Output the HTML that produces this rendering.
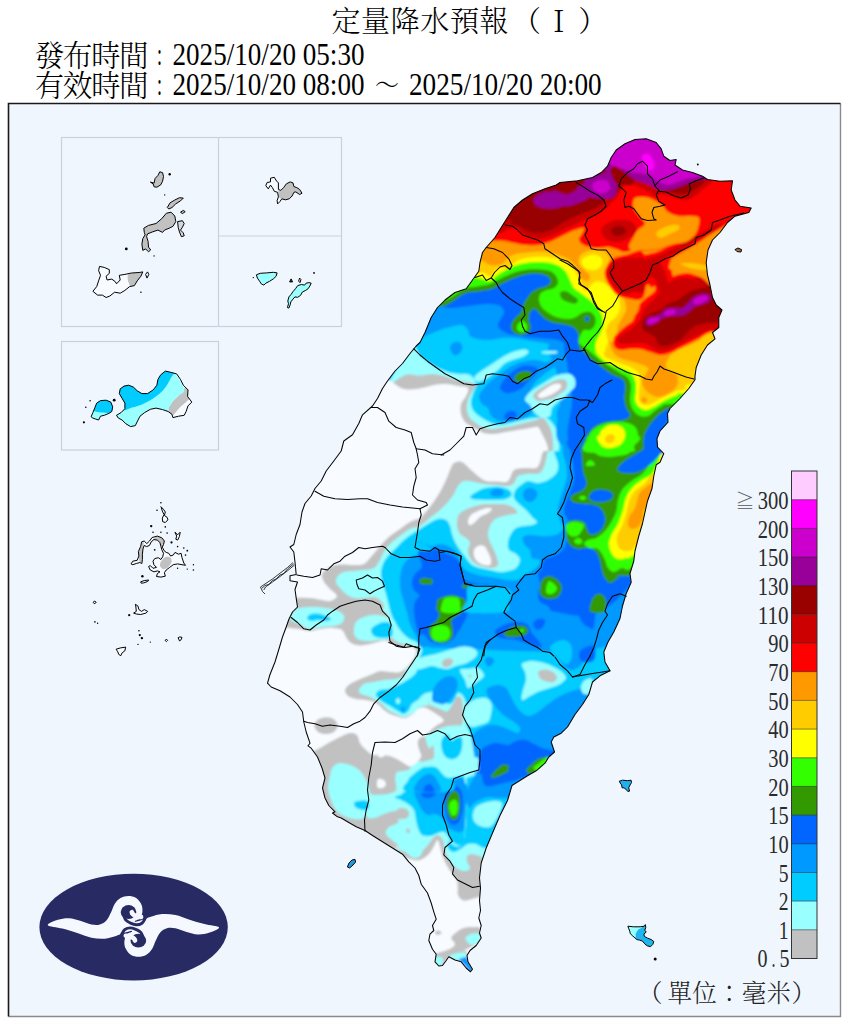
<!DOCTYPE html>
<html lang="zh-Hant"><head><meta charset="utf-8"><title>定量降水預報</title>
<style>html,body{margin:0;padding:0;background:#fff;overflow:hidden}svg{display:block}text{font-family:"Liberation Serif","Noto Serif CJK SC",serif;fill:#000}.cj{font-family:"Noto Serif CJK SC","Liberation Serif",serif;font-weight:300}</style></head><body>
<svg width="850" height="1024" viewBox="0 0 850 1024">
<rect width="850" height="1024" fill="#ffffff"/>
<rect x="8.5" y="103.5" width="832" height="913" fill="#f0f6fe"/>
<defs>
<clipPath id="tw"><path d="M420,342.5 425,332.5 431.2,317.5 437.5,307.5 445,300 455,292.5 466.2,288.8 472.5,280 478.8,271.2 480,262.5 482.5,252.5 486.2,247.5 495,237.5 501.2,227.5 507.5,217.5 513.8,207.5 522.5,200 532.5,193.8 545,188.8 556.2,185 560,182.5 577.5,180.8 592.5,177.5 601.2,172.5 607.5,166.2 611.2,157.5 616.2,150 625,143.8 635,139.5 646.2,138.8 656.2,142.5 661.2,148.8 663.8,156.2 670,160.5 676.2,159.5 675,165 682.5,170 692.5,172.5 702.5,176.2 707.5,179.5 720,181.2 732.5,180.8 731.2,190 735,200 740,206.2 751.2,208 748.8,212.5 735,216.2 727.5,222.5 720,232.5 712.5,240 708,250 706.2,262.5 707.5,275 710,285 712.5,297.5 716.2,305 722,310 718.8,317.5 718.8,327.5 712.5,332.5 715,338.8 707.5,345 701.2,355 696.2,367.5 695,376 695,379.8 688.8,388.5 680,398.5 670,408.5 667.5,413.5 668,422.2 660,431 657,438.5 657.5,447.2 663.8,453.5 660,462.2 656.2,464.8 653.8,476 652,488.5 647.5,501 645,512.2 642.5,523.5 638.8,536 635,551 633.8,561 630,573.5 631.2,582.2 626.2,593.5 622.5,606 620,618.5 613.8,632 608,642 603.8,652 605,662 610,670.8 600,675.8 592.5,682 588.8,694.5 582.5,704.5 575,714.5 567.5,727 561.2,733.2 553.8,737 551.2,742 554.5,752 548.8,757 545,763.2 536.2,770.8 527.5,775.8 517.5,782 512,785.5 507.5,800.5 500,815.5 492.5,833 486.2,848 481.2,863 479.5,878 480.5,888 479.5,900.5 480.5,910.5 478.8,918 481.2,925.5 479.5,933 481.2,938 476.2,945.5 470,950.5 467,955.5 468,961.8 472.5,969.2 470.5,971.8 466.2,968 461.2,961.8 455,960 448.8,956.8 446.2,960.5 442.5,965.5 438.8,966 435,961.8 436.2,954.2 432.5,949.2 428.8,940.5 430,934.2 433.8,930.5 432.5,925.5 436.2,919.2 433.8,911.8 431.2,903 427.5,893 421.2,884.2 418.8,875.5 415,868 408.8,861.8 402.5,854.2 392.5,848 382.5,841.8 372.5,835.5 365,830.5 356.2,826.8 347.5,821.8 341.2,818 337.5,816.8 332.5,813 335,811.8 328.8,805.5 325,798 322.5,788 325,778 322,768 317.5,757 311.2,748.2 308,745.8 310,743.2 306.2,732 303.8,722 302.5,712 297.5,704.5 290,697 280,690.8 271.2,687 267.5,683.2 270,674.5 275,662 278.8,649.5 282.5,637 286.2,627 288.8,619.5 292.5,612 297.5,607 296.2,598.2 295,589.5 297.5,582 290,580.8 290,575.8 296.2,574.5 295,562 293.8,552 290,547 293.8,544.5 296.2,534.5 300,524.5 302,512 305,503.5 311.2,496 315,488.5 321.2,481 326.2,471 333.8,461 341.2,451 343.8,441 352.5,434.8 358.8,423.5 362.5,414.8 372.5,406 377.5,398.5 382.5,388.5 387.5,381 395,371 402.5,363.5 410,353.5 416.2,346Z"/></clipPath>
<clipPath id="c_m1"><path d="M150.4,182.1 154.1,183.1 155.1,178.4 157.9,175.5 159.8,171.8 162.6,172.7 163.5,176.5 162.6,181.2 160.7,184.9 156.9,187.2 154.1,186.8 153.2,184Z"/></clipPath>
<clipPath id="c_m2"><path d="M167.3,207.5 170.1,202.8 174.8,200 179.5,197.7 183.3,198.1 180.5,200.9 175.8,203.8 172,207.5 168.8,209Z"/></clipPath>
<clipPath id="c_m3"><path d="M143.8,228.2 148.5,225.4 156,223.5 161.6,218.8 166.4,213.2 171.1,212.2 174.8,216 175.8,221.6 172.9,226.4 169.2,228.2 164.5,230.1 162.6,232.4 157.9,230.1 152.2,232 147.5,233.9 146.6,236.7 148.1,241.4 148.5,247.1 150.7,249.9 148.5,251.8 145.6,248.9 142.8,250.4 141.9,244.2 142.8,238.6 145.1,234.8 144.3,232.4Z"/></clipPath>
<clipPath id="c_m4"><path d="M177.6,221.6 182.4,220.7 184.2,223.5 182.4,227.3 180.5,230.1 183.3,232.9 184.2,235.8 181.4,236.7 179.5,232 178.2,227.3Z"/></clipPath>
<clipPath id="c_m5"><path d="M180.5,212.2 183.3,210.4 185.2,211.7 182.4,213.6Z"/></clipPath>
<clipPath id="c_m6"><path d="M92.9,291.3 96.7,286.6 98.6,280.9 100.5,275.3 98.6,270.6 99.5,266.4 104.2,267.4 109.3,269.6 109.3,273.4 106.1,276.2 107.1,280 111.8,279.1 115.5,281.9 116.5,283.8 120.2,280 119.3,275.3 124.9,274.4 131.5,273 139.1,272.5 142.8,271.9 140.9,276.2 137.2,280.9 134.4,285.6 129.6,286.6 124.9,290.4 120.2,293.2 114.6,292.2 109.9,296 106.1,297.5 102.4,295.1 97.6,295.1Z"/></clipPath>
<clipPath id="c_m7"><path d="M145.6,274.4 147.5,271.9 148.8,274.4 147,278.1Z"/></clipPath>
<clipPath id="c_w1"><path d="M265.8,185.7 267.1,182.5 270.5,181.9 270.5,178.2 274.3,177.3 276.5,181 278.4,182.9 278.4,189.4 280.8,190.4 283.6,187.6 286.4,183.8 290.2,181.9 293,182.9 293.9,186.6 296.8,187.6 299.6,189.4 302,193.2 299.6,194.5 295.8,191.9 293.9,192.3 292.1,196 289.3,198.8 285.5,199.8 281.8,198.8 279.9,201.6 277.6,203.9 277.1,200.7 278.4,196.9 277.6,192.3 274.3,191.3 272.4,187.6 270.5,185.1 268.3,188.9Z"/></clipPath>
<clipPath id="c_d1"><path d="M256.4,274.8 260.2,273.3 266.8,272.9 273.3,272.3 277.1,272.9 276.1,276.3 273.3,278.9 269.6,281.3 265.8,283.2 263.9,285.1 261.5,284.1 259.6,281.3 257.4,278.1Z"/></clipPath>
<clipPath id="c_d2"><path d="M287.8,301 288.9,296.9 291.1,294.4 293,291.6 295.8,288.3 297.7,285.6 301.4,284.5 304.6,285.1 306.1,283.2 308.9,282.6 311.2,283.2 309.9,286 308,288.8 305.2,290.7 302.4,292 300.5,295.4 297.7,297.3 294.9,296.9 293,299.1 290.8,301.9 290.2,304.8 288.9,308.1 287.4,307.6 288.5,303.8Z"/></clipPath>
<clipPath id="c_d3"><path d="M289.6,281.9 291.1,278.9 292.6,281.9Z"/></clipPath>
<clipPath id="c_d4"><path d="M298.6,281.3 299.6,278.1 300.9,279.4 300.1,282.6Z"/></clipPath>
<clipPath id="c_k1"><path d="M116.5,415.3 121.2,412.5 124.9,408.7 124.9,403.1 122.1,398.4 119.3,393.6 120.2,388.9 124,386.1 128.7,385.2 133.4,387.1 137.2,390.8 141.9,393.6 147.5,393.6 153.2,389.9 156.9,385.2 157.9,379.5 160.7,374.8 165.4,371.1 171.1,372.4 176.7,373.9 180.5,379.5 183.3,385.2 188,389.9 187.6,396.5 191.8,402.1 188,405.9 186.1,411.5 184.2,415.3 178.6,416.2 172.9,417.6 172,414.4 168.2,411.5 162.6,409.6 156,408.1 150.4,409.3 144.7,412.5 140,416.2 137.6,420.9 135.3,425.6 130.6,426.6 125.9,423.8 122.1,420 118.4,418.1Z"/></clipPath>
<clipPath id="c_k2"><path d="M91.1,416.8 92.9,412.5 94.8,407.8 96.7,403.1 100.5,400.6 106.1,400.2 110.8,402.1 112.7,406.8 111.8,411.5 108.9,413.4 104.2,415.3 100.5,416.2 98.6,420 95.8,419.1 92.9,418.1Z"/></clipPath>
<clipPath id="c_p1"><path d="M131,563.9 132.8,561.2 137.2,560.3 138.9,556 138.4,551.6 140.7,546.3 141.6,541.9 144.2,541 146.8,543.6 149.5,541 152.1,537.5 157.4,536.1 161.8,537.8 164.4,541 163.5,544.5 162.3,547.2 164.1,550.7 166.2,552.4 168.8,553.3 170.6,556 173.2,555.1 175,552.4 178.5,554.2 181.1,553.3 182,557.7 183.8,563 185.5,565.3 182,564.7 177.6,563.9 173.2,564.7 169.7,567.4 166.2,570 164.4,572.7 165.3,576.2 160.9,577.1 156.5,576.5 157.4,573.5 160,571.8 157.4,570.9 153.9,571.8 150.3,570 148.6,566.5 150.3,565.6 153,568.3 156.5,567.4 153.9,564.7 153,561.2 154.7,558.6 158.3,557.7 160.9,559.5 162.7,556.8 163.5,553.3 161.8,549.8 160.9,546.3 160,542.8 157.4,540.1 153.9,539.6 151.2,541.9 149.5,545.4 146.5,546.6 144.2,545.4 143,548.9 142.4,554.2 142.4,559.5 141.9,563.5 139.8,562.5 136.3,563.5 132.8,564.7Z"/></clipPath>
<clipPath id="c_p2"><path d="M160.9,506.7 163.5,509.3 165.3,512 164.4,515.5 167.1,517.3 167.9,519.9 165.3,522.5 162.7,521.7 162.3,518.1 164.1,514.6 162.3,511.1 161.3,507.6Z"/></clipPath>
<clipPath id="c_p3"><path d="M175,532.2 177.6,534.8 180.2,532.2 179.4,536.6 177.6,540.1 175.8,539.2 176.7,536.1Z"/></clipPath>
<clipPath id="c_p4"><path d="M140.7,581.8 144.2,580.6 148.6,580 147.7,581.5 143.7,582.9 141.2,583.2Z"/></clipPath>
<clipPath id="c_p5"><path d="M135.4,604.3 138,606.1 138.9,609.6 141.6,611.4 144.2,609.6 147.7,611.4 146,613.1 140.7,614.5 136.3,614 133.6,613.1 136.3,611.4 135.9,607Z"/></clipPath>
<clipPath id="c_p6"><path d="M116.1,649.2 120.5,647.9 125.7,647.1 124.8,650.9 122.2,652.7 120.8,655.7 118.7,654.4 117.8,651.8Z"/></clipPath>
<clipPath id="c_p7"><path d="M93.2,602.6 94.4,601 96.2,602.2 94.8,603.8Z"/></clipPath>
<clipPath id="c_p8"><path d="M165.1,640.4 166.4,639.1 167.6,640.4 166.4,641.6Z"/></clipPath>
<clipPath id="c_p9"><path d="M178.1,637.7 179.9,636.9 182,637.4 181.1,639.8 179.5,640.9Z"/></clipPath>
<clipPath id="c_ld"><path d="M619.3,781.2 622.6,780.2 627.3,780.7 631.1,780.2 631.5,782.6 630.1,784.9 628.7,787.8 629.6,791.1 627.8,791.5 625.9,789.2 624,787.8 622.1,787.8 621.6,784.9 620.2,783.1Z"/></clipPath>
<clipPath id="c_ly"><path d="M627.9,926.2 633.5,926.8 640.1,926.8 644.4,926.2 645.3,924.6 645.8,927.4 644.8,930.2 646.2,932.1 643.9,934 644.4,936.4 647.6,938.2 651.4,939.6 653.8,941.5 652.8,944.4 650.5,946.7 647.2,945.8 644.8,943.9 642.5,941.1 639.6,940.1 636.8,939.6 634.9,937.8 632.6,935.9 630.2,933.5 629.8,931.2 628.8,928.8Z"/></clipPath>
<clipPath id="c_lq"><path d="M347.4,867 349,863 352,860 355,859.4 355.6,862 353,865 349.6,868Z"/></clipPath>
<clipPath id="c_gs"><path d="M735,249.6 738,248 741.6,249.6 741,252 737,251.6Z"/></clipPath>
<filter id="bl" x="-5%" y="-5%" width="110%" height="110%"><feGaussianBlur stdDeviation="0.9"/></filter>
</defs>
<g fill="none" stroke="#c9d1dd" stroke-width="1.2">
<rect x="61.5" y="137.5" width="280" height="189"/>
<line x1="218.5" y1="137.5" x2="218.5" y2="326.5"/>
<line x1="218.5" y1="236" x2="341.5" y2="236"/>
<rect x="61.5" y="341.5" width="157" height="108.5"/>
</g>
<g clip-path="url(#tw)">
<rect x="250" y="120" width="520" height="880" fill="#f8fbff"/>
<g filter="url(#bl)">
<path d="M250,120C340,-26.7 700,-26.7 790,120C880,266.7 880,853.3 790,1000C700,1146.7 340,1146.7 250,1000C160,853.3 160,266.7 250,120Z" fill="#00ccff"/>
<path d="M411,349C416.8,342.5 417.2,353.8 420,356C422.8,358.2 425,360 428,362C431,364 434.7,366.3 438,368C441.3,369.7 444.7,371 448,372C451.3,373 454.3,373.5 458,374C461.7,374.5 467,373.3 470,375C473,376.7 475.5,380.8 476,384C476.5,387.2 473.8,391 473,394C472.2,397 471,399.3 471,402C471,404.7 471.7,407.7 473,410C474.3,412.3 476.7,414.2 479,416C481.3,417.8 483.8,419.5 487,421C490.2,422.5 494.2,424.7 498,425C501.8,425.3 506,423.8 510,423C514,422.2 518,420.8 522,420C526,419.2 530,418.3 534,418C538,417.7 542.8,417 546,418C549.2,419 551,421.3 553,424C555,426.7 557,429.7 558,434C559,438.3 559.6,447 559,450C558.4,453 554.6,449.7 554.4,452C554.2,454.3 557.7,460.5 558,464C558.3,467.5 558.1,470.3 556.4,473C554.7,475.7 551.1,478.3 548,480C544.9,481.7 541.3,482.8 538,483C534.7,483.2 530.8,480.7 528,481C525.2,481.3 523.2,483.3 521,485C518.8,486.7 516.2,488.8 515,491C513.8,493.2 513.3,495.8 514,498C514.7,500.2 517,502 519,504C521,506 523.8,507.8 526,510C528.2,512.2 530.2,515 532,517C533.8,519 537,520.7 537,522C537,523.3 534.2,524.3 532,525C529.8,525.7 526.7,525.5 524,526C521.3,526.5 518.2,526.7 516,528C513.8,529.3 512.3,531.7 511,534C509.7,536.3 508.3,539.3 508,542C507.7,544.7 507.7,548 509,550C510.3,552 514.2,552.3 516,554C517.8,555.7 520,557.7 520,560C520,562.3 518,566.2 516,568C514,569.8 510.7,570.3 508,571C505.3,571.7 503,572.2 500,572C497,571.8 493.3,570.7 490,570C486.7,569.3 483,568.8 480,568C477,567.2 474.3,566.7 472,565C469.7,563.3 468,560.5 466,558C464,555.5 461.8,552.7 460,550C458.2,547.3 456.3,544.7 455,542C453.7,539.3 452.8,536.7 452,534C451.2,531.3 451,528.3 450,526C449,523.7 448,521.2 446,520C444,518.8 441,518.3 438,519C435,519.7 431,522.3 428,524C425,525.7 422.7,527.3 420,529C417.3,530.7 414.7,532.2 412,534C409.3,535.8 406.7,537.7 404,540C401.3,542.3 398.7,545.3 396,548C393.3,550.7 390.2,553.3 388,556C385.8,558.7 384.2,561 383,564C381.8,567 381,570.7 381,574C381,577.3 382.2,580.7 383,584C383.8,587.3 385.2,591 386,594C386.8,597 387.3,599.3 388,602C388.7,604.7 389.7,608.7 390,610C390.3,611.3 389.7,609 390,610C390.3,611 391.3,614.3 392,616C392.7,617.7 392.7,617.7 394,620C395.3,622.3 397.7,627 400,630C402.3,633 405,635.8 408,638C411,640.2 415.7,641 418,643C420.3,645 421.8,647.2 422,650C422.2,652.8 419.7,657 419,660C418.3,663 418.8,665.5 418,668C417.2,670.5 416.3,672.7 414,675C411.7,677.3 407,680.2 404,682C401,683.8 398.7,684.8 396,686C393.3,687.2 390.7,688.3 388,689C385.3,689.7 382,689.2 380,690C378,690.8 376.3,692.7 376,694C375.7,695.3 376.8,696.7 378,698C379.2,699.3 381,700.7 383,702C385,703.3 387.5,704.5 390,706C392.5,707.5 395.7,709.7 398,711C400.3,712.3 402.2,714.2 404,714C405.8,713.8 407.7,711.7 409,710C410.3,708.3 410.5,705.7 412,704C413.5,702.3 416,701.7 418,700C420,698.3 421.7,695.3 424,694C426.3,692.7 430.7,692.3 432,692C433.3,691.7 430.7,690.7 432,692C433.3,693.3 437,698 440,700C443,702 447.5,704.2 450,704C452.5,703.8 453.7,700.8 455,699C456.3,697.2 456.7,693.5 458,693C459.3,692.5 461.7,694.2 463,696C464.3,697.8 465.7,701.3 466,704C466.3,706.7 465.2,709 465,712C464.8,715 464.2,718.3 465,722C465.8,725.7 468.8,730.3 470,734C471.2,737.7 471.7,740.3 472.4,744C473.1,747.7 473.4,751.7 474,756C474.6,760.3 478.3,766.8 476,770C473.7,773.2 466,783 460,775C454,767 448.3,730.3 440,722C431.7,713.7 425.8,727.8 410,725C394.2,722.2 360,714.2 345,705C330,695.8 330.8,679.2 320,670C309.2,660.8 288.7,658.3 280,650C271.3,641.7 268.8,630 268,620C267.2,610 269.7,600 275,590C280.3,580 290.8,571.7 300,560C309.2,548.3 320,533.3 330,520C340,506.7 348.3,495 360,480C371.7,465 395.8,444.2 400,430C404.2,415.8 383.2,408.5 385,395C386.8,381.5 405.2,355.5 411,349Z" fill="#99ffff"/>
<path d="M476,770C478.5,779 462.7,775.7 455,776C447.3,776.3 439.5,769 430,772C420.5,775 402,789.3 398,794C394,798.7 403.7,798 406,800C408.3,802 410.5,803.7 412,806C413.5,808.3 414.3,811 415,814C415.7,817 415.2,821 416,824C416.8,827 418.3,830.2 420,832C421.7,833.8 423.8,835.3 426,835C428.2,834.7 430.8,831.5 433,830C435.2,828.5 437,826 439,826C441,826 443.5,827.7 445,830C446.5,832.3 447.5,837 448,840C448.5,843 447,846 448,848C449,850 451.7,852 454,852C456.3,852 459.7,849.3 462,848C464.3,846.7 465.7,844.7 468,844C470.3,843.3 473.3,843.3 476,844C478.7,844.7 481,847.7 484,848C487,848.3 488,846.3 494,846C500,845.7 515.7,818.7 520,846C524.3,873.3 543.3,982.7 520,1010C496.7,1037.3 411.7,1028.3 380,1010C348.3,991.7 346.7,935 330,900C313.3,865 288.3,828.3 280,800C271.7,771.7 253.3,743 280,730C306.7,717 407.3,715.3 440,722C472.7,728.7 473.5,761 476,770Z" fill="#99ffff"/>
<path d="M404,375.6C409.8,372.4 415.3,375.9 420,375.6C424.7,375.3 428,373.9 432,374C436,374.1 440,375 444,376C448,377 452,379 456,380C460,381 464.7,381.2 468,382C471.3,382.8 475.3,383.3 476,385C476.7,386.7 473.3,389.5 472,392C470.7,394.5 468.8,397 468,400C467.2,403 466.7,407 467,410C467.3,413 468.5,415.8 470,418C471.5,420.2 474,421.5 476,423C478,424.5 479.7,426 482,427C484.3,428 487,428.8 490,429C493,429.2 496.3,428.5 500,428C503.7,427.5 508,426.8 512,426C516,425.2 520,424 524,423C528,422 532.8,420.8 536,420C539.2,419.2 541,417.3 543,418C545,418.7 546.5,421.3 548,424C549.5,426.7 551.2,429.7 552,434C552.8,438.3 553.7,447 553,450C552.3,453 549.3,449.7 548,452C546.7,454.3 546.3,460.5 545,464C543.7,467.5 542.8,471.3 540,473C537.2,474.7 531.7,473.5 528,474C524.3,474.5 520.3,474.5 518,476C515.7,477.5 515.7,481.3 514,483C512.3,484.7 511,485.7 508,486C505,486.3 500,485.3 496,485C492,484.7 487.7,484.5 484,484C480.3,483.5 477.3,482.5 474,482C470.7,481.5 466.7,480.3 464,481C461.3,481.7 459.7,483.8 458,486C456.3,488.2 455.7,491.3 454,494C452.3,496.7 450.3,499.3 448,502C445.7,504.7 443,507.3 440,510C437,512.7 433.3,515.3 430,518C426.7,520.7 423.3,524.2 420,526C416.7,527.8 413.3,527.3 410,529C406.7,530.7 403.3,533.5 400,536C396.7,538.5 392.7,541.3 390,544C387.3,546.7 385.7,549.3 384,552C382.3,554.7 381.7,557.3 380,560C378.3,562.7 376.7,566.3 374,568C371.3,569.7 367.3,569.5 364,570C360.7,570.5 357.3,570.7 354,571C350.7,571.3 346.7,571.2 344,572C341.3,572.8 339.3,574.3 338,576C336.7,577.7 335.7,580 336,582C336.3,584 338.3,586 340,588C341.7,590 343.7,592.3 346,594C348.3,595.7 351,597.3 354,598C357,598.7 360.7,598.2 364,598C367.3,597.8 371.3,596.7 374,597C376.7,597.3 378.3,598.5 380,600C381.7,601.5 383.7,604.3 384,606C384.3,607.7 382.3,609.3 382,610C381.7,610.7 381,609.2 382,610C383,610.8 386.6,613 388,615C389.4,617 389.9,618.5 390.4,622C390.9,625.5 389.4,632.5 391,636C392.6,639.5 396.8,641.5 400,643C403.2,644.5 407,644.2 410,645C413,645.8 417,646.2 418,648C419,649.8 417,653.3 416,656C415,658.7 413.7,661.8 412,664C410.3,666.2 407.3,667 406,669C404.7,671 405.7,674.3 404,676C402.3,677.7 399.3,678.3 396,679C392.7,679.7 387.7,679.5 384,680C380.3,680.5 377.3,681.3 374,682C370.7,682.7 366.5,682.7 364,684C361.5,685.3 359.5,688.3 359,690C358.5,691.7 359.5,693 361,694C362.5,695 365.5,695 368,696C370.5,697 373.7,698.7 376,700C378.3,701.3 380,702.3 382,704C384,705.7 385.7,708.3 388,710C390.3,711.7 393.3,712.8 396,714C398.7,715.2 401.3,717 404,717C406.7,717 409.3,715.3 412,714C414.7,712.7 416.7,710 420,709C423.3,708 430.3,708.7 432,708C433.7,707.3 428.7,704.8 430,705C431.3,705.2 436.7,707.8 440,709C443.3,710.2 447.5,712.8 450,712C452.5,711.2 453.7,706.5 455,704C456.3,701.5 457,697.7 458,697C459,696.3 460.5,697.5 461,700C461.5,702.5 461.2,708.3 461,712C460.8,715.7 459.8,719.3 460,722C460.2,724.7 463,726.8 462,728C461,729.2 457,728.7 454,729C451,729.3 447.3,729.3 444,730C440.7,730.7 437,731.7 434,733C431,734.3 426.3,736.2 426,738C425.7,739.8 430.7,741.7 432,744C433.3,746.3 434.3,749.7 434,752C433.7,754.3 432,756.7 430,758C428,759.3 420.3,766 422,760C423.7,754 442,727.8 440,722C438,716.2 425.8,727.8 410,725C394.2,722.2 360,714.2 345,705C330,695.8 330.8,679.2 320,670C309.2,660.8 288.7,658.3 280,650C271.3,641.7 268.8,630 268,620C267.2,610 269.7,600 275,590C280.3,580 290.8,571.7 300,560C309.2,548.3 320,533.3 330,520C340,506.7 348.3,495 360,480C371.7,465 395.8,444.2 400,430C404.2,415.8 384.3,404.1 385,395C385.7,385.9 398.2,378.8 404,375.6Z" fill="#c1c1c1"/>
<path d="M285,735C295,723.3 320.8,731.7 340,730C359.2,728.3 383.3,726.3 400,725C416.7,723.7 430.8,720.3 440,722C449.2,723.7 453,728.7 455,735C457,741.3 454.5,753.8 452,760C449.5,766.2 447,768.7 440,772C433,775.3 416.7,777 410,780C403.3,783 402,778.3 400,790C398,801.7 398.3,840 398,850C397.7,860 396.3,849.7 398,850C399.7,850.3 405,851.5 408,852C411,852.5 413.3,853.5 416,853C418.7,852.5 421.7,850.8 424,849C426.3,847.2 428.3,844 430,842C431.7,840 432.7,838.2 434,837C435.3,835.8 436.5,834.5 438,835C439.5,835.5 441.8,837.5 443,840C444.2,842.5 444.2,847 445,850C445.8,853 446.5,855.3 448,858C449.5,860.7 452,864 454,866C456,868 458,869.2 460,870C462,870.8 464.3,871.3 466,871C467.7,870.7 469.8,869.5 470,868C470.2,866.5 467.5,864 467,862C466.5,860 466.2,857.3 467,856C467.8,854.7 469.8,854 472,854C474.2,854 477.3,855 480,856C482.7,857 481.3,859.3 488,860C494.7,860.7 514.7,835 520,860C525.3,885 543.3,985 520,1010C496.7,1035 411.7,1028.3 380,1010C348.3,991.7 346.7,935 330,900C313.3,865 287.5,827.5 280,800C272.5,772.5 275,746.7 285,735Z" fill="#c1c1c1"/>
<path d="M404,389C412.7,390.3 417,388.7 422,388C427,387.3 430,385.7 434,385C438,384.3 442,383.8 446,384C450,384.2 454.3,385.3 458,386C461.7,386.7 466.7,386.3 468,388C469.3,389.7 467.2,393.3 466,396C464.8,398.7 461.8,401 461,404C460.2,407 460.3,411 461,414C461.7,417 463.2,419.8 465,422C466.8,424.2 469.8,425.7 472,427C474.2,428.3 476,429 478,430C480,431 481.3,432.3 484,433C486.7,433.7 490.3,434.2 494,434C497.7,433.8 502,432.7 506,432C510,431.3 514,430.7 518,430C522,429.3 526.7,428.5 530,428C533.3,427.5 536,426 538,427C540,428 540.7,431.5 542,434C543.3,436.5 545,439.3 546,442C547,444.7 548.5,448.3 548,450C547.5,451.7 544.3,450 543,452C541.7,454 541.2,459.3 540,462C538.8,464.7 538.7,467 536,468C533.3,469 527.7,467.7 524,468C520.3,468.3 516.3,468.3 514,470C511.7,471.7 511.3,476 510,478C508.7,480 508.3,481.4 506,482C503.7,482.6 499.3,481.8 496,481.6C492.7,481.4 489,481.9 486,481C483,480.1 480.7,478 478,476C475.3,474 472.7,471.3 470,469C467.3,466.7 464.7,463 462,462C459.3,461 456,461.7 454,463C452,464.3 451.3,467.2 450,470C448.7,472.8 447.7,476.3 446,480C444.3,483.7 442.3,488 440,492C437.7,496 434.7,500.3 432,504C429.3,507.7 426,511.7 424,514C422,516.3 422.3,516.7 420,518C417.7,519.3 413.3,520.2 410,522C406.7,523.8 403.3,526.7 400,529C396.7,531.3 393,533.5 390,536C387,538.5 384.3,541.5 382,544C379.7,546.5 378,548.7 376,551C374,553.3 372,555.8 370,558C368,560.2 366.7,562.8 364,564C361.3,565.2 357.3,564.9 354,565C350.7,565.1 347,564.4 344,564.4C341,564.4 338.7,564.4 336,565C333.3,565.6 330.3,566.5 328,568C325.7,569.5 322.7,571.7 322,574C321.3,576.3 322.7,579.5 324,582C325.3,584.5 327.8,586.7 330,589C332.2,591.3 337,594 337,596C337,598 332.8,600.4 330,601C327.2,601.6 323.3,600.1 320,599.6C316.7,599.1 315,598.3 310,598C305,597.7 296.7,597.7 290,598C283.3,598.3 278.3,613 270,600C261.7,587 235,546.7 240,520C245,493.3 278.3,463.3 300,440C321.7,416.7 352.7,388.5 370,380C387.3,371.5 395.3,387.7 404,389Z" fill="#f8fbff"/>
<path d="M280,627C284.7,627.3 293,628.3 298,629C303,629.7 306.3,631 310,631C313.7,631 316.3,629.5 320,629C323.7,628.5 328.3,627.8 332,628C335.7,628.2 339.7,628.5 342,630C344.3,631.5 344.5,634.8 346,637C347.5,639.2 348.7,641.6 351,643C353.3,644.4 356.5,645.5 360,645.6C363.5,645.7 368,644.4 372,643.6C376,642.8 381,640.8 384,640.6C387,640.4 387.3,641.4 390,642.4C392.7,643.4 396.7,645.6 400,646.4C403.3,647.2 407.3,646.4 410,647C412.7,647.6 415.3,648.2 416,650C416.7,651.8 415.3,655.3 414,658C412.7,660.7 410.3,663.7 408,666C405.7,668.3 403,671 400,672C397,673 393.3,672.2 390,672C386.7,671.8 383.3,670.5 380,671C376.7,671.5 373.3,673.7 370,675C366.7,676.3 363.3,677.5 360,679C356.7,680.5 352.5,682.2 350,684C347.5,685.8 345.3,688 345,690C344.7,692 346.2,694.5 348,696C349.8,697.5 353,698.3 356,699C359,699.7 363,699.5 366,700C369,700.5 371.7,701 374,702C376.3,703 378,704.3 380,706C382,707.7 383.3,710.3 386,712C388.7,713.7 392.7,715 396,716C399.3,717 402.7,718.7 406,718C409.3,717.3 412.7,713.7 416,712C419.3,710.3 423.3,708.7 426,708C428.7,707.3 431.7,707.8 432,708C432.3,708.2 427,707.8 428,709C429,710.2 435,713.2 438,715C441,716.8 446,718.3 446,720C446,721.7 440.7,723.3 438,725C435.3,726.7 432.3,728.5 430,730C427.7,731.5 423.3,734 424,734C424.7,734 433.9,730.1 434,730C434.1,729.9 427,732.3 424.4,733.6C421.8,734.9 419.5,735.9 418.4,738C417.3,740.1 417.7,743 418,746C418.3,749 420.4,753.2 420.4,756C420.4,758.8 419.6,761.3 418,763C416.4,764.7 413.3,766.5 411,766.4C408.7,766.3 406.8,764 404,762.4C401.2,760.8 397.7,757.7 394,756.6C390.3,755.5 385.7,756 382,755.6C378.3,755.2 374.8,755.5 372,754.4C369.2,753.3 367,750.9 365,749C363,747.1 361.3,745.3 360,743C358.7,740.7 358.7,736.7 357,735C355.3,733.3 352.8,732.7 350,733C347.2,733.3 343.3,735.5 340,737C336.7,738.5 333.3,740.2 330,742C326.7,743.8 323.7,746.2 320,748C316.3,749.8 311.3,752.3 308,753C304.7,753.7 306.3,760.8 300,752C293.7,743.2 275,720.8 270,700C265,679.2 268.3,639.2 270,627C271.7,614.8 275.3,626.7 280,627Z" fill="#f8fbff"/>
<path d="M398,854C400.5,854.5 406.3,858 410,859C413.7,860 416.8,860.8 420,860C423.2,859.2 426.7,856.3 429,854C431.3,851.7 432.6,848.3 434,846C435.4,843.7 436.6,840 437.6,840C438.6,840 439.2,843.3 440,846C440.8,848.7 441.4,853 442.4,856C443.4,859 444.6,861.3 446,864C447.4,866.7 449.2,869.2 451,872C452.8,874.8 455.8,877.7 457,881C458.2,884.3 457.5,889.2 458,892C458.5,894.8 458.7,896.6 460,898C461.3,899.4 463.7,900.3 466,900.4C468.3,900.5 470.7,899.1 474,898.4C477.3,897.7 478.3,896.6 486,896C493.7,895.4 514.3,876 520,895C525.7,914 543.3,990.8 520,1010C496.7,1029.2 400.8,1035.7 380,1010C359.2,984.3 392,882 395,856C398,830 395.5,853.5 398,854Z" fill="#f8fbff"/>
<path d="M314.4,725.6C314.4,723.5 316.1,721 318,719.6C319.9,718.2 323.3,717.3 326,717.2C328.7,717.1 332.1,717.8 334,719.2C335.9,720.6 337.6,723.5 337.6,725.6C337.6,727.7 335.9,730.6 334,732C332.1,733.4 328.7,734 326,734C323.3,734 319.9,733.4 318,732C316.1,730.6 314.4,727.7 314.4,725.6Z" fill="#c1c1c1"/>
<path d="M318,754C319,749.8 323,750.8 326,749C329,747.2 333.3,744.8 336,743C338.7,741.2 339.7,739.5 342,738C344.3,736.5 347.7,734 350,734C352.3,734 354.5,736 356,738C357.5,740 357.7,743.7 359,746C360.3,748.3 361.8,750.5 364,752C366.2,753.5 369.3,754 372,755C374.7,756 375.3,757.5 380,758C384.7,758.5 393.7,758.3 400,758C406.3,757.7 414.7,759 418,756C421.3,753 418.7,743.3 420,740C421.3,736.7 423.7,736.7 426,736C428.3,735.3 432.7,729.7 434,736C435.3,742.3 453,767.7 434,774C415,780.3 339.3,777.3 320,774C300.7,770.7 317,758.2 318,754Z" fill="#c1c1c1"/>
<path d="M290,618C289.8,616.3 291.3,613.7 293,612C294.7,610.3 296.8,608.8 300,608C303.2,607.2 307.7,607 312,607C316.3,607 321.7,607.3 326,608C330.3,608.7 335,609.7 338,611C341,612.3 343.3,614 344,616C344.7,618 343.7,621.3 342,623C340.3,624.7 337.3,625.3 334,626C330.7,626.7 325.3,626.5 322,627C318.7,627.5 316.7,628.8 314,629C311.3,629.2 308.3,628.8 306,628C303.7,627.2 302,625 300,624C298,623 295.7,623 294,622C292.3,621 290.2,619.7 290,618Z" fill="#99ffff"/>
<path d="M354,630C354.2,627.7 354.3,624.2 356,622C357.7,619.8 361,618.2 364,617C367,615.8 370.7,615.2 374,615C377.3,614.8 381,615.2 384,616C387,616.8 390.5,617.7 392,620C393.5,622.3 393.2,627 393,630C392.8,633 393.2,636.3 391,638C388.8,639.7 383.5,639.5 380,640C376.5,640.5 373.3,641 370,641C366.7,641 362.5,640.8 360,640C357.5,639.2 356,637.7 355,636C354,634.3 353.8,632.3 354,630Z" fill="#99ffff"/>
<path d="M332,774C328.8,772.8 332.3,768.6 334,767C335.7,765.4 339.3,764.6 342,764.4C344.7,764.2 348.2,764.4 350,766C351.8,767.6 356,772.7 353,774C350,775.3 335.2,775.2 332,774Z" fill="#99ffff"/>
<path d="M420,752C418,750 420.7,744.3 422,742C423.3,739.7 426,738.7 428,738C430,737.3 433,735.3 434,738C435,740.7 436.3,751.7 434,754C431.7,756.3 422,754 420,752Z" fill="#99ffff"/>
<path d="M328,788C327.8,784 329.2,779.5 330,776C330.8,772.5 331.3,769.2 333,767C334.7,764.8 337.2,763.3 340,763C342.8,762.7 346.8,763.8 350,765C353.2,766.2 356.5,767.8 359,770C361.5,772.2 363.3,775 365,778C366.7,781 368.2,784.3 369,788C369.8,791.7 370.2,796.3 370,800C369.8,803.7 369,807 368,810C367,813 366.3,816.5 364,818C361.7,819.5 357.3,819.3 354,819C350.7,818.7 347,817.5 344,816C341,814.5 338.2,812.7 336,810C333.8,807.3 332.3,803.7 331,800C329.7,796.3 328.2,792 328,788Z" fill="#99ffff"/>
<path d="M367,794C368.2,790.5 371.2,795 374,795C376.8,795 381,794.8 384,794C387,793.2 390.2,792 392,790C393.8,788 394.7,784.7 395,782C395.3,779.3 393.2,775.8 394,774C394.8,772.2 397.3,772 400,771C402.7,770 407,769 410,768C413,767 415.7,766.7 418,765C420.3,763.3 423.3,760.8 424,758C424.7,755.2 422.2,751 422,748C421.8,745 421.7,742.2 423,740C424.3,737.8 427.2,736.3 430,735C432.8,733.7 436.7,733 440,732C443.3,731 446,729.8 450,729C454,728.2 461.7,708.5 464,727C466.3,745.5 468.2,822.2 464,840C459.8,857.8 444,834.7 439,834C434,833.3 435.8,835 434,836C432.2,837 429.7,838 428,840C426.3,842 425.3,845.3 424,848C422.7,850.7 421.7,854.3 420,856C418.3,857.7 416,858.3 414,858C412,857.7 410.3,856 408,854C405.7,852 402.7,848.3 400,846C397.3,843.7 394.3,842 392,840C389.7,838 386.7,836 386,834C385.3,832 386.3,829.7 388,828C389.7,826.3 393,825.3 396,824C399,822.7 403.8,821.7 406,820C408.2,818.3 409.3,815.7 409,814C408.7,812.3 406.5,810.5 404,810C401.5,809.5 397.3,810.3 394,811C390.7,811.7 387.3,812.8 384,814C380.7,815.2 376.8,817.7 374,818C371.2,818.3 368.2,820 367,816C365.8,812 365.8,797.5 367,794Z" fill="#99ffff"/>
<path d="M307,618C307,616.8 309.2,614.7 311,614C312.8,613.3 315.5,613.3 318,613.6C320.5,613.9 323.8,615.1 326,616C328.2,616.9 331,618.2 331,619C331,619.8 328.2,620.8 326,621C323.8,621.2 320.5,620 318,620C315.5,620 312.8,621.3 311,621C309.2,620.7 307,619.2 307,618Z" fill="#00ccff"/>
<path d="M371,630C371.3,628.2 373.8,626.3 376,625C378.2,623.7 381.5,622.2 384,622C386.5,621.8 389.7,621.7 391,624C392.3,626.3 393.5,633.7 392,636C390.5,638.3 385,638 382,638C379,638 375.8,637.3 374,636C372.2,634.7 370.7,631.8 371,630Z" fill="#00ccff"/>
<path d="M354,803C354.5,802.1 355.8,801.3 358,801C360.2,800.7 365.2,800.2 367,801C368.8,801.8 369.2,804.5 369,806C368.8,807.5 367.7,809.5 366,810C364.3,810.5 360.8,809.6 359,809C357.2,808.4 355.8,807.4 355,806.4C354.2,805.4 353.5,803.9 354,803Z" fill="#00ccff"/>
<path d="M395,797C395.2,796 400,795.8 402,794C404,792.2 405.7,789 407,786C408.3,783 408.2,778.8 410,776C411.8,773.2 414.7,770.7 418,769C421.3,767.3 426.7,765.8 430,766C433.3,766.2 436,768 438,770C440,772 440,776.7 442,778C444,779.3 446.3,778.3 450,778C453.7,777.7 461.7,765.7 464,776C466.3,786.3 466,829 464,840C462,851 454.7,842.7 452,842C449.3,841.3 449.3,837.7 448,836C446.7,834.3 445.7,832.5 444,832C442.3,831.5 440.3,832.3 438,833C435.7,833.7 432.7,835.7 430,836C427.3,836.3 424,836.3 422,835C420,833.7 419,830.5 418,828C417,825.5 416.7,823 416,820C415.3,817 415.3,812.7 414,810C412.7,807.3 410.2,805.7 408,804C405.8,802.3 403.2,801.2 401,800C398.8,798.8 394.8,798 395,797Z" fill="#00ccff"/>
<path d="M441,746C440.8,743 442.2,739.8 444,738C445.8,736.2 448.7,735.7 452,735C455.3,734.3 462,730.2 464,734C466,737.8 466,753.8 464,758C462,762.2 455.2,759.3 452,759C448.8,758.7 446.8,758.2 445,756C443.2,753.8 441.2,749 441,746Z" fill="#00ccff"/>
<path d="M479,396C479.3,393.3 481.8,390.7 484,388C486.2,385.3 489.3,382.3 492,380C494.7,377.7 497.3,376 500,374C502.7,372 505.3,369.7 508,368C510.7,366.3 513,365.2 516,364C519,362.8 522.7,361.7 526,361C529.3,360.3 532.7,359.8 536,360C539.3,360.2 543,362 546,362C549,362 552,359.7 554,360C556,360.3 558.7,362.3 558,364C557.3,365.7 552.7,368 550,370C547.3,372 544.7,373.7 542,376C539.3,378.3 536,381.3 534,384C532,386.7 531.3,389.7 530,392C528.7,394.3 526,396 526,398C526,400 528.7,402 530,404C531.3,406 534.3,408 534,410C533.7,412 530.7,414.3 528,416C525.3,417.7 521.7,419 518,420C514.3,421 509.7,422 506,422C502.3,422 498.7,421.3 496,420C493.3,418.7 491.3,416 490,414C488.7,412 489.3,409.7 488,408C486.7,406.3 483.5,406 482,404C480.5,402 478.7,398.7 479,396Z" fill="#0099ff"/>
<path d="M450,348C449.8,346 451.5,344 453,343C454.5,342 457.4,341.3 459,342C460.6,342.7 462.2,345.2 462.4,347C462.6,348.8 461.4,351.7 460,353C458.6,354.3 455.7,355.8 454,355C452.3,354.2 450.2,350 450,348Z" fill="#0099ff"/>
<path d="M558,408C559.5,405.3 563,403.3 566,402C569,400.7 573,400.3 576,400C579,399.7 582.7,391 584,400C585.3,409 586.3,445 584,454C581.7,463 573.3,456.3 570,454C566.7,451.7 565.7,444.3 564,440C562.3,435.7 561.2,431.7 560,428C558.8,424.3 557.3,421.3 557,418C556.7,414.7 556.5,410.7 558,408Z" fill="#0099ff"/>
<path d="M523,494C523.2,492.2 524.5,490 526,489C527.5,488 530.2,487.5 532,488C533.8,488.5 536.3,490.3 537,492C537.7,493.7 537,496.3 536,498C535,499.7 532.8,501.7 531,502C529.2,502.3 526.3,501.3 525,500C523.7,498.7 522.8,495.8 523,494Z" fill="#0099ff"/>
<path d="M418,598C428.3,590.5 470,596 480,598C490,600 479,606.3 478,610C477,613.7 475.3,616.7 474,620C472.7,623.3 471.7,626.7 470,630C468.3,633.3 466.7,637.2 464,640C461.3,642.8 457.7,645.7 454,647C450.3,648.3 446,648.2 442,648C438,647.8 434,646.8 430,646C426,645.2 420,651 418,643C416,635 407.7,605.5 418,598Z" fill="#0099ff"/>
<path d="M432,696C432.3,693.3 433.3,688.8 435,686C436.7,683.2 439.5,680.7 442,679C444.5,677.3 447.5,675.8 450,676C452.5,676.2 455.8,678 457,680C458.2,682 457.7,685.3 457,688C456.3,690.7 454.8,693.5 453,696C451.2,698.5 448.5,701.5 446,703C443.5,704.5 440.2,705.2 438,705C435.8,704.8 434,703.5 433,702C432,700.5 431.7,698.7 432,696Z" fill="#0099ff"/>
<path d="M485,659C485.5,657.5 488.5,656.8 490,657C491.5,657.2 493.7,658.7 494,660C494.3,661.3 493.2,664 492,665C490.8,666 488.2,667 487,666C485.8,665 484.5,660.5 485,659Z" fill="#0099ff"/>
<path d="M487,689C488.5,687.2 493.8,685.2 497,685C500.2,684.8 503.7,686 506,688C508.3,690 509.3,694 511,697C512.7,700 514.2,703.3 516,706C517.8,708.7 519.8,711.3 522,713C524.2,714.7 526.3,716.2 529,716C531.7,715.8 534.8,714 538,712C541.2,710 544.3,706.7 548,704C551.7,701.3 556,698.2 560,696C564,693.8 568.7,692.2 572,691C575.3,689.8 576.3,689.8 580,689C583.7,688.2 591.7,671.8 594,686C596.3,700.2 613.3,759.3 594,774C574.7,788.7 497.8,776.7 478,774C458.2,771.3 475.9,763 475,758C474.1,753 472.8,747.7 472.4,744C472,740.3 471.1,738.5 472.4,736C473.7,733.5 477.1,730.8 480,729C482.9,727.2 486.7,725.5 490,725C493.3,724.5 496.7,725.2 500,726C503.3,726.8 507,728.8 510,730C513,731.2 516.3,733.3 518,733C519.7,732.7 520.7,729.8 520,728C519.3,726.2 516.3,723.8 514,722C511.7,720.2 508.5,718.8 506,717C503.5,715.2 501.2,713.3 499,711C496.8,708.7 494.8,705.5 493,703C491.2,700.5 489,698.3 488,696C487,693.7 485.5,690.8 487,689Z" fill="#0099ff"/>
<path d="M492,632C492.7,629.8 497,626.8 500,625C503,623.2 507.7,625.5 510,621C512.3,616.5 500,601.8 514,598C528,594.2 580.7,588.7 594,598C607.3,607.3 595.3,644 594,654C592.7,664 588.3,656 586,658C583.7,660 582.3,664 580,666C577.7,668 574.7,670 572,670C569.3,670 566.3,668 564,666C561.7,664 560.3,660.7 558,658C555.7,655.3 553,652 550,650C547,648 543,647.7 540,646C537,644.3 534.7,641 532,640C529.3,639 527,639.8 524,640C521,640.2 517.3,641 514,641C510.7,641 507,640.5 504,640C501,639.5 498,639.3 496,638C494,636.7 491.3,634.2 492,632Z" fill="#0099ff"/>
<path d="M414,790C414.3,787.2 416,782.7 418,780C420,777.3 423.3,775.2 426,774C428.7,772.8 431.7,772 434,773C436.3,774 438.5,777.2 440,780C441.5,782.8 442,789 443,790C444,791 444.5,787.3 446,786C447.5,784.7 449.7,783 452,782C454.3,781 457.7,779.7 460,780C462.3,780.3 464.7,782 466,784C467.3,786 467.8,789 468,792C468.2,795 467.7,798.7 467,802C466.3,805.3 465.2,808.7 464,812C462.8,815.3 461.7,819.5 460,822C458.3,824.5 456,826.7 454,827C452,827.3 449.8,825.5 448,824C446.2,822.5 444.3,820.3 443,818C441.7,815.7 441.2,812 440,810C438.8,808 437.7,806 436,806C434.3,806 432,809.7 430,810C428,810.3 425.7,809.3 424,808C422.3,806.7 421.3,803.8 420,802C418.7,800.2 417,799 416,797C415,795 413.7,792.8 414,790Z" fill="#0099ff"/>
<path d="M480,758C492.2,756.7 542,756.3 552,758C562,759.7 544,765.2 540,768C536,770.8 531.7,772.8 528,775C524.3,777.2 520.3,778.8 518,781C515.7,783.2 515.2,785.3 514,788C512.8,790.7 513.3,795.3 511,797C508.7,798.7 503.5,798 500,798C496.5,798 493,796.8 490,797C487,797.2 484.7,798 482,799C479.3,800 476.2,801.5 474,803C471.8,804.5 470.2,809.2 469,808C467.8,806.8 466.8,800 467,796C467.2,792 468.5,787.7 470,784C471.5,780.3 474.5,777 476,774C477.5,771 478.3,768.7 479,766C479.7,763.3 467.8,759.3 480,758Z" fill="#0099ff"/>
<path d="M414,788C414.5,785.5 416,782.3 418,780C420,777.7 423.3,775.2 426,774C428.7,772.8 431.8,772.3 434,773C436.2,773.7 437.8,775.8 439,778C440.2,780.2 439.5,785 441,786C442.5,787 444.2,785 448,784C451.8,783 461.3,772.7 464,780C466.7,787.3 466.3,819.8 464,828C461.7,836.2 453,830 450,829C447,828 447.7,824.2 446,822C444.3,819.8 442,817.3 440,816C438,814.7 436,814.2 434,814C432,813.8 430,815.7 428,815C426,814.3 423.7,812.2 422,810C420.3,807.8 419.2,804.5 418,802C416.8,799.5 415.7,797.3 415,795C414.3,792.7 413.5,790.5 414,788Z" fill="#0099ff"/>
<path d="M421,336.4C426,337.1 426.8,335.1 430,334C433.2,332.9 436.7,331.2 440,330C443.3,328.8 446.3,327.8 450,327C453.7,326.2 459,324.5 462,325C465,325.5 466.7,328.2 468,330C469.3,331.8 468.3,334.5 470,336C471.7,337.5 474.7,338.3 478,339C481.3,339.7 486,340.2 490,340C494,339.8 498,338.3 502,338C506,337.7 510,337.7 514,338C518,338.3 522,339.3 526,340C530,340.7 534,341.3 538,342C542,342.7 546.3,343.3 550,344C553.7,344.7 556.7,345.2 560,346C563.3,346.8 566.7,348.3 570,349C573.3,349.7 575,349.5 580,350C585,350.5 596.7,368.7 600,352C603.3,335.3 620,267 600,250C580,233 513.3,236.7 480,250C446.7,263.3 409.8,315.6 400,330C390.2,344.4 416,335.7 421,336.4Z" fill="#0099ff"/>
<path d="M550,344C556.5,339.7 582.5,338.8 595,344C607.5,349.2 618.5,365.7 625,375C631.5,384.3 632.5,388.3 634,400C635.5,411.7 646,437.5 634,445C622,452.5 574.3,452.5 562,445C549.7,437.5 561,412.5 560,400C559,387.5 557.7,379.3 556,370C554.3,360.7 543.5,348.3 550,344Z" fill="#0099ff"/>
<path d="M564,438C563.8,441.7 562.7,447.7 563,452C563.3,456.3 565.3,460 566,464C566.7,468 567.3,472 567,476C566.7,480 565.2,484 564,488C562.8,492 561,496.3 560,500C559,503.7 558,506.7 558,510C558,513.3 559.2,517 560,520C560.8,523 563.3,525.7 563,528C562.7,530.3 560.2,532.7 558,534C555.8,535.3 553,535.7 550,536C547,536.3 543.3,536.2 540,536C536.7,535.8 532.8,534.8 530,535C527.2,535.2 524,535.5 523,537C522,538.5 522.8,541.8 524,544C525.2,546.2 528.7,547.7 530,550C531.3,552.3 530.3,556.3 532,558C533.7,559.7 539,558.7 540,560C541,561.3 539.3,564.2 538,566C536.7,567.8 534.3,569.5 532,571C529.7,572.5 526.3,573.5 524,575C521.7,576.5 520.7,579.2 518,580C515.3,580.8 511.7,580.3 508,580C504.3,579.7 500,578.7 496,578C492,577.3 488,576.8 484,576C480,575.2 475.5,574.3 472,573C468.5,571.7 465,570.2 463,568C461,565.8 461.2,562.7 460,560C458.8,557.3 458,554.3 456,552C454,549.7 450.7,547.3 448,546C445.3,544.7 442.7,544 440,544C437.3,544 434.7,546 432,546C429.3,546 426.3,544.7 424,544C421.7,543.3 416.3,541 418,542C419.7,543 433.7,548 434,550C434.3,552 424,552.7 420,554C416,555.3 412.7,556.3 410,558C407.3,559.7 405.5,561.7 404,564C402.5,566.3 401.7,569 401,572C400.3,575 400,578.7 400,582C400,585.3 400.3,588.7 401,592C401.7,595.3 403.2,599 404,602C404.8,605 405.7,608.7 406,610C406.3,611.3 405.8,609.7 406,610C406.2,610.3 406.3,609.7 407,612C407.7,614.3 408.7,620.3 410,624C411.3,627.7 413.3,631.3 415,634C416.7,636.7 418.2,638 420,640C421.8,642 424,644.7 426,646C428,647.3 429.7,647.7 432,648C434.3,648.3 412,648 440,648C468,648 566.7,656 600,648C633.3,640 633.3,636.3 640,600C646.7,563.7 652.7,458.3 640,430C627.3,401.7 576.7,428.7 564,430C551.3,431.3 564.2,434.3 564,438Z" fill="#0099ff"/>
<path d="M500,388C499.7,385.8 502,382.7 504,380C506,377.3 509,374.3 512,372C515,369.7 518.7,367 522,366C525.3,365 529.3,365.5 532,366C534.7,366.5 537.7,367.3 538,369C538.3,370.7 535.7,373.8 534,376C532.3,378.2 530,380 528,382C526,384 524.3,386.3 522,388C519.7,389.7 516.7,391.2 514,392C511.3,392.8 508.3,393.7 506,393C503.7,392.3 500.3,390.2 500,388Z" fill="#0066ff"/>
<path d="M504,418C503.7,416.8 504.7,414.2 506,413C507.3,411.8 510.2,410.8 512,411C513.8,411.2 516.7,412.7 517,414C517.3,415.3 515.5,418 514,419C512.5,420 509.7,420.2 508,420C506.3,419.8 504.3,419.2 504,418Z" fill="#0066ff"/>
<path d="M418,598C426.7,592.2 461.7,595.7 470,598C478.3,600.3 469,608 468,612C467,616 465.7,618.7 464,622C462.3,625.3 460,629 458,632C456,635 454.7,638 452,640C449.3,642 445.7,643.8 442,644C438.3,644.2 433,642.7 430,641C427,639.3 426,635.3 424,634C422,632.7 419,639 418,633C417,627 409.3,603.8 418,598Z" fill="#0066ff"/>
<path d="M576,598C573.3,600.3 577,608 578,612C579,616 580.3,619.5 582,622C583.7,624.5 586,626.2 588,627C590,627.8 593,631.8 594,627C595,622.2 597,602.8 594,598C591,593.2 578.7,595.7 576,598Z" fill="#0066ff"/>
<path d="M579,656C578.8,653.8 579.5,650.7 582,649C584.5,647.3 592,644.2 594,646C596,647.8 595.8,657.3 594,660C592.2,662.7 585.5,662.7 583,662C580.5,661.3 579.2,658.2 579,656Z" fill="#0066ff"/>
<path d="M533,624C533.2,622.2 536,619.7 538,619C540,618.3 544.2,618.7 545,620C545.8,621.3 544.3,625.3 543,627C541.7,628.7 538.7,630.5 537,630C535.3,629.5 532.8,625.8 533,624Z" fill="#0066ff"/>
<path d="M495,631C495.7,629.2 499.5,627.3 502,626C504.5,624.7 507,623.7 510,623C513,622.3 517,621.7 520,622C523,622.3 526,623.2 528,625C530,626.8 530.3,630.5 532,633C533.7,635.5 536.3,637.7 538,640C539.7,642.3 542.7,646 542,647C541.3,648 536.7,646.7 534,646C531.3,645.3 529,644 526,643C523,642 519.3,640.7 516,640C512.7,639.3 509,639.5 506,639C503,638.5 499.8,638.3 498,637C496.2,635.7 494.3,632.8 495,631Z" fill="#0066ff"/>
<path d="M481,752C482,747.3 483.5,747.5 486,746C488.5,744.5 492.3,743.2 496,743C499.7,742.8 504.7,745.3 508,745C511.3,744.7 513,741.8 516,741C519,740.2 523,739.5 526,740C529,740.5 531.3,742.7 534,744C536.7,745.3 539.3,747 542,748C544.7,749 547.3,749.3 550,750C552.7,750.7 558,750 558,752C558,754 553,758.3 550,762C547,765.7 551.7,772 540,774C528.3,776 489.8,777.7 480,774C470.2,770.3 480,756.7 481,752Z" fill="#0066ff"/>
<path d="M421,791C421.5,789.2 423.2,786.2 425,785C426.8,783.8 430.2,783.3 432,784C433.8,784.7 435.7,787 436,789C436.3,791 435.5,794.5 434,796C432.5,797.5 429,798 427,798C425,798 423,797.2 422,796C421,794.8 420.5,792.8 421,791Z" fill="#0066ff"/>
<path d="M482,778C481.7,775 483,771.3 484,768C485,764.7 476.7,759.7 488,758C499.3,756.3 543.3,756.3 552,758C560.7,759.7 544,765.2 540,768C536,770.8 531.7,773 528,775C524.3,777 521.3,778.8 518,780C514.7,781.2 511.7,781.2 508,782C504.3,782.8 499.7,784.3 496,785C492.3,785.7 488.3,787.2 486,786C483.7,784.8 482.3,781 482,778Z" fill="#0066ff"/>
<path d="M445,800C445.4,796.7 446.3,792.3 448,790C449.7,787.7 452.8,786 455,786C457.2,786 459.7,787.7 461,790C462.3,792.3 462.8,796.3 463,800C463.2,803.7 462.7,808.3 462,812C461.3,815.7 460.5,819.8 459,822C457.5,824.2 454.8,825.3 453,825C451.2,824.7 449.2,822.5 448,820C446.8,817.5 446.1,813.3 445.6,810C445.1,806.7 444.6,803.3 445,800Z" fill="#0066ff"/>
<path d="M421,790C420.8,788 422.5,786.2 424,785C425.5,783.8 428.2,782.8 430,783C431.8,783.2 434,784.3 435,786C436,787.7 436.5,791.2 436,793C435.5,794.8 433.8,796.3 432,797C430.2,797.7 426.8,798.2 425,797C423.2,795.8 421.2,792 421,790Z" fill="#0066ff"/>
<path d="M440,305.4C443.3,306.7 446.3,307.7 450,308C453.7,308.3 457.7,307.5 462,307C466.3,306.5 471.3,305.5 476,305C480.7,304.5 486,303.8 490,304C494,304.2 497.7,304.7 500,306C502.3,307.3 504,309.7 504,312C504,314.3 501,317.7 500,320C499,322.3 497.3,324 498,326C498.7,328 501.3,330.5 504,332C506.7,333.5 510.3,334.2 514,335C517.7,335.8 522,336.5 526,337C530,337.5 534,337.7 538,338C542,338.3 546.3,338.5 550,339C553.7,339.5 556.7,339.8 560,341C563.3,342.2 566.7,344.8 570,346C573.3,347.2 575,347.7 580,348C585,348.3 596.7,364.3 600,348C603.3,331.7 620,266.3 600,250C580,233.7 508.3,241.7 480,250C451.7,258.3 436.7,290.8 430,300C423.3,309.2 436.7,304.1 440,305.4Z" fill="#0066ff"/>
<path d="M566,340C570.5,335 585.2,334.2 595,340C604.8,345.8 618.5,365 625,375C631.5,385 632.5,388.3 634,400C635.5,411.7 644.3,437.5 634,445C623.7,452.5 582.3,452.5 572,445C561.7,437.5 572.7,412.5 572,400C571.3,387.5 569,380 568,370C567,360 561.5,345 566,340Z" fill="#0066ff"/>
<path d="M572,438C560.5,441.7 570.8,447.7 571,452C571.2,456.3 572.5,459.3 573,464C573.5,468.7 574.5,475.3 574,480C573.5,484.7 571.3,488.3 570,492C568.7,495.7 567,498.7 566,502C565,505.3 563.7,509 564,512C564.3,515 567.2,517 568,520C568.8,523 569.2,526.7 569,530C568.8,533.3 567.8,537 567,540C566.2,543 565.5,545.7 564,548C562.5,550.3 560.3,552.5 558,554C555.7,555.5 552.3,556 550,557C547.7,558 545.3,558.2 544,560C542.7,561.8 543,565.7 542,568C541,570.3 538.3,571.3 538,574C537.7,576.7 540,580.7 540,584C540,587.3 538,591 538,594C538,597 538.3,600 540,602C541.7,604 545.3,604.3 548,606C550.7,607.7 547.3,611 556,612C564.7,613 586,620.7 600,612C614,603.3 633.3,590.3 640,560C646.7,529.7 651.3,450.3 640,430C628.7,409.7 583.5,434.3 572,438Z" fill="#0066ff"/>
<path d="M418,552C419,549.5 425,551.5 428,551C431,550.5 433.7,548.8 436,549C438.3,549.2 439.7,551 442,552C444.3,553 447.3,553.7 450,555C452.7,556.3 456,557.8 458,560C460,562.2 461.2,565 462,568C462.8,571 461.7,575.7 463,578C464.3,580.3 467.2,581 470,582C472.8,583 476.7,583.5 480,584C483.3,584.5 489.3,584.3 490,585C490.7,585.7 486.3,586.8 484,588C481.7,589.2 478.3,590.3 476,592C473.7,593.7 471.7,595.7 470,598C468.3,600.3 467,603.7 466,606C465,608.3 463.7,611 464,612C464.3,613 468,610.3 468,612C468,613.7 465.7,618.7 464,622C462.3,625.3 460,629 458,632C456,635 454.7,638 452,640C449.3,642 445.7,643.8 442,644C438.3,644.2 433,642.7 430,641C427,639.3 426,635.3 424,634C422,632.7 416.7,633.7 418,633C419.3,632.3 430.7,630.8 432,630C433.3,629.2 427.7,629.3 426,628C424.3,626.7 423,624.7 422,622C421,619.3 420.7,616 420,612C419.3,608 418,600.7 418,598C418,595.3 420.7,597.3 420,596C419.3,594.7 415.3,592.3 414,590C412.7,587.7 411.8,584.7 412,582C412.2,579.3 413.3,576.7 415,574C416.7,571.3 421.5,569.7 422,566C422.5,562.3 417,554.5 418,552Z" fill="#0066ff"/>
<path d="M540,594C539,590.8 540.5,583 542,580C543.5,577 546.3,576 549,576C551.7,576 555.8,578 558,580C560.2,582 562,585.2 562,588C562,590.8 560.3,595.2 558,597C555.7,598.8 551,599.5 548,599C545,598.5 541,597.2 540,594Z" fill="#339900"/>
<path d="M590,606C590.5,603.3 592.2,598 594,596C595.8,594 599,593.3 601,594C603,594.7 605.5,597 606,600C606.5,603 606.5,610 604,612C601.5,614 593.3,613 591,612C588.7,611 589.5,608.7 590,606Z" fill="#339900"/>
<path d="M468,292.4C476.7,292.2 478,291.6 482,291C486,290.4 489,290 492,289C495,288 497.3,286.3 500,285C502.7,283.7 505,282.3 508,281C511,279.7 514.3,278.2 518,277C521.7,275.8 526.3,274.5 530,274C533.7,273.5 537,273.5 540,274C543,274.5 546.3,275.7 548,277C549.7,278.3 550.7,280.5 550.4,282C550.1,283.5 548.1,284.9 546,286C543.9,287.1 540.3,287.4 538,288.4C535.7,289.4 533.8,290.4 532,292C530.2,293.6 528.4,296 527,298C525.6,300 524.6,301.7 523.6,304C522.6,306.3 522.4,309.7 521,312C519.6,314.3 516.7,315.8 515,318C513.3,320.2 511.3,322.7 511,325C510.7,327.3 511.5,330.3 513,332C514.5,333.7 517.5,334.8 520,335C522.5,335.2 526.2,334.3 528,333C529.8,331.7 530.8,329.2 531,327C531.2,324.8 529.2,322.3 529,320C528.8,317.7 529.2,314.8 530,313C530.8,311.2 532.5,309 534,309C535.5,309 537.2,311.3 539,313C540.8,314.7 542.5,317.3 545,319C547.5,320.7 550.5,322 554,323C557.5,324 562.7,324.2 566,325C569.3,325.8 572,326.5 574,328C576,329.5 577.3,331.7 578,334C578.7,336.3 577.7,339.5 578,342C578.3,344.5 578.7,347 580,349C581.3,351 584,352.2 586,354C588,355.8 589.7,358 592,360C594.3,362 597.3,364 600,366C602.7,368 605.5,370.3 608,372C610.5,373.7 612.5,374.7 615,376C617.5,377.3 621.3,378 623,380C624.7,382 624.8,385 625,388C625.2,391 623.8,394.7 624,398C624.2,401.3 625,405 626,408C627,411 630.7,414 630,416C629.3,418 625,419.2 622,420C619,420.8 615.3,420.5 612,421C608.7,421.5 605,422 602,423C599,424 596.3,425.2 594,427C591.7,428.8 589.7,431.5 588,434C586.3,436.5 584.8,439.3 584,442C583.2,444.7 583.7,450.3 583,450C582.3,449.7 580.2,439 580,440C579.8,441 581.1,450.7 581.6,456C582.1,461.3 582.2,467.5 583,472C583.8,476.5 586.5,480 586.4,483C586.3,486 584.6,488.1 582.4,490C580.2,491.9 575.1,492.9 573,494.4C570.9,495.9 569.7,497.6 570,499C570.3,500.4 572.5,502.2 575,503C577.5,503.8 581.8,503.7 585,504C588.2,504.3 591.3,504.2 594,505C596.7,505.8 599.2,506.8 601,509C602.8,511.2 604.7,515 605,518C605.3,521 604.3,524.5 603,527C601.7,529.5 599.2,531.8 597,533C594.8,534.2 591.7,534.8 590,534C588.3,533.2 588,530 587,528C586,526 586,523.3 584,522C582,520.7 577.8,519.8 575,520C572.2,520.2 568.6,520.8 567,523C565.4,525.2 565.3,529.5 565.6,533C565.9,536.5 567.1,541.3 569,544C570.9,546.7 573.8,548.3 577,549C580.2,549.7 584.8,547.5 588,548C591.2,548.5 594,549.7 596,552C598,554.3 599,558.7 600,562C601,565.3 601,569 602,572C603,575 604.5,578.2 606,580C607.5,581.8 608.8,583.3 611,583C613.2,582.7 615.5,579.2 619,578C622.5,576.8 603.5,575.7 632,576C660.5,576.3 763.7,659.3 790,580C816.3,500.7 850,180 790,100C730,20 490,68 430,100C370,132 423.7,259.9 430,292C436.3,324.1 459.3,292.6 468,292.4Z" fill="#339900"/>
<path d="M514,378C514.2,376.5 516,374.2 518,373C520,371.8 523.7,371 526,371C528.3,371 531.3,371.8 532,373C532.7,374.2 531.3,376.7 530,378C528.7,379.3 526.2,380.3 524,381C521.8,381.7 518.7,382.5 517,382C515.3,381.5 513.8,379.5 514,378Z" fill="#339900"/>
<path d="M438,612C434,610 437,602.8 439,600C441,597.2 446.5,595.3 450,595C453.5,594.7 457.8,595.2 460,598C462.2,600.8 466.7,609.7 463,612C459.3,614.3 442,614 438,612Z" fill="#339900"/>
<path d="M420,579C421,578.1 424.2,577.7 426,578C427.8,578.3 431,580 431,581C431,582 427.8,583.6 426,584C424.2,584.4 421,584.4 420,583.6C419,582.8 419,579.9 420,579Z" fill="#339900"/>
<path d="M462.4,584.4C463.3,583.7 467.1,583.4 468,584C468.9,584.6 468.9,587.3 468,588C467.1,588.7 463.3,588.6 462.4,588C461.5,587.4 461.5,585.1 462.4,584.4Z" fill="#339900"/>
<path d="M420,581C420.2,580.2 423,579.3 425,579C427,578.7 430.8,578.2 432,579C433.2,579.8 433.3,583.2 432,584C430.7,584.8 426,584.5 424,584C422,583.5 419.8,581.8 420,581Z" fill="#339900"/>
<path d="M437,606C437.2,603.3 435.7,599.3 440,598C444.3,596.7 458.8,596.3 463,598C467.2,599.7 465.5,605.3 465,608C464.5,610.7 462.2,612 460,614C457.8,616 453.2,617.3 452,620C450.8,622.7 453,627 453,630C453,633 453.5,635.8 452,638C450.5,640.2 447,642.5 444,643C441,643.5 436.5,642.5 434,641C431.5,639.5 429.7,636.5 429,634C428.3,631.5 428.8,628.2 430,626C431.2,623.8 434.5,623 436,621C437.5,619 438.8,616.5 439,614C439.2,611.5 436.8,608.7 437,606Z" fill="#339900"/>
<path d="M504,633C504.7,631.6 507.7,629.2 510,628C512.3,626.8 515.3,625.8 518,625.6C520.7,625.4 524.3,625.9 526,627C527.7,628.1 528.7,630.5 528,632C527.3,633.5 524.7,635.2 522,636C519.3,636.8 514.7,636.9 512,637C509.3,637.1 507.3,637.1 506,636.4C504.7,635.7 503.3,634.4 504,633Z" fill="#339900"/>
<path d="M497,772C495.7,771 498.5,767.2 500,766C501.5,764.8 504.7,764 506,765C507.3,766 509.5,770.8 508,772C506.5,773.2 498.3,773 497,772Z" fill="#339900"/>
<path d="M529,772C528.3,770.7 531.8,766 534,764C536.2,762 539.3,761 542,760C544.7,759 549,757.2 550,758C551,758.8 550,762.7 548,765C546,767.3 541.2,770.8 538,772C534.8,773.2 529.7,773.3 529,772Z" fill="#339900"/>
<path d="M446.4,804C446.4,800.5 447.6,797.2 449,795C450.4,792.8 453.3,791 455,791C456.7,791 458.2,792.5 459,795C459.8,797.5 460.2,802.3 460,806C459.8,809.7 459.2,814.7 458,817C456.8,819.3 454.5,820.2 453,820C451.5,819.8 450.1,818.7 449,816C447.9,813.3 446.4,807.5 446.4,804Z" fill="#339900"/>
<path d="M491,776C491.5,774.7 493.8,771.8 496,770C498.2,768.2 501.8,765.7 504,765C506.2,764.3 508.7,764.8 509,766C509.3,767.2 507.7,770.3 506,772C504.3,773.7 501.2,775 499,776C496.8,777 494.3,778 493,778C491.7,778 490.5,777.3 491,776Z" fill="#339900"/>
<path d="M526,770C526.3,768.3 529.7,766 532,764C534.3,762 536.7,759 540,758C543.3,757 552,756.2 552,758C552,759.8 543.7,766.3 540,769C536.3,771.7 532.3,773.8 530,774C527.7,774.2 525.7,771.7 526,770Z" fill="#339900"/>
<path d="M586,452C578.8,449.7 586.7,441.8 588,438C589.3,434.2 591.3,431.3 594,429C596.7,426.7 600.3,425.2 604,424C607.7,422.8 612,422.2 616,422C620,421.8 624.7,422 628,423C631.3,424 634.3,425.5 636,428C637.7,430.5 638.3,435 638,438C637.7,441 635.2,443.7 634,446C632.8,448.3 639,451 631,452C623,453 593.2,454.3 586,452Z" fill="#33ff00"/>
<path d="M590,436C582.3,438 590.7,444.8 592,448C593.3,451.2 595.3,453.5 598,455C600.7,456.5 604.7,456.8 608,457C611.3,457.2 614.7,456.5 618,456C621.3,455.5 625.7,455.3 628,454C630.3,452.7 630.3,451 632,448C633.7,445 645,438 638,436C631,434 597.7,434 590,436Z" fill="#33ff00"/>
<path d="M585.6,465C585.6,464 588.4,460.1 590,460C591.6,459.9 595,463.4 595,464.4C595,465.4 591.6,465.9 590,466C588.4,466.1 585.6,466 585.6,465Z" fill="#33ff00"/>
<path d="M666,451C663.3,439.7 660.7,449.8 658,452C655.3,454.2 652.7,460.3 650,464C647.3,467.7 645.3,471 642,474C638.7,477 633.3,479.3 630,482C626.7,484.7 624,487 622,490C620,493 619,496.3 618,500C617,503.7 617.3,508 616,512C614.7,516 612,520.7 610,524C608,527.3 606.3,529.7 604,532C601.7,534.3 598.7,536.7 596,538C593.3,539.3 590,539 588,540C586,541 583.7,542.7 584,544C584.3,545.3 587.7,547.2 590,548C592.3,548.8 595.7,547.3 598,549C600.3,550.7 602.3,554.8 604,558C605.7,561.2 606.3,565.7 608,568C609.7,570.3 611.7,572 614,572C616.3,572 618.7,569 622,568C625.3,567 625.3,574 634,566C642.7,558 668.7,539.2 674,520C679.3,500.8 668.7,462.3 666,451Z" fill="#33ff00"/>
<path d="M579,497C579.3,496.3 582.8,495.8 584,496C585.2,496.2 586.3,497.7 586,498.4C585.7,499.1 583.2,500.2 582,500C580.8,499.8 578.7,497.7 579,497Z" fill="#33ff00"/>
<path d="M566,526C566.5,524.4 568,523.1 570,522.4C572,521.7 575.7,521.6 578,522C580.3,522.4 583.5,523.3 584,525C584.5,526.7 582.2,530.2 581,532C579.8,533.8 578.7,535.3 577,536C575.3,536.7 572.7,536.7 571,536C569.3,535.3 567.8,533.7 567,532C566.2,530.3 565.5,527.6 566,526Z" fill="#33ff00"/>
<path d="M574,541C574.2,539.9 577.6,537.8 579,538C580.4,538.2 582.6,540.9 582.4,542C582.2,543.1 579.4,544.6 578,544.4C576.6,544.2 573.8,542.1 574,541Z" fill="#33ff00"/>
<path d="M546,592C545.5,589.8 547.2,581.7 549,581C550.8,580.3 556.5,585.8 557,588C557.5,590.2 553.8,593.3 552,594C550.2,594.7 546.5,594.2 546,592Z" fill="#33ff00"/>
<path d="M518,324C519,322.7 521.5,320.8 523,321C524.5,321.2 526.5,323.3 527,325C527.5,326.7 527.2,329.8 526,331C524.8,332.2 521.5,332.3 520,332C518.5,331.7 517.3,330.3 517,329C516.7,327.7 517,325.3 518,324Z" fill="#33ff00"/>
<path d="M468,287.4C476.3,287.2 476.3,286.6 480,286C483.7,285.4 487,285 490,284C493,283 495.3,281.3 498,280C500.7,278.7 503,277.3 506,276C509,274.7 512.3,273.1 516,272C519.7,270.9 524,269.8 528,269.4C532,269 536.3,269.1 540,269.4C543.7,269.7 547.3,269.9 550,271C552.7,272.1 554.7,274 556,276C557.3,278 558.3,281 558,283C557.7,285 555.8,286.8 554,288C552.2,289.2 549.2,289.2 547,290C544.8,290.8 542.3,291.5 541,293C539.7,294.5 539,296.8 539,299C539,301.2 539.7,303.8 541,306C542.3,308.2 544.5,310.2 547,312C549.5,313.8 552.5,315.8 556,317C559.5,318.2 564.7,319 568,319C571.3,319 573.7,318 576,317C578.3,316 579.7,313.8 582,313C584.3,312.2 587.8,311.3 590,312C592.2,312.7 594.2,314.8 595,317C595.8,319.2 595.8,322.8 595,325C594.2,327.2 591.8,329.2 590,330C588.2,330.8 585.7,329 584,330C582.3,331 580.8,334 580,336C579.2,338 579,340.7 579,342C579,343.3 578.5,342.7 580,344C581.5,345.3 585.3,347.8 588,350C590.7,352.2 593.3,354.8 596,357C598.7,359.2 601.3,361.2 604,363C606.7,364.8 609.3,366.3 612,368C614.7,369.7 617.3,371.3 620,373C622.7,374.7 626.2,375.8 628,378C629.8,380.2 630.7,382.3 631,386C631.3,389.7 629.7,396 630,400C630.3,404 631.3,407.3 633,410C634.7,412.7 637.5,415 640,416C642.5,417 645.3,417 648,416C650.7,415 653.3,411.8 656,410C658.7,408.2 661.3,406 664,405C666.7,404 651,404.8 672,404C693,403.2 770.3,450.7 790,400C809.7,349.3 850,150 790,100C730,50 490,68.8 430,100C370,131.2 423.7,255.8 430,287C436.3,318.2 459.7,287.6 468,287.4Z" fill="#33ff00"/>
<path d="M442,612C439.2,610.3 441.7,604.3 443,602C444.3,599.7 447.7,598.6 450,598.4C452.3,598.2 455.3,598.7 457,601C458.7,603.3 462.5,610.2 460,612C457.5,613.8 444.8,613.7 442,612Z" fill="#33ff00"/>
<path d="M442,606C442.3,604 442.3,599.3 445,598C447.7,596.7 455.5,596.5 458,598C460.5,599.5 460.3,604.7 460,607C459.7,609.3 458,611 456,612C454,613 450.2,613.3 448,613C445.8,612.7 444,611.2 443,610C442,608.8 441.7,608 442,606Z" fill="#33ff00"/>
<path d="M431,633C431,631 431.5,628.3 433,627C434.5,625.7 437.5,625 440,625C442.5,625 446.3,625.5 448,627C449.7,628.5 450.6,631.8 450.4,634C450.2,636.2 448.9,638.7 447,640C445.1,641.3 441.3,641.8 439,641.6C436.7,641.4 434.3,640.4 433,639C431.7,637.6 431,635 431,633Z" fill="#33ff00"/>
<path d="M520,630.4C520,629.7 521.3,628.4 522,628.4C522.7,628.4 524,629.7 524,630.4C524,631.1 522.7,632.4 522,632.4C521.3,632.4 520,631.1 520,630.4Z" fill="#33ff00"/>
<path d="M535,772C534.7,771 536.3,767.7 538,766C539.7,764.3 543,762.6 545,761.6C547,760.6 549.8,759.3 550,760C550.2,760.7 547.7,764 546,766C544.3,768 541.8,771 540,772C538.2,773 535.3,773 535,772Z" fill="#33ff00"/>
<path d="M449,806C449.2,804.2 449.8,802 451,801C452.2,800 454.8,799.2 456,800C457.2,800.8 457.9,803.7 458,806C458.1,808.3 457.5,812.3 456.6,814C455.7,815.7 453.5,816.3 452.4,816C451.3,815.7 450.6,813.7 450,812C449.4,810.3 448.8,807.8 449,806Z" fill="#33ff00"/>
<path d="M533,768C532.8,767.1 536.8,764.7 539,763C541.2,761.3 543.8,758.8 546,758C548.2,757.2 553,756.3 552,758C551,759.7 543.2,766.7 540,768.4C536.8,770.1 533.2,768.9 533,768Z" fill="#33ff00"/>
<path d="M599,438C599.2,435.5 600.2,432.2 602,430C603.8,427.8 607,425.7 610,425C613,424.3 617.5,424.8 620,426C622.5,427.2 624.3,429.7 625,432C625.7,434.3 625.2,437.7 624,440C622.8,442.3 620.7,444.7 618,446C615.3,447.3 610.8,448.2 608,448C605.2,447.8 602.5,446.7 601,445C599.5,443.3 598.8,440.5 599,438Z" fill="#ffff00"/>
<path d="M598,436C594.7,437.5 600,443.2 602,445C604,446.8 607.3,447.2 610,447C612.7,446.8 616,445.8 618,444C620,442.2 625.3,437.3 622,436C618.7,434.7 601.3,434.5 598,436Z" fill="#ffff00"/>
<path d="M665,452C662.3,442.3 660.2,458.3 658,462C655.8,465.7 654.7,471 652,474C649.3,477 645.3,477.7 642,480C638.7,482.3 634.7,485 632,488C629.3,491 627.5,494.3 626,498C624.5,501.7 624.3,505.7 623,510C621.7,514.3 619.8,520 618,524C616.2,528 613.5,530.7 612,534C610.5,537.3 609,540.7 609,544C609,547.3 610.5,551.5 612,554C613.5,556.5 615.7,558.3 618,559C620.3,559.7 623.2,558.8 626,558C628.8,557.2 627,560.3 635,554C643,547.7 669,537 674,520C679,503 667.7,461.7 665,452Z" fill="#ffff00"/>
<path d="M472,277.6C480.7,277.9 479,278.4 482,279C485,279.6 487.7,281.5 490,281C492.3,280.5 493.7,277.7 496,276C498.3,274.3 501,272.7 504,271C507,269.3 510.3,267.3 514,266C517.7,264.7 522,263.7 526,263C530,262.3 534,262 538,262C542,262 546.5,262.3 550,263C553.5,263.7 556.3,264.5 559,266C561.7,267.5 564.2,269.7 566,272C567.8,274.3 568.7,277.3 570,280C571.3,282.7 572,285.7 574,288C576,290.3 579.3,292 582,294C584.7,296 587.3,297.7 590,300C592.7,302.3 596,305.3 598,308C600,310.7 601.2,313 602,316C602.8,319 603.3,323 603,326C602.7,329 601.2,331.3 600,334C598.8,336.7 596.7,339 596,342C595.3,345 595,349.2 596,352C597,354.8 599.7,357 602,359C604.3,361 607,362.5 610,364C613,365.5 616.7,366.7 620,368C623.3,369.3 627.5,370 630,372C632.5,374 634,377 635,380C636,383 636,386.7 636,390C636,393.3 634.5,397.2 635,400C635.5,402.8 637.2,405.3 639,407C640.8,408.7 643.5,410 646,410C648.5,410 651.3,408.3 654,407C656.7,405.7 659.3,403.5 662,402C664.7,400.5 667.3,399.2 670,398C672.7,396.8 675,395.8 678,395C681,394.2 669.3,393.8 688,393C706.7,392.2 773,438.8 790,390C807,341.2 850,148.3 790,100C730,51.7 490,70.5 430,100C370,129.5 423,247.4 430,277C437,306.6 463.3,277.3 472,277.6Z" fill="#ffff00"/>
<path d="M605,438C605.5,436.5 608.3,434.2 610,434C611.7,433.8 614.5,435.7 615,437C615.5,438.3 614.3,441 613,442C611.7,443 608.3,443.7 607,443C605.7,442.3 604.5,439.5 605,438Z" fill="#ffcc00"/>
<path d="M656,476C651,470 647.7,481.3 644,484C640.3,486.7 636.5,489 634,492C631.5,495 630.3,498.3 629,502C627.7,505.7 627.2,510 626,514C624.8,518 623.5,522.3 622,526C620.5,529.7 617.7,532.7 617,536C616.3,539.3 616.8,543.5 618,546C619.2,548.5 621.7,550.3 624,551C626.3,551.7 629.7,551.2 632,550C634.3,548.8 631,549 638,544C645,539 671,531.3 674,520C677,508.7 661,482 656,476Z" fill="#ffcc00"/>
<path d="M478,272.4C487.3,272.7 483.8,273.2 486,274C488.2,274.8 489.7,277.3 491,277C492.3,276.7 492.5,273.5 494,272C495.5,270.5 497.5,268.5 500,268C502.5,267.5 506.8,269.7 509,269C511.2,268.3 510.8,265.7 513,264C515.2,262.3 518.5,260.2 522,259C525.5,257.8 530,257.3 534,257C538,256.7 542,256.7 546,257C550,257.3 554.3,257.8 558,259C561.7,260.2 565.2,262 568,264C570.8,266 573.2,268.5 575,271C576.8,273.5 577.9,276.3 579,279C580.1,281.7 580.3,285 581.6,287C582.9,289 585.4,291.3 587,291C588.6,290.7 589.2,286.7 591,285C592.8,283.3 595.3,281 598,281C600.7,281 604.5,283.3 607,285C609.5,286.7 611,288.7 613,291C615,293.3 617.9,295.8 619,299C620.1,302.2 620.3,306.8 619.6,310C618.9,313.2 616.8,315.8 615,318C613.2,320.2 610.5,320.7 609,323C607.5,325.3 606.2,328.8 606,332C605.8,335.2 608.3,338.2 608,342C607.7,345.8 603.3,352 604,355C604.7,358 609,358.5 612,360C615,361.5 618.7,362.7 622,364C625.3,365.3 629.2,366.3 632,368C634.8,369.7 637.7,371.3 639,374C640.3,376.7 640,380.7 640,384C640,387.3 639,391 639,394C639,397 638.8,400.2 640,402C641.2,403.8 643.8,404.8 646,405C648.2,405.2 650.7,404 653,403C655.3,402 657.5,400.3 660,399C662.5,397.7 665.3,396.3 668,395C670.7,393.7 673,392 676,391C679,390 683,390.2 686,389C689,387.8 676.7,385.5 694,384C711.3,382.5 774,427.3 790,380C806,332.7 850,146.7 790,100C730,53.3 490,71.3 430,100C370,128.7 422,243.3 430,272C438,300.7 468.7,272.1 478,272.4Z" fill="#ffcc00"/>
<path d="M641,400C640.9,398.9 642.9,397 644,397C645.1,397 647.3,398.9 647.4,400C647.5,401.1 645.5,403.4 644.4,403.4C643.3,403.4 641.1,401.1 641,400Z" fill="#ff9900"/>
<path d="M654,484.4C649.2,482.4 647.5,486.4 645,488C642.5,489.6 640.3,491.7 639,494C637.7,496.3 637.8,499.3 637,502C636.2,504.7 635.3,507.5 634,510C632.7,512.5 630,514.5 629,517C628,519.5 627.5,523 628,525C628.5,527 630.2,528.8 632,529C633.8,529.2 637.2,527.8 639,526C640.8,524.2 641.8,521 643,518C644.2,515 641.2,511 646.4,508C651.6,505 672.7,503.9 674,500C675.3,496.1 658.8,486.4 654,484.4Z" fill="#ff9900"/>
<path d="M480,261C489.5,261.7 484.7,263.2 487,264C489.3,264.8 491.5,265.6 494,265.6C496.5,265.6 499.8,265.1 502,264C504.2,262.9 505.2,260.5 507,259C508.8,257.5 510.5,256 513,255C515.5,254 518.5,253.5 522,253C525.5,252.5 530,252.2 534,252C538,251.8 542.3,251.7 546,252C549.7,252.3 552.7,253 556,254C559.3,255 563.3,256.7 566,258C568.7,259.3 570.2,260.3 572,262C573.8,263.7 575.8,266 577,268C578.2,270 578.2,272.2 579,274C579.8,275.8 580.5,277.8 582,279C583.5,280.2 586.7,281.5 588,281C589.3,280.5 590.7,277.8 590,276C589.3,274.2 585.8,272 584,270C582.2,268 579.8,266 579,264C578.2,262 578.5,259.7 579,258C579.5,256.3 580.5,255.2 582,254C583.5,252.8 585.3,251.7 588,251C590.7,250.3 595,249.7 598,250C601,250.3 604,251.3 606,253C608,254.7 609.5,257.5 610,260C610.5,262.5 609.7,265.7 609,268C608.3,270.3 606.2,271.7 606,274C605.8,276.3 606.7,279.7 608,282C609.3,284.3 611.8,286 614,288C616.2,290 619.2,291.7 621,294C622.8,296.3 624.2,299.3 625,302C625.8,304.7 626.5,307.3 626,310C625.5,312.7 623.3,315.3 622,318C620.7,320.7 618.8,323.3 618,326C617.2,328.7 617,331.3 617,334C617,336.7 619.2,340.7 618,342C616.8,343.3 610.8,340.3 610,342C609.2,343.7 611.3,349.3 613,352C614.7,354.7 617.2,356.5 620,358C622.8,359.5 626.7,360 630,361C633.3,362 637,362.8 640,364C643,365.2 647,366.3 648,368C649,369.7 647,372 646,374C645,376 642.3,377.7 642,380C641.7,382.3 642.7,385.7 644,388C645.3,390.3 647.7,392.5 650,394C652.3,395.5 655.3,396.8 658,397C660.7,397.2 663.3,396.2 666,395C668.7,393.8 672,392.2 674,390C676,387.8 677.7,384.7 678,382C678.3,379.3 677.7,376 676,374C674.3,372 669.7,371.7 668,370C666.3,368.3 665.7,366.3 666,364C666.3,361.7 668,358.3 670,356C672,353.7 675,351.7 678,350C681,348.3 684.3,347.7 688,346C691.7,344.3 696,342.2 700,340C704,337.8 697,334.7 712,333C727,331.3 777,368.8 790,330C803,291.2 850,138.3 790,100C730,61.7 490,73.3 430,100C370,126.7 421.7,233.2 430,260C438.3,286.8 470.5,260.3 480,261Z" fill="#ff9900"/>
<path d="M724,327C723.3,336 714,330.2 710,332C706,333.8 703.3,336.2 700,338C696.7,339.8 693.3,341.3 690,343C686.7,344.7 683.3,346.3 680,348C676.7,349.7 673.3,351.8 670,353C666.7,354.2 663.3,355.2 660,355C656.7,354.8 653.3,353 650,352C646.7,351 643.3,349.5 640,349C636.7,348.5 633.3,348.8 630,349C626.7,349.2 622.7,350.5 620,350C617.3,349.5 615,348 614,346C613,344 613.2,340.3 614,338C614.8,335.7 617,334 619,332C621,330 623.5,328 626,326C628.5,324 632,322.3 634,320C636,317.7 637,314.7 638,312C639,309.3 638.7,306.3 640,304C641.3,301.7 643.7,300 646,298C648.3,296 652.3,294 654,292C655.7,290 656.3,288 656,286C655.7,284 651.5,279.3 652,280C652.5,280.7 656.3,290 659,290C661.7,290 664.8,282.6 668,280C671.2,277.4 673.7,275.5 678,274.4C682.3,273.3 688,272.8 694,273.4C700,274 709,269.1 714,278C719,286.9 724.7,318 724,327Z" fill="#ff0000"/>
<path d="M606,268C607.5,265.2 610.7,261.2 614,259C617.3,256.8 621,255.8 626,255C631,254.2 641,247.2 644,254C647,260.8 647,288.7 644,296C641,303.3 630.7,298.3 626,298C621.3,297.7 618.8,296.2 616,294C613.2,291.8 610.8,288 609,285C607.2,282 605.5,278.8 605,276C604.5,273.2 604.5,270.8 606,268Z" fill="#ff0000"/>
<path d="M644,308C642.7,303 638,311.3 636,314C634,316.7 633.3,320.7 632,324C630.7,327.3 629,330.7 628,334C627,337.3 623.3,342.3 626,344C628.7,345.7 641,350 644,344C647,338 645.3,313 644,308Z" fill="#ff0000"/>
<path d="M493,240.4C505.3,240.6 500.5,240.6 504,241C507.5,241.4 510.3,242.3 514,243C517.7,243.7 522,244.7 526,245C530,245.3 534.7,245.3 538,245C541.3,244.7 543.3,243.8 546,243C548.7,242.2 551.3,241.2 554,240C556.7,238.8 559.3,237.3 562,236C564.7,234.7 567.3,233.2 570,232C572.7,230.8 575.7,229.7 578,229C580.3,228.3 583.3,227.2 584,228C584.7,228.8 582.8,232.2 582,234C581.2,235.8 579,237.3 579,239C579,240.7 580.2,242.7 582,244C583.8,245.3 587.3,246.3 590,247C592.7,247.7 595,248 598,248C601,248 605,246.8 608,247C611,247.2 613.3,248.2 616,249C618.7,249.8 621.3,251.8 624,252C626.7,252.2 629.3,250.6 632,250.4C634.7,250.2 637,250.8 640,250.8C643,250.8 646.3,250.8 650,250.4C653.7,250 658,249.4 662,248.4C666,247.4 670,245.4 674,244.4C678,243.4 682.7,243.7 686,242.4C689.3,241.1 691.3,238.4 694,236.4C696.7,234.4 698.7,232.1 702,230.4C705.3,228.7 709.3,227.5 714,226.4C718.7,225.3 724,226.1 730,224C736,221.9 740,234.7 750,214C760,193.3 843.3,119 790,100C736.7,81 490,76.7 430,100C370,123.3 419.5,216.6 430,240C440.5,263.4 480.7,240.2 493,240.4Z" fill="#ff0000"/>
<path d="M606,270C606.7,267.2 608,262.4 611,260C614,257.6 619.5,256.3 624,255.6C628.5,254.9 633.7,255.9 638,255.6C642.3,255.3 646.3,254.5 650,253.6C653.7,252.7 656.7,251.7 660,250.4C663.3,249.1 666.7,247.3 670,245.6C673.3,243.9 676.7,242.3 680,240.4C683.3,238.5 686.3,236.4 690,234.4C693.7,232.4 698.3,230.5 702,228.4C705.7,226.3 708,223.3 712,221.6C716,219.9 722.3,218.6 726,218C729.7,217.4 733.7,217 734,218C734.3,219 730.7,222 728,224C725.3,226 721.3,228 718,230C714.7,232 711.3,233.8 708,236C704.7,238.2 701.7,240.7 698,243C694.3,245.3 690,247.7 686,250C682,252.3 677.3,254.8 674,257C670.7,259.2 668.3,260.8 666,263C663.7,265.2 662,267.2 660,270C658,272.8 656.7,277.2 654,280C651.3,282.8 648,285.2 644,287C640,288.8 634.3,290.2 630,291C625.7,291.8 621.2,293 618,292C614.8,291 612.8,287.5 611,285C609.2,282.5 607.8,279.5 607,277C606.2,274.5 605.3,272.8 606,270Z" fill="#ff0000"/>
<path d="M647.1,258.8C649,255.1 654.9,256.4 658.8,256.5C662.7,256.6 668.9,257.6 670.6,259.4C672.3,261.2 668.5,264.6 668.8,267.1C669.1,269.5 671.8,268.4 672.4,274.1C672.9,279.8 675.2,296.7 672.4,301.2C669.5,305.7 658.1,303.5 655.3,301.2C652.5,298.8 656.1,289.4 655.3,287.1C654.5,284.7 652,288.4 650.6,287.1C649.2,285.7 647.6,283.5 647.1,278.8C646.5,274.1 645.1,262.5 647.1,258.8Z" fill="#ff0000"/>
<path d="M601,230C601.3,227.3 605.2,224.7 608,223C610.8,221.3 614.7,220.2 618,220C621.3,219.8 625.5,220.7 628,222C630.5,223.3 632.7,225.7 633,228C633.3,230.3 631.5,233.8 630,236C628.5,238.2 626.7,240 624,241C621.3,242 617,242.3 614,242C611,241.7 608.2,241 606,239C603.8,237 600.7,232.7 601,230Z" fill="#cc0000"/>
<path d="M602,170C605.7,168 605.7,164.5 608,164C610.3,163.5 613.7,166 616,167C618.3,168 620,169 622,170C624,171 625.7,172.2 628,173C630.3,173.8 633.3,174 636,175C638.7,176 641.3,177.7 644,179C646.7,180.3 649.7,181.5 652,183C654.3,184.5 655.7,186.8 658,188C660.3,189.2 663.3,190 666,190C668.7,190 671,189 674,188C677,187 680.7,185.2 684,184C687.3,182.8 690.3,182.2 694,181C697.7,179.8 703,176.8 706,177C709,177.2 712.7,180.2 712,182C711.3,183.8 705,186 702,188C699,190 696.7,192.3 694,194C691.3,195.7 688.7,197.5 686,198C683.3,198.5 680.7,197.7 678,197C675.3,196.3 672.7,194.8 670,194C667.3,193.2 664.3,192 662,192C659.7,192 658,194.3 656,194C654,193.7 652,191.3 650,190C648,188.7 646.3,187.3 644,186C641.7,184.7 638.7,183 636,182C633.3,181 630.7,179.7 628,180C625.3,180.3 622,182 620,184C618,186 617.7,189.3 616,192C614.3,194.7 612.3,197.7 610,200C607.7,202.3 604.3,203.7 602,206C599.7,208.3 598.7,212.3 596,214C593.3,215.7 587.7,222.3 586,216C584.3,209.7 583.3,183.7 586,176C588.7,168.3 598.3,172 602,170Z" fill="#cc0000"/>
<path d="M610,268C611,265.7 613.3,263.3 616,262C618.7,260.7 622.3,260.3 626,260C629.7,259.7 634,260.3 638,260C642,259.7 646.3,258.8 650,258C653.7,257.2 656.7,256.3 660,255C663.3,253.7 666.7,251.7 670,250C673.3,248.3 676.7,246.8 680,245C683.3,243.2 686.3,241 690,239C693.7,237 698.3,235.2 702,233C705.7,230.8 708.8,227.7 712,226C715.2,224.3 720,222.7 721,223C722,223.3 720.2,226.2 718,228C715.8,229.8 711.3,232 708,234C704.7,236 701.7,237.8 698,240C694.3,242.2 690,244.7 686,247C682,249.3 678,251.8 674,254C670,256.2 665,257.7 662,260C659,262.3 658,265 656,268C654,271 652.7,275.3 650,278C647.3,280.7 643.3,282.3 640,284C636.7,285.7 633.3,287 630,288C626.7,289 622.7,290.7 620,290C617.3,289.3 615.7,286.3 614,284C612.3,281.7 610.7,278.7 610,276C609.3,273.3 609,270.3 610,268Z" fill="#cc0000"/>
<path d="M658,302C649.7,300 660,293.3 662,290C664,286.7 667,284 670,282C673,280 676,278.5 680,278C684,277.5 688.7,278 694,279C699.3,280 709,280.2 712,284C715,287.8 721,299 712,302C703,305 666.3,304 658,302Z" fill="#cc0000"/>
<path d="M724,325C721.3,334 712.3,328.3 708,330C703.7,331.7 701.3,333.3 698,335C694.7,336.7 691.3,338.3 688,340C684.7,341.7 681.3,343.3 678,345C674.7,346.7 671,349 668,350C665,351 662.7,351.3 660,351C657.3,350.7 654.3,349.2 652,348C649.7,346.8 648.3,344.8 646,344C643.7,343.2 641,343 638,343C635,343 631,343.8 628,344C625,344.2 621.7,344.8 620,344C618.3,343.2 617.5,340.7 618,339C618.5,337.3 620.7,335.8 623,334C625.3,332.2 629.5,330 632,328C634.5,326 636.3,324.3 638,322C639.7,319.7 640.7,316.7 642,314C643.3,311.3 644,308.3 646,306C648,303.7 651,302 654,300C657,298 660.7,295.7 664,294C667.3,292.3 670.7,291.3 674,290C677.3,288.7 681,287.3 684,286C687,284.7 689.3,283.7 692,282C694.7,280.3 694.7,277 700,276C705.3,275 720,267.8 724,276C728,284.2 726.7,316 724,325Z" fill="#cc0000"/>
<path d="M601,230C601.3,227.7 605.2,224.7 608,223C610.8,221.3 614.3,220.3 618,220C621.7,219.7 627,219.8 630,221C633,222.2 635.3,224.8 636,227C636.7,229.2 635.7,232 634,234C632.3,236 629.3,238 626,239C622.7,240 617.3,240.3 614,240C610.7,239.7 608.2,238.7 606,237C603.8,235.3 600.7,232.3 601,230Z" fill="#cc0000"/>
<path d="M610,266C611.3,263.8 613.3,262.3 616,261C618.7,259.7 622.7,258.5 626,258C629.3,257.5 633,257.7 636,258C639,258.3 642.7,254.7 644,260C645.3,265.3 645.7,284.7 644,290C642.3,295.3 637,291.3 634,292C631,292.7 628.7,294.3 626,294C623.3,293.7 620.3,292 618,290C615.7,288 613.7,284.7 612,282C610.3,279.3 608.3,276.7 608,274C607.7,271.3 608.7,268.2 610,266Z" fill="#cc0000"/>
<path d="M496,233.6C508.7,233.1 502.7,230.9 506,230C509.3,229.1 513.7,227.7 516,228C518.3,228.3 518,230.5 520,232C522,233.5 525,235.8 528,237C531,238.2 534.7,239 538,239C541.3,239 544.7,238 548,237C551.3,236 554.7,234.5 558,233C561.3,231.5 564.7,229.7 568,228C571.3,226.3 574.7,224.7 578,223C581.3,221.3 584.7,219.5 588,218C591.3,216.5 595,215.7 598,214C601,212.3 604,210.3 606,208C608,205.7 608.7,202.7 610,200C611.3,197.3 612.5,194.7 614,192C615.5,189.3 617.7,186.7 619,184C620.3,181.3 621.2,178.7 622,176C622.8,173.3 611,180.7 624,168C637,155.3 732.3,111.3 700,100C667.7,88.7 475,77.8 430,100C385,122.2 419,210.7 430,233C441,255.3 483.3,234.1 496,233.6Z" fill="#cc0000"/>
<path d="M649.4,269.4C650.2,266.9 656.3,263.3 658.8,263.5C661.4,263.7 663.3,268 664.7,270.6C666.1,273.1 666.1,276.1 667.1,278.8C668,281.6 669.4,284.9 670.6,287.1C671.8,289.2 674.7,290.4 674.1,291.8C673.5,293.1 669.4,295.3 667.1,295.3C664.7,295.3 661.6,293.5 660,291.8C658.4,290 658.6,286.9 657.6,284.7C656.7,282.5 655.5,281.4 654.1,278.8C652.7,276.3 648.6,272 649.4,269.4Z" fill="#cc0000"/>
<path d="M602,170C604.3,163.2 610.3,166.2 616,167C621.7,167.8 629.3,171.7 636,175C642.7,178.3 650,185.2 656,187C662,188.8 666.3,187.2 672,186C677.7,184.8 684,181.5 690,180C696,178.5 704.7,176.5 708,177C711.3,177.5 711,180.8 710,183C709,185.2 704.7,187.7 702,190C699.3,192.3 696.7,195.3 694,197C691.3,198.7 688.7,199.7 686,200C683.3,200.3 680.7,199.7 678,199C675.3,198.3 672.7,196.8 670,196C667.3,195.2 664.3,194 662,194C659.7,194 658.3,196.3 656,196C653.7,195.7 650.7,193.3 648,192C645.3,190.7 642.5,189.2 640,188C637.5,186.8 635,185.7 633,185C631,184.3 629.8,183.5 628,184C626.2,184.5 623.7,186 622,188C620.3,190 619.7,193.7 618,196C616.3,198.3 614.7,200 612,202C609.3,204 603.7,213.3 602,208C600.3,202.7 599.7,176.8 602,170Z" fill="#cc0000"/>
<path d="M612,228C613.3,226.8 617.7,225.8 620,226C622.3,226.2 625.3,227.7 626,229C626.7,230.3 625.5,232.8 624,234C622.5,235.2 619,236.2 617,236C615,235.8 612.8,234.3 612,233C611.2,231.7 610.7,229.2 612,228Z" fill="#990000"/>
<path d="M724,319C721.3,324.2 712.3,322 708,323C703.7,324 700.7,324.2 698,325C695.3,325.8 694,326.5 692,328C690,329.5 688,332 686,334C684,336 682.3,338.3 680,340C677.7,341.7 674.7,343 672,344C669.3,345 666.3,346 664,346C661.7,346 659.3,345.3 658,344C656.7,342.7 657.3,339.7 656,338C654.7,336.3 652,335.2 650,334C648,332.8 645.3,332.5 644,331C642.7,329.5 642,327 642,325C642,323 642.7,320.8 644,319C645.3,317.2 647.3,315.5 650,314C652.7,312.5 657,311.7 660,310C663,308.3 665,305.7 668,304C671,302.3 675,301.7 678,300C681,298.3 683.3,295.7 686,294C688.7,292.3 691.3,291 694,290C696.7,289 699.3,288.7 702,288C704.7,287.3 706.3,285.3 710,286C713.7,286.7 721.7,286.5 724,292C726.3,297.5 726.7,313.8 724,319Z" fill="#990000"/>
<path d="M506,219.6C519.3,220.4 508,222.9 510,224C512,225.1 515,224.8 518,226C521,227.2 524.7,229.8 528,231C531.3,232.2 534.7,233 538,233C541.3,233 545,232 548,231C551,230 553.3,228.5 556,227C558.7,225.5 561,223.7 564,222C567,220.3 570.7,218.5 574,217C577.3,215.5 580.7,214.3 584,213C587.3,211.7 591,210.5 594,209C597,207.5 600,205.8 602,204C604,202.2 605,200.3 606,198C607,195.7 607.3,192.7 608,190C608.7,187.3 609.7,185.7 610,182C610.3,178.3 603.3,181.7 610,168C616.7,154.3 680,111.3 650,100C620,88.7 466.7,80.2 430,100C393.3,119.8 417.3,199.1 430,219C442.7,238.9 492.7,218.8 506,219.6Z" fill="#990000"/>
<path d="M604,169C605.8,165.3 611.7,167 616,167.6C620.3,168.2 626.5,170.9 630,172.4C633.5,173.9 636.5,174.7 637,176.4C637.5,178.1 634.7,181.3 633,182.4C631.3,183.5 628.8,182.4 627,183C625.2,183.6 623.5,184.5 622,186C620.5,187.5 619.3,190.2 618,192C616.7,193.8 615.7,195.8 614,197C612.3,198.2 609.5,200.2 608,199C606.5,197.8 605.7,195 605,190C604.3,185 602.2,172.7 604,169Z" fill="#990000"/>
<path d="M656,187C658.2,186.3 666.3,187.2 672,186C677.7,184.8 684.2,181.4 690,180C695.8,178.6 704.7,177.2 707,177.6C709.3,178 705.5,180.8 704,182.4C702.5,184 700.3,185.4 698,187C695.7,188.6 692.7,190.8 690,192C687.3,193.2 684.7,193.8 682,194C679.3,194.2 676.7,193.5 674,193C671.3,192.5 668.5,191.5 666,191C663.5,190.5 660.7,190.7 659,190C657.3,189.3 653.8,187.7 656,187Z" fill="#990000"/>
<path d="M602,167C602.1,169.9 605.8,170.3 608.4,171.6C611,172.9 614.7,173.8 617.8,174.8C620.9,175.8 624.1,176.7 627.2,177.6C630.3,178.5 633.1,179.3 636.6,180.4C640.1,181.5 644.5,182.8 648,184.2C651.5,185.6 654,188.1 657.4,189C660.8,189.9 664.8,190.2 668.6,189.8C672.4,189.4 676.4,187.8 680,186.6C683.6,185.4 686.7,183.6 690,182.4C693.3,181.2 697,180 700,179.2C703,178.4 707.7,179.8 708,177.6C708.3,175.4 706.7,169.9 702,166C697.3,162.1 686,158 680,154C674,150 671,145.3 666,142C661,138.7 656.7,135 650,134C643.3,133 633,132.7 626,136C619,139.3 612,148.8 608,154C604,159.2 601.9,164.1 602,167Z" fill="#990099"/>
<path d="M586,177C588,173.8 594.7,175.7 598,175C601.3,174.3 603.7,172.7 606,173C608.3,173.3 610.5,175.2 612,177C613.5,178.8 614.3,181.5 615,184C615.7,186.5 616.7,189.7 616,192C615.3,194.3 613.3,197.2 611,198C608.7,198.8 604.8,197.5 602,197C599.2,196.5 596.7,195.5 594,195C591.3,194.5 587.3,197 586,194C584.7,191 584,180.2 586,177Z" fill="#990099"/>
<path d="M646,323C645.8,321.7 646.3,319.2 648,318C649.7,316.8 653.7,316.8 656,316C658.3,315.2 660.3,314.2 662,313C663.7,311.8 664,309.8 666,309C668,308.2 671.3,308.2 674,308C676.7,307.8 679.7,308.8 682,308C684.3,307.2 686,304.8 688,303C690,301.2 691.7,298.5 694,297C696.3,295.5 699.5,294.3 702,294C704.5,293.7 707.7,294 709,295C710.3,296 710.8,298.5 710,300C709.2,301.5 706.3,303 704,304C701.7,305 698.3,304.8 696,306C693.7,307.2 692,309.5 690,311C688,312.5 686.7,314.2 684,315C681.3,315.8 677,315.7 674,316C671,316.3 668.3,316.3 666,317C663.7,317.7 662,318.8 660,320C658,321.2 655.8,323.1 654,324C652.2,324.9 650.3,325.8 649,325.6C647.7,325.4 646.2,324.3 646,323Z" fill="#990099"/>
<path d="M534,203C534,201.5 537,199.5 539,198C541,196.5 543.5,195.2 546,194C548.5,192.8 552,191.7 554,191C556,190.3 556.3,189.5 558,190C559.7,190.5 562,193 564,194C566,195 568,196.2 570,196C572,195.8 574.7,194.5 576,193C577.3,191.5 576.7,188.5 578,187C579.3,185.5 581.7,184.8 584,184C586.3,183.2 589.3,183 592,182C594.7,181 597.7,179.3 600,178C602.3,176.7 604.3,175.7 606,174C607.7,172.3 607.7,169 610,168C612.3,167 618.7,165.7 620,168C621.3,170.3 618.7,178 618,182C617.3,186 617.3,189.3 616,192C614.7,194.7 612.3,197 610,198C607.7,199 604.7,198.7 602,198C599.3,197.3 596.7,194.5 594,194C591.3,193.5 588.7,194.2 586,195C583.3,195.8 580.7,197.7 578,199C575.3,200.3 572.7,201.8 570,203C567.3,204.2 564.7,205.3 562,206C559.3,206.7 556.7,206.7 554,207C551.3,207.3 548.5,208 546,208C543.5,208 541,207.8 539,207C537,206.2 534,204.5 534,203Z" fill="#990099"/>
<path d="M564,196C566,194.3 570.8,194.6 574,193.6C577.2,192.6 580.7,189.3 583,190C585.3,190.7 588.8,195.8 588,198C587.2,200.2 581.3,201.7 578,203C574.7,204.3 570.7,205.8 568,206C565.3,206.2 562.7,205.7 562,204C561.3,202.3 562,197.7 564,196Z" fill="#990099"/>
<path d="M533.2,200.2C533.2,198.4 536.3,196 538.8,194.6C541.3,193.2 545.1,191.9 548.2,191.8C551.4,191.6 554.5,193.2 557.6,193.6C560.8,194.1 563.9,195.2 567.1,194.6C570.2,194 574,191.5 576.5,189.9C579,188.3 579.6,186.7 582.1,185.2C584.6,183.6 588.4,181.9 591.5,180.5C594.7,179.1 598.1,177.5 600.9,176.7C603.8,175.9 606.3,175.1 608.5,175.8C610.7,176.4 612.9,178.3 614.1,180.5C615.4,182.7 616,186.3 616,188.9C616,191.6 615.7,194.9 614.1,196.5C612.5,198 609.4,198 606.6,198.4C603.8,198.7 600.3,198.5 597.2,198.4C594,198.2 590.9,197.1 587.8,197.4C584.6,197.7 581.5,199.1 578.4,200.2C575.2,201.3 572.4,202.7 568.9,204C565.5,205.3 561.1,207 557.6,207.8C554.2,208.5 551.4,209 548.2,208.7C545.1,208.4 541.3,207.3 538.8,205.9C536.3,204.5 533.2,202.1 533.2,200.2Z" fill="#990099"/>
<path d="M610,163.6C611.6,165.9 615.2,166.6 617.8,167.6C620.4,168.6 622.9,169 625.4,169.8C627.9,170.6 630.2,171.8 633,172.4C635.8,173 639.6,172.9 642.4,173.4C645.2,173.9 647.6,174.5 649.8,175.6C652,176.7 653.2,178.6 655.4,180C657.6,181.4 660.5,183 663,183.8C665.5,184.6 667.8,185.3 670.6,184.8C673.4,184.3 676.8,182.1 680,181C683.2,179.9 686.7,178.8 690,178C693.3,177.2 697.5,176.5 700,176C702.5,175.5 704.7,176.7 705,175C705.3,173.3 706.2,169.5 702,166C697.8,162.5 686,158 680,154C674,150 671,145.3 666,142C661,138.7 656.7,135 650,134C643.3,133 633,132.7 626,136C619,139.3 610.7,149.4 608,154C605.3,158.6 608.4,161.3 610,163.6Z" fill="#cc00cc"/>
<path d="M647.6,322C647.7,321.1 648.4,319.3 650,318.6C651.6,317.9 655.4,317.4 657,317.6C658.6,317.8 660.1,319.1 659.6,320C659.1,320.9 655.7,322.3 654,323C652.3,323.7 650.7,324.2 649.6,324C648.5,323.8 647.5,322.9 647.6,322Z" fill="#cc00cc"/>
<path d="M664,313C664.4,312.1 666.3,310.6 668,310C669.7,309.4 672.7,309.1 674,309.6C675.3,310.1 676.3,312.1 675.6,313C674.9,313.9 671.7,314.8 670,315.2C668.3,315.6 666.6,316 665.6,315.6C664.6,315.2 663.6,313.9 664,313Z" fill="#cc00cc"/>
<path d="M693,301C693.3,299.8 696,297.9 698,297C700,296.1 703.3,295.4 705,295.6C706.7,295.8 708.3,296.9 708,298C707.7,299.1 705,301.3 703,302.4C701,303.5 697.7,304.6 696,304.4C694.3,304.2 692.7,302.2 693,301Z" fill="#cc00cc"/>
<path d="M593.4,182.9C595,181.5 600.3,180.1 602.8,180.1C605.4,180.1 607.7,181.4 608.8,182.9C610,184.4 610.3,187.2 609.6,188.9C608.9,190.6 606.7,192.4 604.7,193.1C602.7,193.8 599.5,193.8 597.6,193.1C595.6,192.3 593.7,190.3 593,188.6C592.3,186.9 591.8,184.3 593.4,182.9Z" fill="#cc00cc"/>
<path d="M642,156C642.7,154.2 646.2,153.3 648,154C649.8,154.7 652,157.7 653,160C654,162.3 654.7,166.3 654,168C653.3,169.7 650.7,170.5 649,170C647.3,169.5 645.2,167.3 644,165C642.8,162.7 641.3,157.8 642,156Z" fill="#ff00ff"/>
<path d="M635,198C636.8,196.7 641.2,196.8 644,197C646.8,197.2 649,197.7 652,199C655,200.3 659.3,202.8 662,205C664.7,207.2 665.3,210.2 668,212C670.7,213.8 674.3,215.3 678,216C681.7,216.7 686.5,215.7 690,216C693.5,216.3 697.7,216 699,218C700.3,220 698.8,225 698,228C697.2,231 696,233.7 694,236C692,238.3 689.3,240.7 686,242C682.7,243.3 678,243 674,244C670,245 666,247 662,248C658,249 653.7,249.7 650,250C646.3,250.3 643,249.8 640,250C637,250.2 633.8,251.7 632,251C630.2,250.3 628.8,248.2 629,246C629.2,243.8 631.5,240.7 633,238C634.5,235.3 636,232.3 638,230C640,227.7 644.5,226 645,224C645.5,222 642.5,220 641,218C639.5,216 637.3,214.2 636,212C634.7,209.8 633.2,207.3 633,205C632.8,202.7 633.2,199.3 635,198Z" fill="#ff9900"/>
<path d="M657,232C658.3,230 664.5,227.2 668,226C671.5,224.8 676.2,224.5 678,225C679.8,225.5 680.3,227.5 679,229C677.7,230.5 673.2,232.5 670,234C666.8,235.5 662.2,238.3 660,238C657.8,237.7 655.7,234 657,232Z" fill="#ffcc00"/>
<path d="M670,262C671,260 675,257.7 678,256C681,254.3 684.7,253.3 688,252C691.3,250.7 694,249.5 698,248C702,246.5 709.3,237 712,243C714.7,249 715.7,278.2 714,284C712.3,289.8 705.7,279.7 702,278C698.3,276.3 695.7,275.3 692,274C688.3,272.7 683.3,271 680,270C676.7,269 673.7,269.3 672,268C670.3,266.7 669,264 670,262Z" fill="#ff9900"/>
<path d="M680,263.6C680,262.8 686,262.8 690,263C694,263.2 700.7,264.2 704,265C707.3,265.8 710,267.2 710,268C710,268.8 707.3,270 704,270C700.7,270 694,269.1 690,268C686,266.9 680,264.4 680,263.6Z" fill="#ffcc00"/>
<path d="M646,452C642.7,449.7 643.7,442 644,438C644.3,434 646.3,431 648,428C649.7,425 652,422.3 654,420C656,417.7 657.3,415.8 660,414C662.7,412.2 667.7,408 670,409C672.3,410 674.3,416.2 674,420C673.7,423.8 669.7,426.7 668,432C666.3,437.3 667.7,448.7 664,452C660.3,455.3 649.3,454.3 646,452Z" fill="#0066ff"/>
<path d="M659,452C658,450 659.2,444 660,440C660.8,436 662.7,431.3 664,428C665.3,424.7 666.3,421.3 668,420C669.7,418.7 673.7,417.7 674,420C674.3,422.3 671.3,428.7 670,434C668.7,439.3 667.8,449 666,452C664.2,455 660,454 659,452Z" fill="#0099ff"/>
<path d="M618,468C619.2,466.2 623,462.3 626,460C629,457.7 632.7,456 636,454C639.3,452 642.7,450.2 646,448C649.3,445.8 653.3,440.7 656,441C658.7,441.3 662.2,446.8 662,450C661.8,453.2 657.3,457.3 655,460C652.7,462.7 650.8,464 648,466C645.2,468 641.7,470.8 638,472C634.3,473.2 629.2,473.2 626,473C622.8,472.8 620.3,471.8 619,471C617.7,470.2 616.8,469.8 618,468Z" fill="#0066ff"/>
<path d="M589,497C589.2,495.3 591.5,492.2 594,491C596.5,489.8 601,489.7 604,490C607,490.3 610.8,491.5 612,493C613.2,494.5 612.7,497.5 611,499C609.3,500.5 605,501.7 602,502C599,502.3 595.2,501.8 593,501C590.8,500.2 588.8,498.7 589,497Z" fill="#0066ff"/>
<path d="M582,260C582.9,258.5 585.7,256.8 588,256C590.3,255.2 593.7,254.5 596,255C598.3,255.5 601.2,257.2 602,259C602.8,260.8 602.2,264.2 601,266C599.8,267.8 597.3,269.5 595,270C592.7,270.5 589.1,269.8 587,269C584.9,268.2 583.2,266.5 582.4,265C581.6,263.5 581.1,261.5 582,260Z" fill="#ffff00"/>
<path d="M560,293C560.5,291.7 563,290.7 565,291C567,291.3 569.8,293.5 572,295C574.2,296.5 577.5,298.6 578,300C578.5,301.4 576.7,303.3 575,303.6C573.3,303.9 570.2,302.8 568,302C565.8,301.2 563.3,300.5 562,299C560.7,297.5 559.5,294.3 560,293Z" fill="#339900"/>
<path d="M584.6,319C584.6,318.2 586.2,316.6 587,316.6C587.8,316.6 589.4,318.2 589.4,319C589.4,319.8 587.8,321.4 587,321.4C586.2,321.4 584.6,319.8 584.6,319Z" fill="#0066ff"/>
<path d="M489,366C492,364 495.2,361.8 498,360C500.8,358.2 503,356.5 506,355C509,353.5 512.8,351.9 516,351C519.2,350.1 522.9,349.4 525,349.6C527.1,349.8 528.9,351.2 528.4,352.4C527.9,353.6 524.7,355.7 522,357C519.3,358.3 515,358.8 512,360C509,361.2 506.3,362.3 504,364C501.7,365.7 500.3,368 498,370C495.7,372 492.3,374.3 490,376C487.7,377.7 486,379 484,380C482,381 479.7,382.3 478,382C476.3,381.7 473.7,379.7 474,378C474.3,376.3 477.5,374 480,372C482.5,370 486,368 489,366Z" fill="#99ffff"/>
<path d="M525,400C524.7,398.2 526.5,395.8 528,394C529.5,392.2 531.7,390.7 534,389C536.3,387.3 539.3,385.7 542,384C544.7,382.3 547.3,380.5 550,379C552.7,377.5 555,375.9 558,375C561,374.1 565.3,373.1 568,373.6C570.7,374.1 573.2,375.9 574.4,378C575.6,380.1 575.9,383.7 575.2,386C574.5,388.3 571.9,390 570,392C568.1,394 566,396.3 564,398C562,399.7 560,400.3 558,402C556,403.7 553.3,405.7 552,408C550.7,410.3 551.7,414.3 550,416C548.3,417.7 544.7,418.7 542,418C539.3,417.3 536,414.2 534,412C532,409.8 531.5,407 530,405C528.5,403 525.3,401.8 525,400Z" fill="#99ffff"/>
<path d="M543,351.4C545.2,351 553.8,350.7 556,351C558.2,351.3 558.2,353 556,353.4C553.8,353.8 545.2,353.7 543,353.4C540.8,353.1 540.8,351.8 543,351.4Z" fill="#99ffff"/>
<path d="M533,396C533,394.2 535.8,391.8 538,390C540.2,388.2 543.3,386.5 546,385C548.7,383.5 551.3,382 554,381C556.7,380 559.8,378.8 562,379C564.2,379.2 566.3,380.3 567,382C567.7,383.7 567.2,387 566,389C564.8,391 562,392.5 560,394C558,395.5 556.3,397 554,398C551.7,399 548.7,399.5 546,400C543.3,400.5 540.2,401.7 538,401C535.8,400.3 533,397.8 533,396Z" fill="#c1c1c1"/>
<path d="M538,395C538.5,393.7 541.7,391.7 544,390C546.3,388.3 549.5,386.1 552,385C554.5,383.9 557.5,383.3 559,383.6C560.5,383.9 561.5,385.6 561,387C560.5,388.4 558.2,390.5 556,392C553.8,393.5 550.5,395 548,396C545.5,397 542.7,398.2 541,398C539.3,397.8 537.5,396.3 538,395Z" fill="#f8fbff"/>
<path d="M470,497C470.3,495.6 475,492.6 478,491C481,489.4 484.3,488.3 488,487.6C491.7,486.9 496.5,486.6 500,487C503.5,487.4 507.1,488.7 509,490C510.9,491.3 512.1,493.5 511.6,495C511.1,496.5 508.6,498.2 506,499C503.4,499.8 499.7,499.8 496,500C492.3,500.2 487.3,500.1 484,500C480.7,499.9 478.3,500.1 476,499.6C473.7,499.1 469.7,498.4 470,497Z" fill="#00ccff"/>
<path d="M490,493C490.3,491.8 493,489.5 495,489C497,488.5 500.5,489.2 502,490C503.5,490.8 504.5,492.9 504,494C503.5,495.1 500.8,496.1 499,496.4C497.2,496.7 494.5,496.6 493,496C491.5,495.4 489.7,494.2 490,493Z" fill="#0099ff"/>
<path d="M458,516C459,513.5 460.7,512.5 463,511C465.3,509.5 468.8,508.1 472,507C475.2,505.9 478.3,504.9 482,504.4C485.7,503.9 490,504 494,504C498,504 502.7,503.7 506,504.4C509.3,505.1 512.2,506.6 514,508C515.8,509.4 518,511.8 517,513C516,514.2 510.8,514.3 508,515C505.2,515.7 502.3,516.2 500,517C497.7,517.8 495.7,518.5 494,520C492.3,521.5 491,523.7 490,526C489,528.3 488,531.3 488,534C488,536.7 489,539.3 490,542C491,544.7 492.8,547.3 494,550C495.2,552.7 496.3,555.5 497,558C497.7,560.5 498.8,563.3 498,565C497.2,566.7 494.3,567.7 492,568C489.7,568.3 486.7,567.7 484,567C481.3,566.3 478.3,565.5 476,564C473.7,562.5 471.3,560.3 470,558C468.7,555.7 468,552.5 468,550C468,547.5 470.3,545 470,543C469.7,541 467.7,539.5 466,538C464.3,536.5 461.5,536 460,534C458.5,532 457.3,529 457,526C456.7,523 457,518.5 458,516Z" fill="#c1c1c1"/>
<path d="M468,521C468.2,519.3 469.3,516.7 471,515C472.7,513.3 475.3,512.2 478,511C480.7,509.8 484.7,508.3 487,508C489.3,507.7 491.8,508.2 492,509C492.2,509.8 490,511.7 488,513C486,514.3 482.3,515.3 480,517C477.7,518.7 475.7,521.7 474,523C472.3,524.3 470.6,525.3 469.6,525C468.6,524.7 467.8,522.7 468,521Z" fill="#f8fbff"/>
<path d="M474,550C474.6,548.2 476.3,546.7 478,546C479.7,545.3 482.3,545 484,546C485.7,547 486.8,549.7 488,552C489.2,554.3 490.7,557.8 491,560C491.3,562.2 491.2,564.2 490,565C488.8,565.8 486,565.5 484,565C482,564.5 479.6,563.3 478,562C476.4,560.7 475.1,559 474.4,557C473.7,555 473.4,551.8 474,550Z" fill="#f8fbff"/>
<path d="M395.6,701C395.6,700 397.2,698 398,698C398.8,698 400.4,700 400.4,701C400.4,702 398.8,704 398,704C397.2,704 395.6,702 395.6,701Z" fill="#99ffff"/>
<path d="M400.6,709C400.6,708.2 402.2,706.6 403,706.6C403.8,706.6 405.4,708.2 405.4,709C405.4,709.8 403.8,711.4 403,711.4C402.2,711.4 400.6,709.8 400.6,709Z" fill="#0099ff"/>
<path d="M428,703C428.3,691.2 428,700.8 430,701C432,701.2 436.7,703 440,704C443.3,705 447.5,707.7 450,707C452.5,706.3 453.7,702.3 455,700C456.3,697.7 456.7,693.7 458,693C459.3,692.3 461.7,694.2 463,696C464.3,697.8 465.7,701.3 466,704C466.3,706.7 465.2,709 465,712C464.8,715 464.2,718.3 465,722C465.8,725.7 468.8,730.3 470,734C471.2,737.7 471.7,740.3 472.4,744C473.1,747.7 473.4,751.3 474,756C474.6,760.7 483.7,769.3 476,772C468.3,774.7 436,783.5 428,772C420,760.5 427.7,714.8 428,703Z" fill="#99ffff"/>
<path d="M428,704C428.3,694.8 428,704.2 430,705C432,705.8 436.7,707.8 440,709C443.3,710.2 447.5,712.8 450,712C452.5,711.2 453.7,706.5 455,704C456.3,701.5 457,697.7 458,697C459,696.3 460.5,697.5 461,700C461.5,702.5 461.2,708.3 461,712C460.8,715.7 459.8,719.3 460,722C460.2,724.7 463,726.8 462,728C461,729.2 457,728.7 454,729C451,729.3 447.3,729.3 444,730C440.7,730.7 436.7,731.7 434,733C431.3,734.3 428.3,736.2 428,738C427.7,739.8 431,741.7 432,744C433,746.3 434.3,749.7 434,752C433.7,754.3 431,756.7 430,758C429,759.3 428.3,769 428,760C427.7,751 427.7,713.2 428,704Z" fill="#c1c1c1"/>
<path d="M424,709C424.7,704.8 425.7,708 428,709C430.3,710 435,713.2 438,715C441,716.8 446,718.3 446,720C446,721.7 440.7,723.3 438,725C435.3,726.7 432.3,728.5 430,730C427.7,731.5 425,737.5 424,734C423,730.5 423.3,713.2 424,709Z" fill="#f8fbff"/>
<path d="M441,744C441.3,741.3 442.2,739.3 444,738C445.8,736.7 449.5,735.7 452,736C454.5,736.3 457.7,737.7 459,740C460.3,742.3 460.5,747 460,750C459.5,753 458,756.5 456,758C454,759.5 450.3,759.7 448,759C445.7,758.3 443.2,756.5 442,754C440.8,751.5 440.7,746.7 441,744Z" fill="#00ccff"/>
<path d="M483.6,606C484.1,604.7 486.1,602.7 488,602C489.9,601.3 493.2,601.1 495,601.6C496.8,602.1 498.7,603.6 499,605C499.3,606.4 498.5,608.9 497,610C495.5,611.1 492,611.7 490,611.6C488,611.5 486.1,610.5 485,609.6C483.9,608.7 483.1,607.3 483.6,606Z" fill="#99ffff"/>
<path d="M418,660C419.3,657.8 423,657 426,656C429,655 432.7,654.8 436,654C439.3,653.2 442.7,652 446,651C449.3,650 452.7,648.8 456,648C459.3,647.2 462.8,646.2 466,646.4C469.2,646.6 473.2,647.6 475,649C476.8,650.4 477.5,653.2 477,655C476.5,656.8 474.2,658.5 472,660C469.8,661.5 466.7,663 464,664C461.3,665 458.7,665.2 456,666C453.3,666.8 450.7,668.7 448,669C445.3,669.3 442.7,668.5 440,668C437.3,667.5 434.7,666 432,666C429.3,666 426.3,667.5 424,668C421.7,668.5 419,670.3 418,669C417,667.7 416.7,662.2 418,660Z" fill="#99ffff"/>
<path d="M442,663C442.2,661.7 443.5,659.8 445,659C446.5,658.2 449.7,657.9 451,658.4C452.3,658.9 453.2,660.7 453,662C452.8,663.3 451.5,665.2 450,666C448.5,666.8 445.3,667.5 444,667C442.7,666.5 441.8,664.3 442,663Z" fill="#c1c1c1"/>
<path d="M460,670C460.5,668.2 465,669.3 468,669C471,668.7 475.3,667 478,668C480.7,669 483.7,673 484,675C484.3,677 481.7,678.5 480,680C478.3,681.5 476,682.7 474,684C472,685.3 469.5,688.7 468,688C466.5,687.3 466.3,683 465,680C463.7,677 459.5,671.8 460,670Z" fill="#99ffff"/>
<path d="M468.4,676C468.4,675.5 469.5,674.4 470,674.4C470.5,674.4 471.6,675.5 471.6,676C471.6,676.5 470.5,677.6 470,677.6C469.5,677.6 468.4,676.5 468.4,676Z" fill="#c1c1c1"/>
<path d="M465,712C465.5,709 466.2,706.2 468,704C469.8,701.8 473,700 476,699C479,698 483.4,697.2 486,698C488.6,698.8 490.8,701.3 491.6,704C492.4,706.7 491.6,711 491,714C490.4,717 489.8,720.2 488,722C486.2,723.8 482.7,724.2 480,725C477.3,725.8 474.5,727.5 472,727C469.5,726.5 466.2,724.5 465,722C463.8,719.5 464.5,715 465,712Z" fill="#99ffff"/>
<path d="M522,664C523.2,662.2 528.3,661.2 532,661C535.7,660.8 540.3,662 544,663C547.7,664 551,665.5 554,667C557,668.5 560,670.2 562,672C564,673.8 566.3,676 566,678C565.7,680 562.7,682.3 560,684C557.3,685.7 553.3,686.8 550,688C546.7,689.2 543.3,689.7 540,691C536.7,692.3 533,694.5 530,696C527,697.5 523.2,701 522,700C520.8,699 522.3,693.3 523,690C523.7,686.7 525.7,683 526,680C526.3,677 525.7,674.7 525,672C524.3,669.3 520.8,665.8 522,664Z" fill="#99ffff"/>
<path d="M538,672C538.7,670.6 541.7,669.7 544,669.6C546.3,669.5 549.8,670.4 552,671.6C554.2,672.8 556.7,675.3 557,677C557.3,678.7 555.8,681.2 554,682C552.2,682.8 548.3,682.3 546,681.6C543.7,680.9 541.3,679.6 540,678C538.7,676.4 537.3,673.4 538,672Z" fill="#c1c1c1"/>
<path d="M581,688C581,685.8 582.2,682.5 584,681C585.8,679.5 590.7,677.2 592,679C593.3,680.8 593.3,689.5 592,692C590.7,694.5 585.8,694.7 584,694C582.2,693.3 581,690.2 581,688Z" fill="#99ffff"/>
<path d="M550,648C550,645.8 553.7,643.3 556,642C558.3,640.7 561.5,639.5 564,640C566.5,640.5 569.7,642.3 571,645C572.3,647.7 572.5,652.8 572,656C571.5,659.2 569.7,663 568,664C566.3,665 564,663.5 562,662C560,660.5 558,657.3 556,655C554,652.7 550,650.2 550,648Z" fill="#00ccff"/>
<path d="M473,814C473.3,811.7 474.2,808.8 476,807C477.8,805.2 481,804 484,803C487,802 491,801 494,801C497,801 501,801.2 502,803C503,804.8 501,809.2 500,812C499,814.8 497.7,817.5 496,820C494.3,822.5 492.7,826 490,827C487.3,828 482.7,827 480,826C477.3,825 475.2,823 474,821C472.8,819 472.7,816.3 473,814Z" fill="#99ffff"/>
<path d="M445,772C444.7,770.2 447.8,767.7 450,766C452.2,764.3 455.3,763.3 458,762C460.7,760.7 462.7,758.7 466,758C469.3,757.3 476.2,756.3 478,758C479.8,759.7 478.3,765.7 477,768C475.7,770.3 472.8,770.8 470,772C467.2,773.2 463,774.2 460,775C457,775.8 454.5,777.5 452,777C449.5,776.5 445.3,773.8 445,772Z" fill="#99ffff"/>
<path d="M398,758C401.7,752 417,756.7 420,758C423,759.3 417.7,764 416,766C414.3,768 411.7,768 410,770C408.3,772 407.3,775.3 406,778C404.7,780.7 403.3,783.3 402,786C400.7,788.7 398.7,798.7 398,794C397.3,789.3 394.3,764 398,758Z" fill="#99ffff"/>
<path d="M398,758C402,756 418.7,756.8 422,758C425.3,759.2 420,763.2 418,765C416,766.8 413.3,768.2 410,769C406.7,769.8 400,771.8 398,770C396,768.2 394,760 398,758Z" fill="#c1c1c1"/>
<path d="M398,809C399.3,807.4 404.2,808.3 406,809C407.8,809.7 408.8,811.5 409,813C409.2,814.5 408.8,817.1 407,818C405.2,818.9 399.5,819.9 398,818.4C396.5,816.9 396.7,810.6 398,809Z" fill="#c1c1c1"/>
<path d="M406.4,830C406.4,829.2 407.8,828.4 408.4,828.6C409,828.8 410,830.2 410,831C410,831.8 409,833.8 408.4,833.6C407.8,833.4 406.4,830.8 406.4,830Z" fill="#c1c1c1"/>
<path d="M377.4,783C377.6,781.7 378.8,779.6 380,779C381.2,778.4 383.4,778.8 384.4,779.6C385.4,780.4 386.2,782.7 386,784C385.8,785.3 384.2,787.1 383,787.6C381.8,788.1 379.9,787.8 379,787C378.1,786.2 377.2,784.3 377.4,783Z" fill="#f8fbff"/>
<path d="M406,831C406,830.3 407.3,829 408,829C408.7,829 410,830.3 410,831C410,831.7 408.7,833 408,833C407.3,833 406,831.7 406,831Z" fill="#c1c1c1"/>
<path d="M468,587C470.2,584.6 475.3,585.6 480,585.6C484.7,585.6 491.3,586.4 496,587C500.7,587.6 505.3,587.8 508,589C510.7,590.2 511.8,591.8 512,594C512.2,596.2 510.2,599 509,602C507.8,605 512.3,610.3 505,612C497.7,613.7 471.3,614 465,612C458.7,610 466.5,604.2 467,600C467.5,595.8 465.8,589.4 468,587Z" fill="#00ccff"/>
<path d="M554.8,188C555.1,186.6 558,184.5 560.5,183.7C563,182.8 567.2,182.7 569.9,182.9C572.5,183.2 575.8,183.9 576.5,185.2C577.1,186.4 575.4,189.2 573.6,190.4C571.9,191.7 568.6,192.4 566.1,192.7C563.6,193 560.5,193.1 558.6,192.3C556.7,191.5 554.5,189.4 554.8,188Z" fill="#990000"/>
<path d="M610.4,171.1C610.3,168.7 612.2,166.8 613.7,166.4C615.3,165.9 617.8,167.4 619.8,168.6C621.8,169.8 623.6,171.8 625.8,173.5C628,175.2 632.1,176.6 632.9,178.6C633.8,180.5 632.6,184.2 631.1,185.2C629.5,186.1 625.7,184.2 623.5,184.2C621.3,184.2 619.5,185.8 617.9,185.2C616.3,184.5 615.4,182.8 614.1,180.5C612.9,178.1 610.4,173.4 610.4,171.1Z" fill="#990000"/>
<path d="M457.9,894.7C457.1,892.6 457.9,889.7 458.8,888C459.8,886.2 461.3,884.3 463.7,884.1C466.1,884 470.4,886.2 473.3,887C476.2,887.8 479.9,887.8 481,888.9C482.2,890.1 481.7,892.3 480.1,893.8C478.5,895.2 474.1,896.5 471.4,897.6C468.7,898.7 465.9,901 463.7,900.5C461.4,900 458.7,896.8 457.9,894.7Z" fill="#c1c1c1"/>
<path d="M451.1,938.1C451.3,936.2 453.9,934.1 456,932.4C458,930.6 460.8,928.8 463.7,927.9C466.6,927 470.4,927 473.3,927.1C476.2,927.2 479.6,926.8 481,928.5C482.5,930.2 482.5,934.8 482,937.2C481.5,939.6 479.9,941.4 478.1,943C476.4,944.6 473.5,945.7 471.4,946.8C469.3,947.9 467.9,948.8 465.6,949.7C463.3,950.7 460.5,951.5 457.9,952.6C455.3,953.7 452.1,955.2 450.2,956.5C448.2,957.8 447.6,959.2 446.3,960.3C445,961.5 443.9,963.2 442.4,963.2C441,963.2 438.9,961.8 437.6,960.3C436.3,958.9 433.9,956 434.7,954.5C435.5,953.1 439.9,952.6 442.4,951.6C445,950.7 448.1,950 450.2,948.8C452.3,947.5 454.8,945.7 455,943.9C455.1,942.2 451,940.1 451.1,938.1Z" fill="#c1c1c1"/>
<path d="M465.6,938.1C466.1,936.9 468.5,935.1 470.4,934.3C472.4,933.5 475.3,932.8 477.2,933.3C479,933.8 481.4,935.6 481.4,937.2C481.4,938.8 478.8,941.7 477.2,943C475.5,944.2 473,945.1 471.4,944.9C469.8,944.7 468.5,943.1 467.5,942C466.6,940.9 465.1,939.4 465.6,938.1Z" fill="#99ffff"/>
<path d="M434.7,932.4C434.9,931.6 437.5,930.3 438.6,930.4C439.7,930.5 441.6,932.2 441.5,932.9C441.3,933.7 438.7,935 437.6,934.9C436.5,934.8 434.6,933.1 434.7,932.4Z" fill="#c1c1c1"/>
<path d="M433.8,956.5C434.6,955.2 436.8,954.4 438.6,954.5C440.4,954.7 443.6,955.5 444.4,957.4C445.2,959.4 444.5,964.5 443.4,966.1C442.3,967.7 439.2,967.7 437.6,967.1C436,966.4 434.4,964 433.8,962.3C433.1,960.5 433,957.8 433.8,956.5Z" fill="#c1c1c1"/>
<path d="M434.3,958.4C434.5,956.7 437.2,956.4 438.6,956.5C440,956.5 442.3,957.2 442.8,958.8C443.3,960.4 442.3,964.8 441.5,966.1C440.6,967.4 438.8,968 437.6,966.7C436.4,965.4 434.2,960.1 434.3,958.4Z" fill="#99ffff"/>
<path d="M447.3,956.5C447.8,955.1 452.9,953.1 456,952.2C459,951.3 463.7,950.2 465.6,951.1C467.5,951.9 468.3,955.7 467.5,957.4C466.7,959.1 463.2,960.8 460.8,961.3C458.4,961.8 455.3,961.1 453.1,960.3C450.8,959.5 446.8,957.8 447.3,956.5Z" fill="#c1c1c1"/>
<path d="M449.2,956.5C449.7,955.5 453.4,954.2 456,953.6C458.5,952.9 462.9,951.9 464.6,952.6C466.4,953.4 467.4,956.7 466.6,958C465.8,959.4 462.1,960.5 459.8,960.7C457.6,960.9 454.8,960.1 453.1,959.4C451.3,958.7 448.7,957.4 449.2,956.5Z" fill="#99ffff"/>
<path d="M458.8,959.7C459.5,958.7 464.8,956.6 466.6,957C468.3,957.5 468.3,960.1 469.5,962.3C470.6,964.4 473.2,968.2 473.3,970C473.5,971.7 471.5,973.2 470.4,972.9C469.3,972.5 467.9,969.6 466.6,968C465.3,966.5 464,965 462.7,963.6C461.4,962.2 458.2,960.8 458.8,959.7Z" fill="#0099ff"/>
<path d="M424.7,736.5C425.5,734.5 429.4,733.6 431.8,732.4C434.1,731.1 436.5,729.8 438.8,728.8C441.2,727.8 443.1,727.1 445.9,726.5C448.6,725.9 452.5,725.7 455.3,725.3C458,724.9 460.8,723.5 462.4,724.1C463.9,724.7 463.9,727.1 464.7,728.8C465.5,730.6 466.5,732.4 467.1,734.7C467.6,737.1 468,739.6 468.2,742.9C468.4,746.3 468.4,751.4 468.2,754.7C468,758 467.6,760.4 467.1,762.9C466.5,765.5 466.3,768.4 464.7,770C463.1,771.6 460,771.2 457.6,772.4C455.3,773.5 452.5,776.5 450.6,777.1C448.6,777.6 447.5,776.9 445.9,775.9C444.3,774.9 442.7,772.7 441.2,771.2C439.6,769.6 438.2,767.5 436.5,766.5C434.7,765.5 432.5,765.3 430.6,765.3C428.6,765.3 426.7,765.7 424.7,766.5C422.7,767.3 420.8,768.6 418.8,770C416.9,771.4 414.7,773.1 412.9,774.7C411.2,776.3 409.4,776.7 408.2,779.4C407.1,782.2 408,789.2 405.9,791.2C403.7,793.1 397.1,793.1 395.3,791.2C393.5,789.2 395.1,782.5 395.3,779.4C395.5,776.3 395.5,773.7 396.5,772.4C397.5,771 399.2,771.6 401.2,771.2C403.1,770.8 406.7,770.8 408.2,770C409.8,769.2 409,767.8 410.6,766.5C412.2,765.1 414.9,762.7 417.6,761.8C420.4,760.8 424.4,761.2 427.1,760.6C429.7,760 432.4,759.8 433.5,758.2C434.7,756.7 434.2,753.3 434.1,751.2C434,749 433.7,745.7 432.9,745.3C432.2,744.9 430.4,749 429.4,748.8C428.4,748.6 427.8,746.2 427.1,744.1C426.3,742.1 423.9,738.4 424.7,736.5Z" fill="#99ffff"/>
<path d="M441.2,742.9C441.4,740.6 442.4,738.4 443.5,737.1C444.7,735.7 446.9,734.1 448.2,734.7C449.6,735.3 450.6,740 451.8,740.6C452.9,741.2 453.7,738.8 455.3,738.2C456.9,737.6 460,736.3 461.2,737.1C462.4,737.8 462.4,740.6 462.4,742.9C462.4,745.3 462,748.8 461.2,751.2C460.4,753.5 459.2,755.7 457.6,757.1C456.1,758.4 453.7,759.4 451.8,759.4C449.8,759.4 447.5,758.4 445.9,757.1C444.3,755.7 443.1,753.5 442.4,751.2C441.6,748.8 441,745.3 441.2,742.9Z" fill="#00ccff"/>
<path d="M405.9,791.2C398.8,789.4 407,783.2 408.2,780.6C409.5,777.9 411.7,776.9 413.5,775.3C415.4,773.7 417.5,772.5 419.4,771.2C421.4,769.9 423.4,768.4 425.3,767.6C427.2,766.9 428.7,766.5 430.6,766.5C432.5,766.5 434.7,766.7 436.5,767.6C438.2,768.6 439.6,770.8 441.2,772.4C442.7,773.9 444.3,776.1 445.9,777.1C447.5,778 449.4,777.6 450.6,778.2C451.8,778.8 452.9,778.4 452.9,780.6C452.9,782.7 458.4,789.4 450.6,791.2C442.7,792.9 412.9,792.9 405.9,791.2Z" fill="#00ccff"/>
<path d="M415.3,791.2C411.6,789.6 416.3,784.3 417.6,781.8C419,779.2 421.6,777.3 423.5,775.9C425.5,774.5 427.6,773.5 429.4,773.5C431.2,773.5 432.7,774.5 434.1,775.9C435.5,777.3 436.7,779.2 437.6,781.8C438.6,784.3 443.7,789.6 440,791.2C436.3,792.7 419,792.7 415.3,791.2Z" fill="#0099ff"/>
<path d="M423.5,791.2C422.2,790.2 424.7,786.5 425.9,785.3C427.1,784.1 429.2,783.1 430.6,784.1C432,785.1 435.3,790 434.1,791.2C432.9,792.4 424.9,792.2 423.5,791.2Z" fill="#0066ff"/>
<path d="M417.6,707.6C418.2,707.4 423.9,705.5 427.1,705.9C430.2,706.3 433.3,708.9 436.5,710C439.6,711.1 443.1,713.3 445.9,712.4C448.6,711.4 451.2,706.7 452.9,704.1C454.7,701.6 455.1,698 456.5,697.1C457.8,696.1 460.1,696.5 461.2,698.2C462.3,700 462.7,703.3 462.9,707.6C463.1,712 463.6,721.2 462.4,724.1C461.1,727.1 458,724.9 455.3,725.3C452.5,725.7 448.6,725.9 445.9,726.5C443.1,727.1 441.2,727.8 438.8,728.8C436.5,729.8 433.7,731.4 431.8,732.4C429.8,733.3 428.6,734 427.1,734.7C425.5,735.4 421.8,737.2 422.4,736.5C422.9,735.8 428.2,732.5 430.6,730.6C432.9,728.7 434.3,727 436.5,725.3C438.6,723.6 443.7,722.3 443.5,720.4C443.3,718.4 437.6,715.3 435.3,713.5C432.9,711.8 431.4,711 429.4,710C427.5,709 425.5,708 423.5,707.6C421.6,707.3 417.1,707.9 417.6,707.6Z" fill="#c1c1c1"/>
<path d="M377.6,754.1C379.2,748.1 384.1,754.6 387.1,755.3C390,756 392.5,757 395.3,758.2C398,759.5 401,761.6 403.5,762.9C406.1,764.3 409.8,765.3 410.6,766.5C411.4,767.6 409.8,769.2 408.2,770C406.7,770.8 403.1,770.8 401.2,771.2C399.2,771.6 397.5,771 396.5,772.4C395.5,773.7 395.5,776.3 395.3,779.4C395.1,782.5 398.2,789.2 395.3,791.2C392.4,793.1 380.6,797.4 377.6,791.2C374.7,785 376.1,760.1 377.6,754.1Z" fill="#c1c1c1"/>
<path d="M417.6,741.8C418,739.8 420,737.9 421.2,737.1C422.4,736.2 423.7,735.3 424.7,736.5C425.7,737.6 426.3,742.1 427.1,744.1C427.8,746.2 428.4,748.6 429.4,748.8C430.4,749 432.2,744.9 432.9,745.3C433.7,745.7 434,749 434.1,751.2C434.2,753.3 434.7,756.7 433.5,758.2C432.4,759.8 429.1,760 427.1,760.6C425,761.2 422.2,762.5 421.2,761.8C420.2,761 421.6,758 421.2,755.9C420.8,753.7 419.4,751.2 418.8,748.8C418.2,746.5 417.3,743.7 417.6,741.8Z" fill="#c1c1c1"/>
<path d="M377.6,710.6C380,704.1 387.5,713.9 391.8,715.3C396.1,716.7 400.2,718.8 403.5,718.8C406.9,718.8 409.4,716.9 411.8,715.3C414.1,713.7 415.7,710.7 417.6,709.4C419.6,708.1 421.6,707.5 423.5,707.6C425.5,707.7 427.5,709 429.4,710C431.4,711 432.9,711.8 435.3,713.5C437.6,715.2 443.3,718.3 443.5,720.2C443.7,722.2 438.6,723.6 436.5,725.3C434.3,727 432.5,728.8 430.6,730.6C428.6,732.4 426.3,734.8 424.7,735.9C423.1,737 422.4,736.1 421.2,737.1C420,738 418,739.8 417.6,741.8C417.3,743.7 418.2,746.5 418.8,748.8C419.4,751.2 421.4,753.7 421.2,755.9C421,758 419.4,760 417.6,761.8C415.9,763.5 412.9,766.3 410.6,766.5C408.2,766.7 406.1,764.3 403.5,762.9C401,761.6 398,759.5 395.3,758.2C392.5,757 390,756 387.1,755.3C384.1,754.6 379.2,761.6 377.6,754.1C376.1,746.7 375.3,717.1 377.6,710.6Z" fill="#f8fbff"/>
<path d="M377.6,779.4C378.6,778.1 382.2,779.2 383.5,780C384.9,780.8 385.9,782.8 385.9,784.1C385.9,785.4 384.9,787.1 383.5,787.6C382.2,788.2 378.6,789 377.6,787.6C376.7,786.3 376.7,780.7 377.6,779.4Z" fill="#f8fbff"/>
</g>
</g>
<g clip-path="url(#c_m1)">
<path d="M150.4,182.1 154.1,183.1 155.1,178.4 157.9,175.5 159.8,171.8 162.6,172.7 163.5,176.5 162.6,181.2 160.7,184.9 156.9,187.2 154.1,186.8 153.2,184Z" fill="#c1c1c1"/>
</g>
<path d="M150.4,182.1 154.1,183.1 155.1,178.4 157.9,175.5 159.8,171.8 162.6,172.7 163.5,176.5 162.6,181.2 160.7,184.9 156.9,187.2 154.1,186.8 153.2,184Z" fill="none" stroke="#000" stroke-width="1" stroke-linejoin="round"/>
<g clip-path="url(#c_m2)">
<path d="M167.3,207.5 170.1,202.8 174.8,200 179.5,197.7 183.3,198.1 180.5,200.9 175.8,203.8 172,207.5 168.8,209Z" fill="#c1c1c1"/>
</g>
<path d="M167.3,207.5 170.1,202.8 174.8,200 179.5,197.7 183.3,198.1 180.5,200.9 175.8,203.8 172,207.5 168.8,209Z" fill="none" stroke="#000" stroke-width="1" stroke-linejoin="round"/>
<g clip-path="url(#c_m3)">
<path d="M143.8,228.2 148.5,225.4 156,223.5 161.6,218.8 166.4,213.2 171.1,212.2 174.8,216 175.8,221.6 172.9,226.4 169.2,228.2 164.5,230.1 162.6,232.4 157.9,230.1 152.2,232 147.5,233.9 146.6,236.7 148.1,241.4 148.5,247.1 150.7,249.9 148.5,251.8 145.6,248.9 142.8,250.4 141.9,244.2 142.8,238.6 145.1,234.8 144.3,232.4Z" fill="#c1c1c1"/>
</g>
<path d="M143.8,228.2 148.5,225.4 156,223.5 161.6,218.8 166.4,213.2 171.1,212.2 174.8,216 175.8,221.6 172.9,226.4 169.2,228.2 164.5,230.1 162.6,232.4 157.9,230.1 152.2,232 147.5,233.9 146.6,236.7 148.1,241.4 148.5,247.1 150.7,249.9 148.5,251.8 145.6,248.9 142.8,250.4 141.9,244.2 142.8,238.6 145.1,234.8 144.3,232.4Z" fill="none" stroke="#000" stroke-width="1" stroke-linejoin="round"/>
<g clip-path="url(#c_m4)">
<path d="M177.6,221.6 182.4,220.7 184.2,223.5 182.4,227.3 180.5,230.1 183.3,232.9 184.2,235.8 181.4,236.7 179.5,232 178.2,227.3Z" fill="#d4d8de"/>
</g>
<path d="M177.6,221.6 182.4,220.7 184.2,223.5 182.4,227.3 180.5,230.1 183.3,232.9 184.2,235.8 181.4,236.7 179.5,232 178.2,227.3Z" fill="none" stroke="#000" stroke-width="1" stroke-linejoin="round"/>
<g clip-path="url(#c_m5)">
<path d="M180.5,212.2 183.3,210.4 185.2,211.7 182.4,213.6Z" fill="#c1c1c1"/>
</g>
<path d="M180.5,212.2 183.3,210.4 185.2,211.7 182.4,213.6Z" fill="none" stroke="#000" stroke-width="1" stroke-linejoin="round"/>
<g clip-path="url(#c_m6)">
<path d="M92.9,291.3 96.7,286.6 98.6,280.9 100.5,275.3 98.6,270.6 99.5,266.4 104.2,267.4 109.3,269.6 109.3,273.4 106.1,276.2 107.1,280 111.8,279.1 115.5,281.9 116.5,283.8 120.2,280 119.3,275.3 124.9,274.4 131.5,273 139.1,272.5 142.8,271.9 140.9,276.2 137.2,280.9 134.4,285.6 129.6,286.6 124.9,290.4 120.2,293.2 114.6,292.2 109.9,296 106.1,297.5 102.4,295.1 97.6,295.1Z" fill="#f8fbff"/>
<path d="M127.8,275.3C128.3,274 129.6,273.5 131.5,273C133.4,272.6 137,272.7 139.1,272.5C141.1,272.2 143.9,270.3 143.8,271.5C143.6,272.8 139.7,277.6 138.1,280C136.5,282.4 135.6,284.6 134.4,285.6C133.1,286.7 131.6,287 130.6,286.2C129.6,285.4 128.6,282.8 128.1,280.9C127.7,279.1 127.2,276.6 127.8,275.3Z" fill="#c1c1c1"/>
</g>
<path d="M92.9,291.3 96.7,286.6 98.6,280.9 100.5,275.3 98.6,270.6 99.5,266.4 104.2,267.4 109.3,269.6 109.3,273.4 106.1,276.2 107.1,280 111.8,279.1 115.5,281.9 116.5,283.8 120.2,280 119.3,275.3 124.9,274.4 131.5,273 139.1,272.5 142.8,271.9 140.9,276.2 137.2,280.9 134.4,285.6 129.6,286.6 124.9,290.4 120.2,293.2 114.6,292.2 109.9,296 106.1,297.5 102.4,295.1 97.6,295.1Z" fill="none" stroke="#000" stroke-width="1" stroke-linejoin="round"/>
<g clip-path="url(#c_m7)">
<path d="M145.6,274.4 147.5,271.9 148.8,274.4 147,278.1Z" fill="#f8fbff"/>
</g>
<path d="M145.6,274.4 147.5,271.9 148.8,274.4 147,278.1Z" fill="none" stroke="#000" stroke-width="1" stroke-linejoin="round"/>
<g clip-path="url(#c_w1)">
<path d="M265.8,185.7 267.1,182.5 270.5,181.9 270.5,178.2 274.3,177.3 276.5,181 278.4,182.9 278.4,189.4 280.8,190.4 283.6,187.6 286.4,183.8 290.2,181.9 293,182.9 293.9,186.6 296.8,187.6 299.6,189.4 302,193.2 299.6,194.5 295.8,191.9 293.9,192.3 292.1,196 289.3,198.8 285.5,199.8 281.8,198.8 279.9,201.6 277.6,203.9 277.1,200.7 278.4,196.9 277.6,192.3 274.3,191.3 272.4,187.6 270.5,185.1 268.3,188.9Z" fill="#f8fbff"/>
<path d="M278.4,190.4C278.7,189.3 279.9,190.8 280.8,190.4C281.7,189.9 282.7,188.7 283.6,187.6C284.6,186.5 285.3,184.8 286.4,183.8C287.5,182.9 289.1,182.1 290.2,181.9C291.3,181.8 292.4,182.1 293,182.9C293.6,183.7 293.3,185.8 293.9,186.6C294.6,187.4 295.8,187.1 296.8,187.6C297.7,188 298.7,188.5 299.6,189.4C300.4,190.4 302,192.3 302,193.2C302,194 300.6,194.7 299.6,194.5C298.5,194.3 296.8,192.3 295.8,191.9C294.9,191.5 294.6,191.6 293.9,192.3C293.3,192.9 292.8,194.9 292.1,196C291.3,197.1 290.3,198.2 289.3,198.8C288.2,199.4 286.8,199.8 285.5,199.8C284.3,199.8 282.8,199.3 281.8,198.8C280.7,198.3 279.5,198.3 278.9,196.9C278.4,195.5 278.1,191.5 278.4,190.4Z" fill="#c1c1c1"/>
</g>
<path d="M265.8,185.7 267.1,182.5 270.5,181.9 270.5,178.2 274.3,177.3 276.5,181 278.4,182.9 278.4,189.4 280.8,190.4 283.6,187.6 286.4,183.8 290.2,181.9 293,182.9 293.9,186.6 296.8,187.6 299.6,189.4 302,193.2 299.6,194.5 295.8,191.9 293.9,192.3 292.1,196 289.3,198.8 285.5,199.8 281.8,198.8 279.9,201.6 277.6,203.9 277.1,200.7 278.4,196.9 277.6,192.3 274.3,191.3 272.4,187.6 270.5,185.1 268.3,188.9Z" fill="none" stroke="#000" stroke-width="1" stroke-linejoin="round"/>
<g clip-path="url(#c_d1)">
<path d="M256.4,274.8 260.2,273.3 266.8,272.9 273.3,272.3 277.1,272.9 276.1,276.3 273.3,278.9 269.6,281.3 265.8,283.2 263.9,285.1 261.5,284.1 259.6,281.3 257.4,278.1Z" fill="#99ffff"/>
</g>
<path d="M256.4,274.8 260.2,273.3 266.8,272.9 273.3,272.3 277.1,272.9 276.1,276.3 273.3,278.9 269.6,281.3 265.8,283.2 263.9,285.1 261.5,284.1 259.6,281.3 257.4,278.1Z" fill="none" stroke="#000" stroke-width="1" stroke-linejoin="round"/>
<g clip-path="url(#c_d2)">
<path d="M287.8,301 288.9,296.9 291.1,294.4 293,291.6 295.8,288.3 297.7,285.6 301.4,284.5 304.6,285.1 306.1,283.2 308.9,282.6 311.2,283.2 309.9,286 308,288.8 305.2,290.7 302.4,292 300.5,295.4 297.7,297.3 294.9,296.9 293,299.1 290.8,301.9 290.2,304.8 288.9,308.1 287.4,307.6 288.5,303.8Z" fill="#99ffff"/>
</g>
<path d="M287.8,301 288.9,296.9 291.1,294.4 293,291.6 295.8,288.3 297.7,285.6 301.4,284.5 304.6,285.1 306.1,283.2 308.9,282.6 311.2,283.2 309.9,286 308,288.8 305.2,290.7 302.4,292 300.5,295.4 297.7,297.3 294.9,296.9 293,299.1 290.8,301.9 290.2,304.8 288.9,308.1 287.4,307.6 288.5,303.8Z" fill="none" stroke="#000" stroke-width="1" stroke-linejoin="round"/>
<g clip-path="url(#c_d3)">
<path d="M289.6,281.9 291.1,278.9 292.6,281.9Z" fill="#333"/>
</g>
<path d="M289.6,281.9 291.1,278.9 292.6,281.9Z" fill="none" stroke="#000" stroke-width="1" stroke-linejoin="round"/>
<g clip-path="url(#c_d4)">
<path d="M298.6,281.3 299.6,278.1 300.9,279.4 300.1,282.6Z" fill="#f8fbff"/>
</g>
<path d="M298.6,281.3 299.6,278.1 300.9,279.4 300.1,282.6Z" fill="none" stroke="#000" stroke-width="1" stroke-linejoin="round"/>
<g clip-path="url(#c_k1)">
<path d="M116.5,415.3 121.2,412.5 124.9,408.7 124.9,403.1 122.1,398.4 119.3,393.6 120.2,388.9 124,386.1 128.7,385.2 133.4,387.1 137.2,390.8 141.9,393.6 147.5,393.6 153.2,389.9 156.9,385.2 157.9,379.5 160.7,374.8 165.4,371.1 171.1,372.4 176.7,373.9 180.5,379.5 183.3,385.2 188,389.9 187.6,396.5 191.8,402.1 188,405.9 186.1,411.5 184.2,415.3 178.6,416.2 172.9,417.6 172,414.4 168.2,411.5 162.6,409.6 156,408.1 150.4,409.3 144.7,412.5 140,416.2 137.6,420.9 135.3,425.6 130.6,426.6 125.9,423.8 122.1,420 118.4,418.1Z" fill="#f8fbff"/>
<path d="M169.2,406.8C170.4,404.9 171.4,403.1 172.9,401.2C174.5,399.3 176.5,397.7 178.6,395.5C180.6,393.3 183,388.2 185.2,388C187.4,387.8 191.3,392.5 191.8,394.6C192.2,396.6 189.9,398.2 188,400.2C186.1,402.3 182.7,404.6 180.5,406.8C178.3,409 176.4,411.8 174.8,413.4C173.3,415 172.6,416.4 171.1,416.2C169.5,416.1 165.7,414 165.4,412.5C165.1,410.9 167.9,408.7 169.2,406.8Z" fill="#c1c1c1"/>
<path d="M112.7,419.1C110.8,415.8 120.9,412.5 124,410.6C127.1,408.7 128.7,408.7 131.5,407.8C134.4,406.8 137.8,406.2 140.9,404.9C144.1,403.7 147.2,402.1 150.4,400.2C153.5,398.4 157.1,396 159.8,393.6C162.4,391.3 164.5,388.8 166.4,386.1C168.2,383.5 169.8,380 171.1,377.6C172.3,375.3 171.7,370.1 173.9,372C176.1,373.9 183.5,385.4 184.2,389.3C185,393.2 180.5,393.6 178.6,395.5C176.7,397.5 174.5,399.3 172.9,401.2C171.4,403.1 170.4,404.6 169.2,406.8C167.9,409 171.1,410.4 165.4,414.4C159.8,418.3 144.1,429.6 135.3,430.4C126.5,431.1 114.6,422.4 112.7,419.1Z" fill="#99ffff"/>
<path d="M114.6,411.5C115.8,416.4 121.2,411.2 124,410.6C126.8,410 128.7,408.7 131.5,407.8C134.4,406.8 137.8,406.2 140.9,404.9C144.1,403.7 147.2,402.1 150.4,400.2C153.5,398.4 157.1,396 159.8,393.6C162.4,391.3 164.5,388.8 166.4,386.1C168.2,383.5 169.8,380 171.1,377.6C172.3,375.3 175.1,373.6 173.9,372C172.6,370.4 173.1,366.7 163.5,368.2C154,369.8 124.6,374.2 116.5,381.4C108.3,388.6 113.3,406.7 114.6,411.5Z" fill="#00ccff"/>
</g>
<path d="M116.5,415.3 121.2,412.5 124.9,408.7 124.9,403.1 122.1,398.4 119.3,393.6 120.2,388.9 124,386.1 128.7,385.2 133.4,387.1 137.2,390.8 141.9,393.6 147.5,393.6 153.2,389.9 156.9,385.2 157.9,379.5 160.7,374.8 165.4,371.1 171.1,372.4 176.7,373.9 180.5,379.5 183.3,385.2 188,389.9 187.6,396.5 191.8,402.1 188,405.9 186.1,411.5 184.2,415.3 178.6,416.2 172.9,417.6 172,414.4 168.2,411.5 162.6,409.6 156,408.1 150.4,409.3 144.7,412.5 140,416.2 137.6,420.9 135.3,425.6 130.6,426.6 125.9,423.8 122.1,420 118.4,418.1Z" fill="none" stroke="#000" stroke-width="1" stroke-linejoin="round"/>
<g clip-path="url(#c_k2)">
<path d="M91.1,416.8 92.9,412.5 94.8,407.8 96.7,403.1 100.5,400.6 106.1,400.2 110.8,402.1 112.7,406.8 111.8,411.5 108.9,413.4 104.2,415.3 100.5,416.2 98.6,420 95.8,419.1 92.9,418.1Z" fill="#99ffff"/>
<path d="M88.2,411.2C89.2,413.6 91.7,410.9 93.9,411.2C96.1,411.4 98,412.4 101.4,412.5C104.9,412.5 112.4,414.2 114.6,411.5C116.8,408.9 119,399 114.6,396.5C110.2,394 92.6,394 88.2,396.5C83.8,398.9 87.3,408.7 88.2,411.2Z" fill="#00ccff"/>
</g>
<path d="M91.1,416.8 92.9,412.5 94.8,407.8 96.7,403.1 100.5,400.6 106.1,400.2 110.8,402.1 112.7,406.8 111.8,411.5 108.9,413.4 104.2,415.3 100.5,416.2 98.6,420 95.8,419.1 92.9,418.1Z" fill="none" stroke="#000" stroke-width="1" stroke-linejoin="round"/>
<g clip-path="url(#c_p1)">
<path d="M131,563.9 132.8,561.2 137.2,560.3 138.9,556 138.4,551.6 140.7,546.3 141.6,541.9 144.2,541 146.8,543.6 149.5,541 152.1,537.5 157.4,536.1 161.8,537.8 164.4,541 163.5,544.5 162.3,547.2 164.1,550.7 166.2,552.4 168.8,553.3 170.6,556 173.2,555.1 175,552.4 178.5,554.2 181.1,553.3 182,557.7 183.8,563 185.5,565.3 182,564.7 177.6,563.9 173.2,564.7 169.7,567.4 166.2,570 164.4,572.7 165.3,576.2 160.9,577.1 156.5,576.5 157.4,573.5 160,571.8 157.4,570.9 153.9,571.8 150.3,570 148.6,566.5 150.3,565.6 153,568.3 156.5,567.4 153.9,564.7 153,561.2 154.7,558.6 158.3,557.7 160.9,559.5 162.7,556.8 163.5,553.3 161.8,549.8 160.9,546.3 160,542.8 157.4,540.1 153.9,539.6 151.2,541.9 149.5,545.4 146.5,546.6 144.2,545.4 143,548.9 142.4,554.2 142.4,559.5 141.9,563.5 139.8,562.5 136.3,563.5 132.8,564.7Z" fill="#f8fbff"/>
<path d="M162.7,559.5C163.7,558.3 164.9,557.1 166.2,556.8C167.5,556.5 169.7,556.8 170.6,557.7C171.5,558.6 171.7,560.6 171.5,562.1C171.2,563.6 170,565.3 168.8,566.5C167.6,567.7 165.7,569 164.4,569.1C163.1,569.3 161.6,568.3 160.9,567.4C160.2,566.5 159.7,565.2 160,563.9C160.3,562.5 161.6,560.6 162.7,559.5Z" fill="#c1c1c1"/>
<path d="M151.2,541.9C151.2,541.6 152.7,539.3 153.9,538.4C155,537.4 156.8,536.2 158.3,536.1C159.7,536 161.6,537 162.7,537.8C163.7,538.7 164.5,540 164.8,541.4C165,542.7 164.7,545 164.1,545.9C163.5,546.8 161.9,547.2 161.3,546.6C160.6,546.1 160.7,543.8 160,542.8C159.4,541.7 158.4,540.6 157.4,540.1C156.4,539.7 154.9,539.7 153.9,539.9C152.8,540.2 151.2,542.1 151.2,541.9Z" fill="#c1c1c1"/>
<path d="M138.9,549.8C139.2,546.9 140.4,544.8 141.2,543.6C142,542.5 143.4,541.9 143.7,542.8C144,543.6 143.1,546 143,548.9C142.8,551.8 143.2,558.3 142.6,560.3C142,562.4 140.1,563 139.4,561.2C138.8,559.5 138.6,552.7 138.9,549.8Z" fill="#c1c1c1"/>
</g>
<path d="M131,563.9 132.8,561.2 137.2,560.3 138.9,556 138.4,551.6 140.7,546.3 141.6,541.9 144.2,541 146.8,543.6 149.5,541 152.1,537.5 157.4,536.1 161.8,537.8 164.4,541 163.5,544.5 162.3,547.2 164.1,550.7 166.2,552.4 168.8,553.3 170.6,556 173.2,555.1 175,552.4 178.5,554.2 181.1,553.3 182,557.7 183.8,563 185.5,565.3 182,564.7 177.6,563.9 173.2,564.7 169.7,567.4 166.2,570 164.4,572.7 165.3,576.2 160.9,577.1 156.5,576.5 157.4,573.5 160,571.8 157.4,570.9 153.9,571.8 150.3,570 148.6,566.5 150.3,565.6 153,568.3 156.5,567.4 153.9,564.7 153,561.2 154.7,558.6 158.3,557.7 160.9,559.5 162.7,556.8 163.5,553.3 161.8,549.8 160.9,546.3 160,542.8 157.4,540.1 153.9,539.6 151.2,541.9 149.5,545.4 146.5,546.6 144.2,545.4 143,548.9 142.4,554.2 142.4,559.5 141.9,563.5 139.8,562.5 136.3,563.5 132.8,564.7Z" fill="none" stroke="#000" stroke-width="1" stroke-linejoin="round"/>
<g clip-path="url(#c_p2)">
<path d="M160.9,506.7 163.5,509.3 165.3,512 164.4,515.5 167.1,517.3 167.9,519.9 165.3,522.5 162.7,521.7 162.3,518.1 164.1,514.6 162.3,511.1 161.3,507.6Z" fill="#f8fbff"/>
</g>
<path d="M160.9,506.7 163.5,509.3 165.3,512 164.4,515.5 167.1,517.3 167.9,519.9 165.3,522.5 162.7,521.7 162.3,518.1 164.1,514.6 162.3,511.1 161.3,507.6Z" fill="none" stroke="#000" stroke-width="1" stroke-linejoin="round"/>
<g clip-path="url(#c_p3)">
<path d="M175,532.2 177.6,534.8 180.2,532.2 179.4,536.6 177.6,540.1 175.8,539.2 176.7,536.1Z" fill="#f8fbff"/>
</g>
<path d="M175,532.2 177.6,534.8 180.2,532.2 179.4,536.6 177.6,540.1 175.8,539.2 176.7,536.1Z" fill="none" stroke="#000" stroke-width="1" stroke-linejoin="round"/>
<g clip-path="url(#c_p4)">
<path d="M140.7,581.8 144.2,580.6 148.6,580 147.7,581.5 143.7,582.9 141.2,583.2Z" fill="#f8fbff"/>
</g>
<path d="M140.7,581.8 144.2,580.6 148.6,580 147.7,581.5 143.7,582.9 141.2,583.2Z" fill="none" stroke="#000" stroke-width="1" stroke-linejoin="round"/>
<g clip-path="url(#c_p5)">
<path d="M135.4,604.3 138,606.1 138.9,609.6 141.6,611.4 144.2,609.6 147.7,611.4 146,613.1 140.7,614.5 136.3,614 133.6,613.1 136.3,611.4 135.9,607Z" fill="#f8fbff"/>
</g>
<path d="M135.4,604.3 138,606.1 138.9,609.6 141.6,611.4 144.2,609.6 147.7,611.4 146,613.1 140.7,614.5 136.3,614 133.6,613.1 136.3,611.4 135.9,607Z" fill="none" stroke="#000" stroke-width="1" stroke-linejoin="round"/>
<g clip-path="url(#c_p6)">
<path d="M116.1,649.2 120.5,647.9 125.7,647.1 124.8,650.9 122.2,652.7 120.8,655.7 118.7,654.4 117.8,651.8Z" fill="#f8fbff"/>
</g>
<path d="M116.1,649.2 120.5,647.9 125.7,647.1 124.8,650.9 122.2,652.7 120.8,655.7 118.7,654.4 117.8,651.8Z" fill="none" stroke="#000" stroke-width="1" stroke-linejoin="round"/>
<g clip-path="url(#c_p7)">
<path d="M93.2,602.6 94.4,601 96.2,602.2 94.8,603.8Z" fill="#f8fbff"/>
</g>
<path d="M93.2,602.6 94.4,601 96.2,602.2 94.8,603.8Z" fill="none" stroke="#000" stroke-width="1" stroke-linejoin="round"/>
<g clip-path="url(#c_p8)">
<path d="M165.1,640.4 166.4,639.1 167.6,640.4 166.4,641.6Z" fill="#f8fbff"/>
</g>
<path d="M165.1,640.4 166.4,639.1 167.6,640.4 166.4,641.6Z" fill="none" stroke="#000" stroke-width="1" stroke-linejoin="round"/>
<g clip-path="url(#c_p9)">
<path d="M178.1,637.7 179.9,636.9 182,637.4 181.1,639.8 179.5,640.9Z" fill="#f8fbff"/>
</g>
<path d="M178.1,637.7 179.9,636.9 182,637.4 181.1,639.8 179.5,640.9Z" fill="none" stroke="#000" stroke-width="1" stroke-linejoin="round"/>
<g clip-path="url(#c_ld)">
<path d="M619.3,781.2 622.6,780.2 627.3,780.7 631.1,780.2 631.5,782.6 630.1,784.9 628.7,787.8 629.6,791.1 627.8,791.5 625.9,789.2 624,787.8 622.1,787.8 621.6,784.9 620.2,783.1Z" fill="#1fb0f0"/>
</g>
<path d="M619.3,781.2 622.6,780.2 627.3,780.7 631.1,780.2 631.5,782.6 630.1,784.9 628.7,787.8 629.6,791.1 627.8,791.5 625.9,789.2 624,787.8 622.1,787.8 621.6,784.9 620.2,783.1Z" fill="none" stroke="#000" stroke-width="1" stroke-linejoin="round"/>
<g clip-path="url(#c_ly)">
<path d="M627.9,926.2 633.5,926.8 640.1,926.8 644.4,926.2 645.3,924.6 645.8,927.4 644.8,930.2 646.2,932.1 643.9,934 644.4,936.4 647.6,938.2 651.4,939.6 653.8,941.5 652.8,944.4 650.5,946.7 647.2,945.8 644.8,943.9 642.5,941.1 639.6,940.1 636.8,939.6 634.9,937.8 632.6,935.9 630.2,933.5 629.8,931.2 628.8,928.8Z" fill="#1fb5ee"/>
<path d="M626.9,925.5C629.2,925.2 639.6,926 641.5,926.8C643.4,927.5 639.2,928.6 638.2,929.8C637.3,930.9 636.4,932.2 635.9,933.5C635.4,934.9 636,937.3 635.4,937.8C634.9,938.2 633.5,937 632.6,936.4C631.6,935.7 630.4,934.9 629.8,934C629.1,933.1 629.1,932 628.8,931.2C628.5,930.3 628.2,929.8 627.9,928.8C627.6,927.9 624.7,925.9 626.9,925.5Z" fill="#99ffff"/>
</g>
<path d="M627.9,926.2 633.5,926.8 640.1,926.8 644.4,926.2 645.3,924.6 645.8,927.4 644.8,930.2 646.2,932.1 643.9,934 644.4,936.4 647.6,938.2 651.4,939.6 653.8,941.5 652.8,944.4 650.5,946.7 647.2,945.8 644.8,943.9 642.5,941.1 639.6,940.1 636.8,939.6 634.9,937.8 632.6,935.9 630.2,933.5 629.8,931.2 628.8,928.8Z" fill="none" stroke="#000" stroke-width="1" stroke-linejoin="round"/>
<g clip-path="url(#c_lq)">
<path d="M347.4,867 349,863 352,860 355,859.4 355.6,862 353,865 349.6,868Z" fill="#1a9ee8"/>
</g>
<path d="M347.4,867 349,863 352,860 355,859.4 355.6,862 353,865 349.6,868Z" fill="none" stroke="#000" stroke-width="1" stroke-linejoin="round"/>
<g clip-path="url(#c_gs)">
<path d="M735,249.6 738,248 741.6,249.6 741,252 737,251.6Z" fill="#a07040"/>
</g>
<path d="M735,249.6 738,248 741.6,249.6 741,252 737,251.6Z" fill="none" stroke="#000" stroke-width="1" stroke-linejoin="round"/>
<g fill="none" stroke="#050505" stroke-width="1.05" stroke-linejoin="round" stroke-linecap="round">
<path d="M420,342.5 425,332.5 431.2,317.5 437.5,307.5 445,300 455,292.5 466.2,288.8 472.5,280 478.8,271.2 480,262.5 482.5,252.5 486.2,247.5 495,237.5 501.2,227.5 507.5,217.5 513.8,207.5 522.5,200 532.5,193.8 545,188.8 556.2,185 560,182.5 577.5,180.8 592.5,177.5 601.2,172.5 607.5,166.2 611.2,157.5 616.2,150 625,143.8 635,139.5 646.2,138.8 656.2,142.5 661.2,148.8 663.8,156.2 670,160.5 676.2,159.5 675,165 682.5,170 692.5,172.5 702.5,176.2 707.5,179.5 720,181.2 732.5,180.8 731.2,190 735,200 740,206.2 751.2,208 748.8,212.5 735,216.2 727.5,222.5 720,232.5 712.5,240 708,250 706.2,262.5 707.5,275 710,285 712.5,297.5 716.2,305 722,310 718.8,317.5 718.8,327.5 712.5,332.5 715,338.8 707.5,345 701.2,355 696.2,367.5 695,376 695,379.8 688.8,388.5 680,398.5 670,408.5 667.5,413.5 668,422.2 660,431 657,438.5 657.5,447.2 663.8,453.5 660,462.2 656.2,464.8 653.8,476 652,488.5 647.5,501 645,512.2 642.5,523.5 638.8,536 635,551 633.8,561 630,573.5 631.2,582.2 626.2,593.5 622.5,606 620,618.5 613.8,632 608,642 603.8,652 605,662 610,670.8 600,675.8 592.5,682 588.8,694.5 582.5,704.5 575,714.5 567.5,727 561.2,733.2 553.8,737 551.2,742 554.5,752 548.8,757 545,763.2 536.2,770.8 527.5,775.8 517.5,782 512,785.5 507.5,800.5 500,815.5 492.5,833 486.2,848 481.2,863 479.5,878 480.5,888 479.5,900.5 480.5,910.5 478.8,918 481.2,925.5 479.5,933 481.2,938 476.2,945.5 470,950.5 467,955.5 468,961.8 472.5,969.2 470.5,971.8 466.2,968 461.2,961.8 455,960 448.8,956.8 446.2,960.5 442.5,965.5 438.8,966 435,961.8 436.2,954.2 432.5,949.2 428.8,940.5 430,934.2 433.8,930.5 432.5,925.5 436.2,919.2 433.8,911.8 431.2,903 427.5,893 421.2,884.2 418.8,875.5 415,868 408.8,861.8 402.5,854.2 392.5,848 382.5,841.8 372.5,835.5 365,830.5 356.2,826.8 347.5,821.8 341.2,818 337.5,816.8 332.5,813 335,811.8 328.8,805.5 325,798 322.5,788 325,778 322,768 317.5,757 311.2,748.2 308,745.8 310,743.2 306.2,732 303.8,722 302.5,712 297.5,704.5 290,697 280,690.8 271.2,687 267.5,683.2 270,674.5 275,662 278.8,649.5 282.5,637 286.2,627 288.8,619.5 292.5,612 297.5,607 296.2,598.2 295,589.5 297.5,582 290,580.8 290,575.8 296.2,574.5 295,562 293.8,552 290,547 293.8,544.5 296.2,534.5 300,524.5 302,512 305,503.5 311.2,496 315,488.5 321.2,481 326.2,471 333.8,461 341.2,451 343.8,441 352.5,434.8 358.8,423.5 362.5,414.8 372.5,406 377.5,398.5 382.5,388.5 387.5,381 395,371 402.5,363.5 410,353.5 416.2,346Z"/>
<path d="M576.2,182.5 582.5,186.2 590,191.2 597.5,195 603.8,200 606.2,206.2 601.2,211.2 595,215 587.5,218.8 585,225 587.5,230 585,235 588.8,242.5 591.2,248.8 597.5,250 606.2,250 610,255 613.8,261.2 613.8,267.5 610,272.5 613.8,280 618.8,286.2 622.5,291.2"/>
<path d="M618.8,186.2 621.2,178.8 627.5,172.5 633.8,168.8 637.5,163.8 642.5,161.2 647.5,166.2 647.5,173.8 652.5,178.8 655,186.2 658.8,190 656.2,195 658.8,201.2 665,205 660,206.2 653.8,207.5 652,212.5 653.8,218.8 656.2,220 647.5,220.5 641.2,218.8 637.5,213.8 633.8,208.8 628.8,206.2 625,207.5 623.8,200 626.2,192.5 622.5,188.8 618.8,186.2"/>
<path d="M655,185.5 660,180 668.8,176.2 677.5,171.8"/>
<path d="M658.8,191.2 666.2,192 673.8,195.8 681.2,198 688,195 690.5,188.8 689.2,183.8 696.2,180.8 703.8,178"/>
<path d="M743.8,213 730,216.2 720,220 712.5,222.5 711.2,230 703.8,235 696.2,237.5 695,243.8 687.5,247.5 680,251.2 672.5,256.2 665,258.8 658.8,262.5 652.5,265 650,272.5 646.2,280 640,283.8 631.2,287.5 622.5,291.2 618.8,295 616.2,300 612.5,306.2 606.2,311.2 605,317.5 602.5,325 597.5,332.5 592.5,337.5 587.5,343.8 583.8,348.8 585,350"/>
<path d="M560,260 567.5,263.8 575,268.8 580,272.5 578.8,280 581.2,285 587.5,288.8 591.2,295 593.8,302.5 597.5,308.8 605,312.5"/>
<path d="M583.8,348.8 590,360 597.5,363.8 610,362.5 617.5,367.5 627.5,372.5 640,376"/>
<path d="M505,225 512.5,226.2 517.5,230 522.5,235 530,237.5 537.5,240 543.8,243.8 545,248.8 552.5,253.8 560,258.8 567.5,261.2 572.5,265 578.8,271.2 580,277.5 578.8,283.8 585,287.5 591.2,292.5 593.8,300 597.5,307.5 602,311"/>
<path d="M486.2,247.5 493.8,248.8 502.5,252.5 508.8,258.8 512,265.5 510,269.5 505,265.5 500,267 494.5,272.5 491.2,278 496.2,282.5 498.8,287.5"/>
<path d="M475,277.5 482.5,275 486.2,280.5 491.2,278"/>
<path d="M498.8,287.5 502.5,292.5 510,298.8 517.5,303.8 523.8,307.5 525,315 521.2,320 522.5,326.2 525,331.2 530,333.8 540,331.2 550,331.2 558.8,330 562.5,336.2 567.5,342.5 570,350 580,351.2 585,350"/>
<path d="M413.8,348.8 420,355 427.5,361.2 436.2,367.5 445,373.8 455,378.8 463.8,383.8 472.5,385 483.8,383.8 486.2,375 492.5,373.8 502.5,375 508.8,376.2 512.5,381.2 517.5,383.8 523.8,378.8 530,376.2 536.2,371.2 545,367.5 552.5,362.5 557.5,358.8 562.5,360 566.2,353.8 570,350"/>
<path d="M441.2,455 450,450 457.5,442.5 463.8,436.2 466.2,427.5 472.5,427.5 476.2,435 480,428.8 487.5,426.2 497.5,423.8 505,422.5 510,417.5 517.5,418.8 525,412.5 532.5,408.8 540,403.8 547.5,405 555,400 565,397.5 572.5,397.5 580,400 587.5,400 592.5,402.5 597.5,395 600,387.5 605,383.8 612,380"/>
<path d="M590,400 587.5,406.2 580,411.2 576.2,417.5 577.5,423.8 583.8,427.5 584.5,435 580,442.5 575,450 571.2,458.8 570,467.5 572.5,477.5 570,486.2 566.2,495 563.8,502.5 560,510 557.5,513.8 562.5,517.5 563.8,527.5 563.8,537.5 561.2,547.5 555,553.8 547.5,556.2 542.5,560 541.2,567.5 535,573.8 525,575 520,581.2 516.2,586.2 518.8,590 512.5,595 511.2,600 506.2,607.5 503.8,612.5 510,617.5 515,621.2 516.2,627.5"/>
<path d="M440,552.5 447.5,551.2 456.2,553.8 461.2,556.2 460,565 462.5,575 465,583.8 475,586.2 485,586.2 496.2,586.2 505,587.5 510,593.8"/>
<path d="M496.2,586.2 487.5,590 477.5,593.8 473.8,600 472,606.2"/>
<path d="M516.2,627.5 507.5,630 498.8,633.8 490,640 485,646.2 483.8,656"/>
<path d="M516.2,627.5 521.2,633.8 523.8,640 530,643.8 537.5,647.5 542.5,651.2 550,652.5 553.8,656"/>
<path d="M626.2,596.2 620,593.8 612.5,596.2 607.5,603.8 605,611.2 607.5,615 602.5,622.5 598.8,630 596.2,640 593.8,647.5 590,656"/>
<path d="M371.2,407.5 377.5,407.5 385,412.5 388.8,421.2 396.2,427.5 405,430 411.2,432.5 413.8,442.5 416.2,448.8 425,450 432.5,453.8 443.8,455"/>
<path d="M416.2,448.8 417.5,455 418.8,462.5 415,468.8 416.2,477.5 413.8,486.2 412.5,495 417.5,500 426.2,502.5 427.5,505 420,508.8"/>
<path d="M315,491.2 323.8,496.2 335,498.8 347.5,499.5 360,498.8 367.5,498.8 377.5,502.5 390,505 402.5,507 412.5,508 420,508.8 421.2,515 418.8,522.5 417.5,532.5 416.2,540 415,547.5 420,550 430,551.2 435,547.5 438.8,550 446.2,551.2 455,553.8 461.2,556.2 460,565 462.5,575 465,583.8 472,585"/>
<path d="M438.8,550 440,560 435,561.2 426.2,560 420,556.2 410,557.5 400,557.5 391.2,553.8 385,547.5"/>
<path d="M297,575 303.8,576.2 312.5,577.5 320,575 321.2,568.8 327.5,570 333.8,563.8 340,561.2 345,556.2 352.5,552.5 358.8,547.5 365,548.8 372.5,547.5 382.5,546.2 385,547.5"/>
<path d="M356.2,580 362.5,578 367.5,575 372.5,578 377.5,577.5 382.5,581.2 384.5,586.2 378.8,588.8 373.8,591.2 370,593.8 365,590 358.8,588.8 357,584.5 356.2,580"/>
<path d="M291.2,617.5 297.5,622.5 303.8,628.8 310,630 316.2,625 323.8,620 327.5,615 332.5,611.2 340,606.2 347.5,603.8 356.2,601.2 365,600 372.5,601.2 380,605 382.5,611.2 388.8,617.5 391.2,625 388.8,632.5 390,641.2 396.2,646.2 403.8,647.5 406.2,643.8 412.5,646.2 418.8,647.5"/>
<path d="M472,606.2 465,610 457.5,613.8 450,617.5 443.8,622.5 435,625 426.2,627.5 420,628.8 418.8,637.5 418.8,647.5 417.5,656"/>
<path d="M388.8,642.5 396.2,645 405,647.5 412.5,646.2 420,648.8 417.5,655 412.5,662.5 407.5,670 402.5,677.5 396.2,685 388.8,691.2 380,697.5 373.8,703.8 370,711.2 365,717.5 360,721.2 353.8,723.8 347.5,727.5 340,726.2 330,725 322.5,726.2 315,723.8 307.5,722.5 303.8,721.2"/>
<path d="M365,831.2 364.5,820 366.2,810 368.8,800 367.5,790 368.8,777.5 371.2,765 372.5,752.5 375,742.5 385,742 395,742.5 402.5,738.8 410,733.8 417.5,730.5 422.5,735 430,733.8 437.5,730.5 445,733.8 450,740 457.5,736.2 465,734.5 472.5,736.2 475,745 480,750 480,760 478.8,770 470,772.5 460,776.2 453.8,778.8 451.2,787.5 446.2,795 442.5,805 442.5,815 446.2,825 448.8,835 452.5,841.2 445,847.5 443.8,855 450,861.2 453.8,867.5 452.5,873.8 457.5,880 465,883.8 472.5,887.5 479.5,886.2"/>
<path d="M472.5,736.2 470,728.8 466.2,722.5 462.5,715 465,706.2 470,700 473.8,692.5 472.5,685 477.5,677.5 476.2,667.5 481.2,660 483.8,650 486.2,642.5 490,640"/>
<path d="M555,657 560,664.5 567.5,670.8 572.5,677 580,674.5 585,664.5 590,656"/>
<path d="M572.5,677 583.8,675 592.5,673.5 602.5,672 610,670.8"/>
<path d="M640,376 646,379 652,380 654,376 657,372 660,366 664,369 670,371 678,374 686,377 694,379"/>
</g>
<path d="M293,562.5 287.5,567.5 280,573.2 272.5,579 265,584 260.5,587 262.5,591.5 265,594" fill="none" stroke="#0a0a0a" stroke-width="0.8"/>
<path d="M294.5,565 287.5,570.8 280,576.5 272.5,582 265.5,587 263.8,590" fill="none" stroke="#0a0a0a" stroke-width="0.8"/>
<path d="M293.8,563.8 287.5,569 283.8,573.5 280,575 276.2,579 272.5,580.5 268.8,584.5 265,585.5 262,588.2" fill="none" stroke="#0a0a0a" stroke-width="0.8"/>
<circle cx="169.7" cy="174.2" r="1.2" fill="#000"/>
<circle cx="126.3" cy="248.9" r="1.4" fill="#000"/>
<circle cx="154.1" cy="255.9" r="0.7" fill="#000"/>
<circle cx="164.7" cy="194.9" r="0.7" fill="#000"/>
<circle cx="140.9" cy="292.2" r="0.8" fill="#000"/>
<circle cx="314" cy="272.9" r="0.9" fill="#000"/>
<circle cx="253.3" cy="277.6" r="0.7" fill="#000"/>
<circle cx="90.1" cy="400.8" r="0.8" fill="#000"/>
<circle cx="85.8" cy="407.2" r="0.8" fill="#000"/>
<circle cx="83.9" cy="422.3" r="1.1" fill="#000"/>
<circle cx="114.2" cy="400.2" r="1.4" fill="#000"/>
<circle cx="160.9" cy="502.7" r="0.8" fill="#000"/>
<circle cx="157" cy="510.2" r="0.8" fill="#000"/>
<circle cx="151.2" cy="526.1" r="1.2" fill="#000"/>
<circle cx="165.3" cy="526.9" r="0.8" fill="#000"/>
<circle cx="153" cy="532.2" r="0.8" fill="#000"/>
<circle cx="160.9" cy="532.2" r="0.8" fill="#000"/>
<circle cx="167.1" cy="533.1" r="0.8" fill="#000"/>
<circle cx="177.6" cy="546.6" r="0.8" fill="#000"/>
<circle cx="183.8" cy="548" r="0.8" fill="#000"/>
<circle cx="187.3" cy="550.7" r="0.9" fill="#000"/>
<circle cx="185.5" cy="555.1" r="0.8" fill="#000"/>
<circle cx="193.4" cy="564.7" r="0.7" fill="#000"/>
<circle cx="193.4" cy="570" r="0.8" fill="#000"/>
<circle cx="187.3" cy="569.1" r="0.7" fill="#000"/>
<circle cx="177.6" cy="568.3" r="0.7" fill="#000"/>
<circle cx="142.4" cy="576.2" r="1.2" fill="#000"/>
<circle cx="129.2" cy="615.2" r="1.1" fill="#000"/>
<circle cx="94.9" cy="621.9" r="0.8" fill="#000"/>
<circle cx="97.6" cy="623.3" r="0.7" fill="#000"/>
<circle cx="138.9" cy="630.7" r="0.8" fill="#000"/>
<circle cx="139.8" cy="635.1" r="1.1" fill="#000"/>
<circle cx="141.9" cy="638.1" r="1.2" fill="#000"/>
<circle cx="138" cy="644.4" r="0.7" fill="#000"/>
<circle cx="150.3" cy="642.1" r="0.7" fill="#000"/>
<circle cx="171.5" cy="542.4" r="1.1" fill="#000"/>
<circle cx="154.7" cy="549.8" r="0.9" fill="#000"/>
<circle cx="655.2" cy="958.9" r="1.5" fill="#000"/>
<circle cx="697.8" cy="164.5" r="0.9" fill="#000"/>
<rect x="791.5" y="471" width="25.5" height="29" fill="#ffccff"/>
<rect x="791.5" y="499.7" width="25.5" height="29" fill="#ff00ff"/>
<rect x="791.5" y="528.4" width="25.5" height="29" fill="#cc00cc"/>
<rect x="791.5" y="557" width="25.5" height="29" fill="#990099"/>
<rect x="791.5" y="585.7" width="25.5" height="29" fill="#990000"/>
<rect x="791.5" y="614.4" width="25.5" height="29" fill="#cc0000"/>
<rect x="791.5" y="643.1" width="25.5" height="29" fill="#ff0000"/>
<rect x="791.5" y="671.7" width="25.5" height="29" fill="#ff9900"/>
<rect x="791.5" y="700.4" width="25.5" height="29" fill="#ffcc00"/>
<rect x="791.5" y="729.1" width="25.5" height="29" fill="#ffff00"/>
<rect x="791.5" y="757.8" width="25.5" height="29" fill="#33ff00"/>
<rect x="791.5" y="786.4" width="25.5" height="29" fill="#339900"/>
<rect x="791.5" y="815.1" width="25.5" height="29" fill="#0066ff"/>
<rect x="791.5" y="843.8" width="25.5" height="29" fill="#0099ff"/>
<rect x="791.5" y="872.5" width="25.5" height="29" fill="#00ccff"/>
<rect x="791.5" y="901.1" width="25.5" height="29" fill="#99ffff"/>
<rect x="791.5" y="929.8" width="25.5" height="29" fill="#c1c1c1"/>
<line x1="791.5" y1="499.7" x2="817" y2="499.7" stroke="#222" stroke-width="0.7" stroke-opacity="0.75"/>
<line x1="791.5" y1="528.4" x2="817" y2="528.4" stroke="#222" stroke-width="0.7" stroke-opacity="0.75"/>
<line x1="791.5" y1="557" x2="817" y2="557" stroke="#222" stroke-width="0.7" stroke-opacity="0.75"/>
<line x1="791.5" y1="585.7" x2="817" y2="585.7" stroke="#222" stroke-width="0.7" stroke-opacity="0.75"/>
<line x1="791.5" y1="614.4" x2="817" y2="614.4" stroke="#222" stroke-width="0.7" stroke-opacity="0.75"/>
<line x1="791.5" y1="643.1" x2="817" y2="643.1" stroke="#222" stroke-width="0.7" stroke-opacity="0.75"/>
<line x1="791.5" y1="671.7" x2="817" y2="671.7" stroke="#222" stroke-width="0.7" stroke-opacity="0.75"/>
<line x1="791.5" y1="700.4" x2="817" y2="700.4" stroke="#222" stroke-width="0.7" stroke-opacity="0.75"/>
<line x1="791.5" y1="729.1" x2="817" y2="729.1" stroke="#222" stroke-width="0.7" stroke-opacity="0.75"/>
<line x1="791.5" y1="757.8" x2="817" y2="757.8" stroke="#222" stroke-width="0.7" stroke-opacity="0.75"/>
<line x1="791.5" y1="786.4" x2="817" y2="786.4" stroke="#222" stroke-width="0.7" stroke-opacity="0.75"/>
<line x1="791.5" y1="815.1" x2="817" y2="815.1" stroke="#222" stroke-width="0.7" stroke-opacity="0.75"/>
<line x1="791.5" y1="843.8" x2="817" y2="843.8" stroke="#222" stroke-width="0.7" stroke-opacity="0.75"/>
<line x1="791.5" y1="872.5" x2="817" y2="872.5" stroke="#222" stroke-width="0.7" stroke-opacity="0.75"/>
<line x1="791.5" y1="901.1" x2="817" y2="901.1" stroke="#222" stroke-width="0.7" stroke-opacity="0.75"/>
<line x1="791.5" y1="929.8" x2="817" y2="929.8" stroke="#222" stroke-width="0.7" stroke-opacity="0.75"/>
<rect x="791.5" y="471" width="25.5" height="487.5" fill="none" stroke="#333" stroke-width="1"/>
<text x="735.5" y="507.9" font-size="19" class="cj" fill="#555" style="fill:#555">≧</text>
<text x="788.6" y="509" font-size="24.7" text-anchor="end" textLength="30.8" lengthAdjust="spacingAndGlyphs" style="fill:#2b2b2b">300</text>
<text x="788.6" y="537.7" font-size="24.7" text-anchor="end" textLength="30.8" lengthAdjust="spacingAndGlyphs" style="fill:#2b2b2b">200</text>
<text x="788.6" y="566.3" font-size="24.7" text-anchor="end" textLength="30.8" lengthAdjust="spacingAndGlyphs" style="fill:#2b2b2b">150</text>
<text x="788.6" y="595" font-size="24.7" text-anchor="end" textLength="30.8" lengthAdjust="spacingAndGlyphs" style="fill:#2b2b2b">130</text>
<text x="788.6" y="623.7" font-size="24.7" text-anchor="end" textLength="30.8" lengthAdjust="spacingAndGlyphs" style="fill:#2b2b2b">110</text>
<text x="788.6" y="652.4" font-size="24.7" text-anchor="end" textLength="20.4" lengthAdjust="spacingAndGlyphs" style="fill:#2b2b2b">90</text>
<text x="788.6" y="681" font-size="24.7" text-anchor="end" textLength="20.4" lengthAdjust="spacingAndGlyphs" style="fill:#2b2b2b">70</text>
<text x="788.6" y="709.7" font-size="24.7" text-anchor="end" textLength="20.4" lengthAdjust="spacingAndGlyphs" style="fill:#2b2b2b">50</text>
<text x="788.6" y="738.4" font-size="24.7" text-anchor="end" textLength="20.4" lengthAdjust="spacingAndGlyphs" style="fill:#2b2b2b">40</text>
<text x="788.6" y="767.1" font-size="24.7" text-anchor="end" textLength="20.4" lengthAdjust="spacingAndGlyphs" style="fill:#2b2b2b">30</text>
<text x="788.6" y="795.7" font-size="24.7" text-anchor="end" textLength="20.4" lengthAdjust="spacingAndGlyphs" style="fill:#2b2b2b">20</text>
<text x="788.6" y="824.4" font-size="24.7" text-anchor="end" textLength="20.4" lengthAdjust="spacingAndGlyphs" style="fill:#2b2b2b">15</text>
<text x="788.6" y="853.1" font-size="24.7" text-anchor="end" textLength="20.4" lengthAdjust="spacingAndGlyphs" style="fill:#2b2b2b">10</text>
<text x="788.6" y="881.8" font-size="24.7" text-anchor="end" textLength="9.8" lengthAdjust="spacingAndGlyphs" style="fill:#2b2b2b">5</text>
<text x="788.6" y="910.4" font-size="24.7" text-anchor="end" textLength="9.8" lengthAdjust="spacingAndGlyphs" style="fill:#2b2b2b">2</text>
<text x="788.6" y="939.1" font-size="24.7" text-anchor="end" textLength="9.8" lengthAdjust="spacingAndGlyphs" style="fill:#2b2b2b">1</text>
<text x="757.5" y="967.3" font-size="24.7" textLength="10" lengthAdjust="spacingAndGlyphs" style="fill:#2b2b2b">0</text>
<text x="771.5" y="967.3" font-size="24.7" textLength="4" lengthAdjust="spacingAndGlyphs" style="fill:#2b2b2b">.</text>
<text x="779.5" y="967.3" font-size="24.7" textLength="10" lengthAdjust="spacingAndGlyphs" style="fill:#2b2b2b">5</text>
<text x="638.1" y="1002" font-size="24.5" class="cj" style="fill:#222">（</text>
<text x="667.4" y="1002" font-size="24.5" class="cj" style="letter-spacing:0.3px;fill:#222">單位：毫米）</text>
<ellipse cx="133.6" cy="927.1" rx="94.2" ry="53.3" fill="#272a63"/>
<g transform="translate(40,885) scale(0.22351)">
<path d="M35,180C31.7,173.5 64.2,161.2 80,156C95.8,150.8 113.3,148.3 130,149C146.7,149.7 163.3,155.3 180,160C196.7,164.7 215.3,174.2 230,177C244.7,179.8 256.7,180.2 268,177C279.3,173.8 289.7,167.2 298,158C306.3,148.8 312,134.2 318,122C324,109.8 327,95.7 334,85C341,74.3 349.8,64 360,58C370.2,52 383.3,49 395,49C406.7,49 420.2,51.5 430,58C439.8,64.5 449.3,77.3 454,88C458.7,98.7 459.3,111.7 458,122C456.7,132.3 451.7,143.2 446,150C440.3,156.8 423.3,158.7 424,163C424.7,167.3 442,171.5 450,176C458,180.5 477.3,185.7 472,190C466.7,194.3 433.3,198.2 418,202C402.7,205.8 393,208.7 380,213C367,217.3 355,223.5 340,228C325,232.5 308.3,238.7 290,240C271.7,241.3 250,240 230,236C210,232 191.7,222.8 170,216C148.3,209.2 122.5,201 100,195C77.5,189 38.3,186.5 35,180Z" fill="#f5f8fe"/>
<path transform="rotate(180 418 185)" d="M35,180C31.7,173.5 64.2,161.2 80,156C95.8,150.8 113.3,148.3 130,149C146.7,149.7 163.3,155.3 180,160C196.7,164.7 215.3,174.2 230,177C244.7,179.8 256.7,180.2 268,177C279.3,173.8 289.7,167.2 298,158C306.3,148.8 312,134.2 318,122C324,109.8 327,95.7 334,85C341,74.3 349.8,64 360,58C370.2,52 383.3,49 395,49C406.7,49 420.2,51.5 430,58C439.8,64.5 449.3,77.3 454,88C458.7,98.7 459.3,111.7 458,122C456.7,132.3 451.7,143.2 446,150C440.3,156.8 423.3,158.7 424,163C424.7,167.3 442,171.5 450,176C458,180.5 477.3,185.7 472,190C466.7,194.3 433.3,198.2 418,202C402.7,205.8 393,208.7 380,213C367,217.3 355,223.5 340,228C325,232.5 308.3,238.7 290,240C271.7,241.3 250,240 230,236C210,232 191.7,222.8 170,216C148.3,209.2 122.5,201 100,195C77.5,189 38.3,186.5 35,180Z" fill="#f5f8fe"/>
<ellipse cx="396" cy="121" rx="35" ry="31" fill="#272a63"/>
<path d="M376,140C377.3,142.8 379.7,152.2 384,157C388.3,161.8 394.3,165.5 402,169C409.7,172.5 421,177.7 430,178C439,178.3 449.2,175.8 456,171C462.8,166.2 468.5,152.7 471,149" fill="none" stroke="#272a63" stroke-width="13" stroke-linecap="round"/>
<path d="M452,143C448.7,142.7 438.2,143.2 432,141C425.8,138.8 418.5,133.2 415,130C411.5,126.8 411.7,123.3 411,122" fill="none" stroke="#f5f8fe" stroke-width="21" stroke-linecap="round"/>
<ellipse transform="rotate(180 418 185)" cx="396" cy="121" rx="35" ry="31" fill="#272a63"/>
<path transform="rotate(180 418 185)" d="M376,140C377.3,142.8 379.7,152.2 384,157C388.3,161.8 394.3,165.5 402,169C409.7,172.5 421,177.7 430,178C439,178.3 449.2,175.8 456,171C462.8,166.2 468.5,152.7 471,149" fill="none" stroke="#272a63" stroke-width="13" stroke-linecap="round"/>
<path transform="rotate(180 418 185)" d="M452,143C448.7,142.7 438.2,143.2 432,141C425.8,138.8 418.5,133.2 415,130C411.5,126.8 411.7,123.3 411,122" fill="none" stroke="#f5f8fe" stroke-width="21" stroke-linecap="round"/>
</g>
<path d="M840.5,103.5V1016.5H8.5" fill="none" stroke="#8a8a8a" stroke-width="1.4"/>
<path d="M8.5,1016.5V103.5H840.5" fill="none" stroke="#1a1a1a" stroke-width="1.6"/>
<text x="331.5" y="31.8" font-size="29" class="cj" style="letter-spacing:0.6px">定量降水預報</text>
<text x="512.1" y="31.8" font-size="29" class="cj">（</text>
<text x="544.2" y="31.8" font-size="29" class="cj">Ｉ</text>
<text x="578.3" y="31.8" font-size="29" class="cj">）</text>
<text x="34.8" y="65.6" font-size="29.6" class="cj" style="letter-spacing:-1.55px">發布時間</text>
<text x="157" y="64.8" font-size="32" textLength="5" lengthAdjust="spacingAndGlyphs">:</text>
<text x="172.5" y="64.8" font-size="32" textLength="192" lengthAdjust="spacingAndGlyphs">2025/10/20 05:30</text>
<text x="34.8" y="96.1" font-size="29.6" class="cj" style="letter-spacing:-1.55px">有效時間</text>
<text x="157" y="95.3" font-size="32" textLength="5" lengthAdjust="spacingAndGlyphs">:</text>
<text x="172.5" y="95.3" font-size="32" textLength="192" lengthAdjust="spacingAndGlyphs">2025/10/20 08:00</text>
<text x="375" y="94.5" font-size="27" class="cj" textLength="24" lengthAdjust="spacingAndGlyphs">～</text>
<text x="409" y="95.3" font-size="32" textLength="192.7" lengthAdjust="spacingAndGlyphs">2025/10/20 20:00</text>
</svg></body></html>
